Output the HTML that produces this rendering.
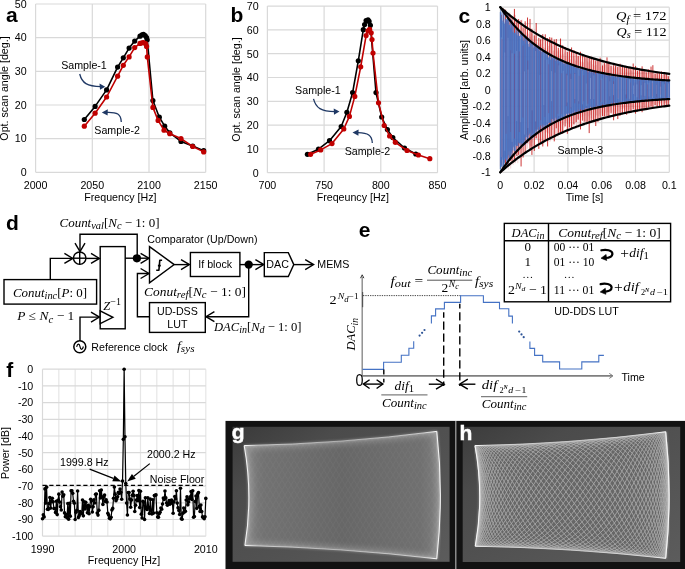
<!DOCTYPE html>
<html><head><meta charset="utf-8"><title>figure</title>
<style>
html,body{margin:0;padding:0;background:#fff;}
svg{display:block;will-change:transform;}
.s{font-family:"Liberation Sans",sans-serif;}
.b{font-family:"Liberation Sans",sans-serif;font-weight:bold;}
.m{font-family:"Liberation Serif",serif;font-style:italic;}
.r{font-family:"Liberation Serif",serif;}
</style></head><body>
<svg width="685" height="569" viewBox="0 0 685 569">
<rect x="0" y="0" width="685" height="569" fill="#fff"/>
<line x1="35.6" y1="4" x2="205.7" y2="4" stroke="#d9d9d9" stroke-width="1.2" />
<line x1="35.6" y1="37.66" x2="205.7" y2="37.66" stroke="#d9d9d9" stroke-width="1.2" />
<line x1="35.6" y1="71.32" x2="205.7" y2="71.32" stroke="#d9d9d9" stroke-width="1.2" />
<line x1="35.6" y1="104.98" x2="205.7" y2="104.98" stroke="#d9d9d9" stroke-width="1.2" />
<line x1="35.6" y1="138.64" x2="205.7" y2="138.64" stroke="#d9d9d9" stroke-width="1.2" />
<line x1="35.6" y1="172.3" x2="205.7" y2="172.3" stroke="#d9d9d9" stroke-width="1.2" />
<line x1="35.6" y1="4" x2="35.6" y2="172.3" stroke="#d9d9d9" stroke-width="1.2" />
<line x1="92.3" y1="4" x2="92.3" y2="172.3" stroke="#d9d9d9" stroke-width="1.2" />
<line x1="149" y1="4" x2="149" y2="172.3" stroke="#d9d9d9" stroke-width="1.2" />
<line x1="205.7" y1="4" x2="205.7" y2="172.3" stroke="#d9d9d9" stroke-width="1.2" />
<text x="26.7" y="7.8" font-size="10.67" text-anchor="end" class="s" fill="#000" >50</text>
<text x="26.7" y="41.46" font-size="10.67" text-anchor="end" class="s" fill="#000" >40</text>
<text x="26.7" y="75.12" font-size="10.67" text-anchor="end" class="s" fill="#000" >30</text>
<text x="26.7" y="108.78" font-size="10.67" text-anchor="end" class="s" fill="#000" >20</text>
<text x="26.7" y="142.44" font-size="10.67" text-anchor="end" class="s" fill="#000" >10</text>
<text x="26.7" y="176.1" font-size="10.67" text-anchor="end" class="s" fill="#000" >0</text>
<text x="35.6" y="188.8" font-size="10.67" text-anchor="middle" class="s" fill="#000" >2000</text>
<text x="92.3" y="188.8" font-size="10.67" text-anchor="middle" class="s" fill="#000" >2050</text>
<text x="149" y="188.8" font-size="10.67" text-anchor="middle" class="s" fill="#000" >2100</text>
<text x="205.7" y="188.8" font-size="10.67" text-anchor="middle" class="s" fill="#000" >2150</text>
<text x="120.4" y="200.8" font-size="10.67" text-anchor="middle" class="s" fill="#000" >Frequency [Hz]</text>
<text transform="translate(8.3,88.5) rotate(-90)" font-size="10.67" text-anchor="middle" class="s">Opt. scan angle [deg.]</text>
<text x="6" y="22" font-size="21" text-anchor="start" class="b" fill="#000" >a</text>
<polyline points="84.3,119.5 95.1,106.4 106.6,89.9 117.6,67.1 123.3,57.8 129.1,48.1 134.7,41.1 140,36.2 142,34.8 143.5,34.4 145.2,35.5 146.6,37.5 147.2,39.8 152.9,100.5 159.3,117.2 164.7,126.2 169.8,132.8 181,141.4 192.7,146.1 203.7,150.7" fill="none" stroke="#000" stroke-width="1.6" stroke-linejoin="round" stroke-linecap="round" />
<circle cx="84.3" cy="119.5" r="2.6" fill="#000"/><circle cx="95.1" cy="106.4" r="2.6" fill="#000"/><circle cx="106.6" cy="89.9" r="2.6" fill="#000"/><circle cx="117.6" cy="67.1" r="2.6" fill="#000"/><circle cx="123.3" cy="57.8" r="2.6" fill="#000"/><circle cx="129.1" cy="48.1" r="2.6" fill="#000"/><circle cx="134.7" cy="41.1" r="2.6" fill="#000"/><circle cx="140" cy="36.2" r="2.6" fill="#000"/><circle cx="142" cy="34.8" r="2.6" fill="#000"/><circle cx="143.5" cy="34.4" r="2.6" fill="#000"/><circle cx="145.2" cy="35.5" r="2.6" fill="#000"/><circle cx="146.6" cy="37.5" r="2.6" fill="#000"/><circle cx="147.2" cy="39.8" r="2.6" fill="#000"/><circle cx="152.9" cy="100.5" r="2.6" fill="#000"/><circle cx="159.3" cy="117.2" r="2.6" fill="#000"/><circle cx="164.7" cy="126.2" r="2.6" fill="#000"/><circle cx="169.8" cy="132.8" r="2.6" fill="#000"/><circle cx="181" cy="141.4" r="2.6" fill="#000"/><circle cx="192.7" cy="146.1" r="2.6" fill="#000"/><circle cx="203.7" cy="150.7" r="2.6" fill="#000"/>
<polyline points="84.3,126.2 95.1,113.2 106.6,97 117.6,76.2 123.3,65.3 129.1,56.9 134.7,47.6 140,43.4 142,42.8 143.5,42.5 145.6,43.7 146.6,46.4 147.3,56.9 152.9,107.4 158.1,120.4 164,130.2 169.8,133.7 181,138.6 192.7,146.5 203.7,151.9" fill="none" stroke="#c00000" stroke-width="1.6" stroke-linejoin="round" stroke-linecap="round" />
<circle cx="84.3" cy="126.2" r="2.6" fill="#c00000"/><circle cx="95.1" cy="113.2" r="2.6" fill="#c00000"/><circle cx="106.6" cy="97" r="2.6" fill="#c00000"/><circle cx="117.6" cy="76.2" r="2.6" fill="#c00000"/><circle cx="123.3" cy="65.3" r="2.6" fill="#c00000"/><circle cx="129.1" cy="56.9" r="2.6" fill="#c00000"/><circle cx="134.7" cy="47.6" r="2.6" fill="#c00000"/><circle cx="140" cy="43.4" r="2.6" fill="#c00000"/><circle cx="142" cy="42.8" r="2.6" fill="#c00000"/><circle cx="143.5" cy="42.5" r="2.6" fill="#c00000"/><circle cx="145.6" cy="43.7" r="2.6" fill="#c00000"/><circle cx="146.6" cy="46.4" r="2.6" fill="#c00000"/><circle cx="147.3" cy="56.9" r="2.6" fill="#c00000"/><circle cx="152.9" cy="107.4" r="2.6" fill="#c00000"/><circle cx="158.1" cy="120.4" r="2.6" fill="#c00000"/><circle cx="164" cy="130.2" r="2.6" fill="#c00000"/><circle cx="169.8" cy="133.7" r="2.6" fill="#c00000"/><circle cx="181" cy="138.6" r="2.6" fill="#c00000"/><circle cx="192.7" cy="146.5" r="2.6" fill="#c00000"/><circle cx="203.7" cy="151.9" r="2.6" fill="#c00000"/>
<text x="61.2" y="69.2" font-size="10.67" text-anchor="start" class="s" fill="#000" >Sample-1</text>
<text x="94.3" y="134" font-size="10.67" text-anchor="start" class="s" fill="#000" >Sample-2</text>
<path d="M79.7,74 C82,83 87,86.5 101,86.6" fill="none" stroke="#1f3864" stroke-width="1.3"/>
<path d="M105.2,86.8 L99.5,83.6 L100,89.8 Z" fill="#1f3864"/>
<path d="M121.3,122 C121,114 117,112 107,112.3" fill="none" stroke="#1f3864" stroke-width="1.3"/>
<path d="M101.8,112.6 L107.8,109.3 L107.6,115.6 Z" fill="#1f3864"/>
<line x1="267.4" y1="6.1" x2="437.5" y2="6.1" stroke="#d9d9d9" stroke-width="1.2" />
<line x1="267.4" y1="29.9" x2="437.5" y2="29.9" stroke="#d9d9d9" stroke-width="1.2" />
<line x1="267.4" y1="53.7" x2="437.5" y2="53.7" stroke="#d9d9d9" stroke-width="1.2" />
<line x1="267.4" y1="77.5" x2="437.5" y2="77.5" stroke="#d9d9d9" stroke-width="1.2" />
<line x1="267.4" y1="101.3" x2="437.5" y2="101.3" stroke="#d9d9d9" stroke-width="1.2" />
<line x1="267.4" y1="125.1" x2="437.5" y2="125.1" stroke="#d9d9d9" stroke-width="1.2" />
<line x1="267.4" y1="148.9" x2="437.5" y2="148.9" stroke="#d9d9d9" stroke-width="1.2" />
<line x1="267.4" y1="172.7" x2="437.5" y2="172.7" stroke="#d9d9d9" stroke-width="1.2" />
<line x1="267.4" y1="6.1" x2="267.4" y2="172.7" stroke="#d9d9d9" stroke-width="1.2" />
<line x1="324.1" y1="6.1" x2="324.1" y2="172.7" stroke="#d9d9d9" stroke-width="1.2" />
<line x1="380.8" y1="6.1" x2="380.8" y2="172.7" stroke="#d9d9d9" stroke-width="1.2" />
<line x1="437.5" y1="6.1" x2="437.5" y2="172.7" stroke="#d9d9d9" stroke-width="1.2" />
<text x="258.7" y="9.9" font-size="10.67" text-anchor="end" class="s" fill="#000" >70</text>
<text x="258.7" y="33.7" font-size="10.67" text-anchor="end" class="s" fill="#000" >60</text>
<text x="258.7" y="57.5" font-size="10.67" text-anchor="end" class="s" fill="#000" >50</text>
<text x="258.7" y="81.3" font-size="10.67" text-anchor="end" class="s" fill="#000" >40</text>
<text x="258.7" y="105.1" font-size="10.67" text-anchor="end" class="s" fill="#000" >30</text>
<text x="258.7" y="128.9" font-size="10.67" text-anchor="end" class="s" fill="#000" >20</text>
<text x="258.7" y="152.7" font-size="10.67" text-anchor="end" class="s" fill="#000" >10</text>
<text x="258.7" y="176.5" font-size="10.67" text-anchor="end" class="s" fill="#000" >0</text>
<text x="267.4" y="188.8" font-size="10.67" text-anchor="middle" class="s" fill="#000" >700</text>
<text x="324.1" y="188.8" font-size="10.67" text-anchor="middle" class="s" fill="#000" >750</text>
<text x="380.8" y="188.8" font-size="10.67" text-anchor="middle" class="s" fill="#000" >800</text>
<text x="437.5" y="188.8" font-size="10.67" text-anchor="middle" class="s" fill="#000" >850</text>
<text x="352.8" y="200.8" font-size="10.67" text-anchor="middle" class="s" fill="#000" >Freqeuncy [Hz]</text>
<text transform="translate(240.2,89.5) rotate(-90)" font-size="10.67" text-anchor="middle" class="s">Opt. scan angle [deg.]</text>
<text x="230.5" y="21.9" font-size="21" text-anchor="start" class="b" fill="#000" >b</text>
<polyline points="307.4,154.3 318.5,149.2 329.5,140.7 341.2,126.5 346.9,112.3 352.6,92.6 358.3,60.8 363.3,29.7 364.6,24.5 366.1,20.6 368,19.8 369.1,21.4 370.4,25.3 376,92.6 381.7,117 387.4,129.6 392.8,137.5 404.5,148 415.8,154" fill="none" stroke="#000" stroke-width="1.6" stroke-linejoin="round" stroke-linecap="round" />
<circle cx="307.4" cy="154.3" r="2.6" fill="#000"/><circle cx="318.5" cy="149.2" r="2.6" fill="#000"/><circle cx="329.5" cy="140.7" r="2.6" fill="#000"/><circle cx="341.2" cy="126.5" r="2.6" fill="#000"/><circle cx="346.9" cy="112.3" r="2.6" fill="#000"/><circle cx="352.6" cy="92.6" r="2.6" fill="#000"/><circle cx="358.3" cy="60.8" r="2.6" fill="#000"/><circle cx="363.3" cy="29.7" r="2.6" fill="#000"/><circle cx="364.6" cy="24.5" r="2.6" fill="#000"/><circle cx="366.1" cy="20.6" r="2.6" fill="#000"/><circle cx="368" cy="19.8" r="2.6" fill="#000"/><circle cx="369.1" cy="21.4" r="2.6" fill="#000"/><circle cx="370.4" cy="25.3" r="2.6" fill="#000"/><circle cx="376" cy="92.6" r="2.6" fill="#000"/><circle cx="381.7" cy="117" r="2.6" fill="#000"/><circle cx="387.4" cy="129.6" r="2.6" fill="#000"/><circle cx="392.8" cy="137.5" r="2.6" fill="#000"/><circle cx="404.5" cy="148" r="2.6" fill="#000"/><circle cx="415.8" cy="154" r="2.6" fill="#000"/>
<polyline points="310.6,154.3 320.7,149.9 332,143.6 343.8,129 349.4,116.4 354.8,96.4 360.7,66.8 366.1,35.6 368,30.9 369.6,29.3 371.2,32.8 372,39.6 373,53.1 378.5,102.8 384.2,125.5 389.6,136 395.3,142.3 407,150.5 418.4,155 429.8,158.7" fill="none" stroke="#c00000" stroke-width="1.6" stroke-linejoin="round" stroke-linecap="round" />
<circle cx="310.6" cy="154.3" r="2.6" fill="#c00000"/><circle cx="320.7" cy="149.9" r="2.6" fill="#c00000"/><circle cx="332" cy="143.6" r="2.6" fill="#c00000"/><circle cx="343.8" cy="129" r="2.6" fill="#c00000"/><circle cx="349.4" cy="116.4" r="2.6" fill="#c00000"/><circle cx="354.8" cy="96.4" r="2.6" fill="#c00000"/><circle cx="360.7" cy="66.8" r="2.6" fill="#c00000"/><circle cx="366.1" cy="35.6" r="2.6" fill="#c00000"/><circle cx="368" cy="30.9" r="2.6" fill="#c00000"/><circle cx="369.6" cy="29.3" r="2.6" fill="#c00000"/><circle cx="371.2" cy="32.8" r="2.6" fill="#c00000"/><circle cx="372" cy="39.6" r="2.6" fill="#c00000"/><circle cx="373" cy="53.1" r="2.6" fill="#c00000"/><circle cx="378.5" cy="102.8" r="2.6" fill="#c00000"/><circle cx="384.2" cy="125.5" r="2.6" fill="#c00000"/><circle cx="389.6" cy="136" r="2.6" fill="#c00000"/><circle cx="395.3" cy="142.3" r="2.6" fill="#c00000"/><circle cx="407" cy="150.5" r="2.6" fill="#c00000"/><circle cx="418.4" cy="155" r="2.6" fill="#c00000"/><circle cx="429.8" cy="158.7" r="2.6" fill="#c00000"/>
<text x="295.1" y="93.8" font-size="10.67" text-anchor="start" class="s" fill="#000" >Sample-1</text>
<text x="344.7" y="154.6" font-size="10.67" text-anchor="start" class="s" fill="#000" >Sample-2</text>
<path d="M313.5,98.8 C316,108 321,111.5 335,111.6" fill="none" stroke="#1f3864" stroke-width="1.3"/>
<path d="M339.5,111.6 L333.7,108.5 L334,114.7 Z" fill="#1f3864"/>
<path d="M372.3,143 C372,135 368,133 358,132.6" fill="none" stroke="#1f3864" stroke-width="1.3"/>
<path d="M352.5,132.6 L358.6,129.4 L358.4,135.7 Z" fill="#1f3864"/>
<line x1="500.3" y1="7.2" x2="669.3" y2="7.2" stroke="#d9d9d9" stroke-width="1.2" />
<line x1="500.3" y1="23.71" x2="669.3" y2="23.71" stroke="#d9d9d9" stroke-width="1.2" />
<line x1="500.3" y1="40.22" x2="669.3" y2="40.22" stroke="#d9d9d9" stroke-width="1.2" />
<line x1="500.3" y1="56.73" x2="669.3" y2="56.73" stroke="#d9d9d9" stroke-width="1.2" />
<line x1="500.3" y1="73.24" x2="669.3" y2="73.24" stroke="#d9d9d9" stroke-width="1.2" />
<line x1="500.3" y1="89.75" x2="669.3" y2="89.75" stroke="#d9d9d9" stroke-width="1.2" />
<line x1="500.3" y1="106.26" x2="669.3" y2="106.26" stroke="#d9d9d9" stroke-width="1.2" />
<line x1="500.3" y1="122.77" x2="669.3" y2="122.77" stroke="#d9d9d9" stroke-width="1.2" />
<line x1="500.3" y1="139.28" x2="669.3" y2="139.28" stroke="#d9d9d9" stroke-width="1.2" />
<line x1="500.3" y1="155.79" x2="669.3" y2="155.79" stroke="#d9d9d9" stroke-width="1.2" />
<line x1="500.3" y1="172.3" x2="669.3" y2="172.3" stroke="#d9d9d9" stroke-width="1.2" />
<line x1="500.3" y1="7.2" x2="500.3" y2="172.3" stroke="#d9d9d9" stroke-width="1.2" />
<line x1="534.1" y1="7.2" x2="534.1" y2="172.3" stroke="#d9d9d9" stroke-width="1.2" />
<line x1="567.9" y1="7.2" x2="567.9" y2="172.3" stroke="#d9d9d9" stroke-width="1.2" />
<line x1="601.7" y1="7.2" x2="601.7" y2="172.3" stroke="#d9d9d9" stroke-width="1.2" />
<line x1="635.5" y1="7.2" x2="635.5" y2="172.3" stroke="#d9d9d9" stroke-width="1.2" />
<line x1="669.3" y1="7.2" x2="669.3" y2="172.3" stroke="#d9d9d9" stroke-width="1.2" />
<text x="490.8" y="11" font-size="10.67" text-anchor="end" class="s" fill="#000" >1</text>
<text x="490.8" y="27.51" font-size="10.67" text-anchor="end" class="s" fill="#000" >0.8</text>
<text x="490.8" y="44.02" font-size="10.67" text-anchor="end" class="s" fill="#000" >0.6</text>
<text x="490.8" y="60.53" font-size="10.67" text-anchor="end" class="s" fill="#000" >0.4</text>
<text x="490.8" y="77.04" font-size="10.67" text-anchor="end" class="s" fill="#000" >0.2</text>
<text x="490.8" y="93.55" font-size="10.67" text-anchor="end" class="s" fill="#000" >0</text>
<text x="490.8" y="110.06" font-size="10.67" text-anchor="end" class="s" fill="#000" >-0.2</text>
<text x="490.8" y="126.57" font-size="10.67" text-anchor="end" class="s" fill="#000" >-0.4</text>
<text x="490.8" y="143.08" font-size="10.67" text-anchor="end" class="s" fill="#000" >-0.6</text>
<text x="490.8" y="159.59" font-size="10.67" text-anchor="end" class="s" fill="#000" >-0.8</text>
<text x="490.8" y="176.1" font-size="10.67" text-anchor="end" class="s" fill="#000" >-1</text>
<text x="500.3" y="188.8" font-size="10.67" text-anchor="middle" class="s" fill="#000" >0</text>
<text x="534.1" y="188.8" font-size="10.67" text-anchor="middle" class="s" fill="#000" >0.02</text>
<text x="567.9" y="188.8" font-size="10.67" text-anchor="middle" class="s" fill="#000" >0.04</text>
<text x="601.7" y="188.8" font-size="10.67" text-anchor="middle" class="s" fill="#000" >0.06</text>
<text x="635.5" y="188.8" font-size="10.67" text-anchor="middle" class="s" fill="#000" >0.08</text>
<text x="669.3" y="188.8" font-size="10.67" text-anchor="middle" class="s" fill="#000" >0.1</text>
<text x="584.5" y="200.8" font-size="10.67" text-anchor="middle" class="s" fill="#000" >Time [s]</text>
<text transform="translate(467.5,90) rotate(-90)" font-size="10.67" text-anchor="middle" class="s">Amplitude [arb. units]</text>
<text x="458.5" y="23" font-size="21" text-anchor="start" class="b" fill="#000" >c</text>
<path d="M500.27,21.35V166.49M501.01,12.07V168.02M501.85,28.56V172.3M502.69,23.22V172.3M503.53,7.95V162.07M504.37,26.55V165.58M505.13,17.46V167.67M505.92,29.86V167.44M506.77,24.35V148.29M507.58,20.59V165.11M508.28,15.16V169.51M509.19,13.66V157.02M509.83,12.4V147.92M510.69,29.17V168.54M511.5,19.81V151.83M512.32,26.17V152.49M513.14,22.02V165.07M514,14.5V163.3M514.77,21.15V146.51M515.51,14.96V163.15M516.37,21.35V146.64M517.01,25.12V147.83M517.82,19.36V163.2M518.63,21.16V149.64M519.57,32.96V157.05M520.21,38.92V153.09M521.18,24.69V146.38M522,19.59V149.66M522.72,34.54V139.99M523.48,40.91V142.11M524.21,29.15V140.8M525.19,24.31V143.65M525.89,24.27V144.51M526.72,32.54V149.5M527.59,32.23V148.51M528.34,33.77V144.2M529.2,39.62V141.14M529.8,34.44V145.6M530.6,36.98V145.75M531.41,33.53V146.29M532.34,33.78V142.61M533.15,39.51V146.77M533.94,46.2V134.02M534.69,28.87V137.24M535.47,36.29V138.12M536.32,41.92V138.62M537.15,42.55V138.36M537.95,47.92V141.44M538.76,43.17V134.75M539.49,44.84V133.75M540.26,37.07V131.86M541.09,43.91V144.37M541.87,35.2V132.33M542.69,39.21V144.35M543.51,46.92V130.79M544.37,47.86V142.11M545.16,48.33V132.77M545.87,41.01V141.23M546.76,49.91V132.28M547.48,47.92V132.82M548.38,45.84V133.49M549.19,50.47V126.58M549.89,39.19V142.02M550.64,38.49V140.64M551.53,42.15V138.79M552.27,46.08V129.82M553.12,50.97V126.06M553.81,50.37V137.18M554.78,41.29V135.01M555.52,41.8V137.75M556.23,55.45V135.04M557.1,51.46V133.44M557.92,50.1V137.16M558.77,51.48V126.72M559.47,49.82V134.11M560.36,54.18V130.18M561.18,54.84V133.52M561.8,46.14V133.61M562.61,48.99V133.8M563.51,54.3V125.16M564.36,52.49V127.7M565.03,58.57V121.66M565.99,57.15V121.58M566.7,47.58V121.56M567.47,55.12V124.36M568.27,51.01V127.69M569.02,57.32V123.99M569.88,52.83V128.77M570.67,59.29V121.49M571.48,52.8V128.99M572.29,50.59V126.64M573.14,56.32V124.74M573.89,55.99V126.94M574.74,58.44V124.68M575.49,60.83V123.03M576.27,51.17V129.02M577.05,51.26V126.94M577.96,56.79V118.6M578.76,54.69V127.5M579.51,54.91V125.38M580.2,61.82V123.38M581.01,61.57V125.29M581.98,62.39V117.19M582.77,61.61V116.11M583.53,62.49V125.24M584.32,54.63V126.19M585.15,55.33V115.63M585.82,58.79V122.97M586.61,56.42V125.13M587.57,61.33V120.8M588.25,62.44V116.38M589.08,58.63V122.35M589.87,61.53V118.28M590.7,61.21V114.74M591.55,55.6V118.01M592.35,64.34V120.69M593.1,59.23V118.65M593.83,59.78V122.33M594.78,65.59V120.56M595.54,61.52V117.23M596.24,65.06V115.26M597.05,61.27V115.53M597.86,60.45V121.65M598.77,60.53V116.1M599.44,61.93V114.48M600.28,67.57V116.34M601.06,66.31V114.99M602,60.77V112.74M602.69,63.77V116.86M603.51,60.64V118.74M604.37,64.15V117.58M605.19,65.09V117.48M605.85,64.66V112.66M606.79,62.58V116.54M607.44,61.56V112.43M608.34,67.1V111.76M609.05,61.94V117.93M609.88,62.09V112.54M610.62,63.49V110.38M611.47,62.78V112.02M612.2,65.17V115.15M613.1,67.45V112.92M613.99,68.67V114.01M614.62,67.31V113.48M615.42,68.45V114.32M616.22,63.52V116.16M617.15,63.27V111.56M617.94,64.97V110.75M618.65,65.99V114.74M619.53,65.36V115.81M620.3,67.28V108.83M621.14,68.91V113.49M621.93,67.37V109.1M622.78,67.03V108.93M623.59,67.01V108.36M624.34,71.14V109.83M625.13,67.78V111.39M625.84,69V109.39M626.75,72.09V112.29M627.47,68.66V112.31M628.37,70.88V109.5M629.05,72.67V110.25M629.87,67.46V109M630.75,70.28V110.22M631.42,70.79V112.28M632.22,71.51V106.76M633.04,68.02V111.11M633.95,72.35V108.76M634.72,68.07V110.96M635.44,72.89V108.37M636.24,70.37V109.41M637.01,72.42V110.74M637.99,68.76V111.34M638.72,71.76V108.89M639.54,70.2V111.61M640.3,72.57V110.68M641,70.68V109.65M641.9,69.7V109.08M642.64,71.46V107.63M643.5,71.55V104.76M644.31,70.92V107.28M645.03,69.04V110.03M645.81,70.25V108.18M646.62,73.11V105.59M647.46,72.1V109.85M648.23,70.16V108.25M649.19,70.37V107.54M649.87,71.37V108.27M650.77,70.94V109.32M651.5,73.31V108.13M652.22,75.4V103.7M653.1,74.95V104.31M653.88,72.09V106.45M654.69,72.5V104.97M655.44,71.98V105.43M656.27,71.27V107.18M657.12,74.45V105.96M657.84,75.4V102.83M658.69,72.3V103.55M659.43,75.75V103.83M660.21,74.67V103.51M661.1,76.41V103.42M661.89,76.78V102.52M662.61,74.94V106.19M663.41,75.06V104.4M664.22,72.09V103.34M665.12,74.86V102.96M665.81,75.65V102.65M666.76,73.7V103.38M667.46,75.2V106.79M668.36,76.43V103.16M669.02,74.52V103.48" stroke="#e9a3a3" stroke-width="0.8" fill="none" opacity="0.55"/>
<path d="M501.32,14.75V164.92M503.47,8.74V168.92M505.62,9.66V166.11M508.01,14.44V165.45M510.06,15.16V160.99M512.06,17V162.51M514.42,8.91V159.48M516.83,22.01V155.98M518.62,19.06V154.84M521.09,20.18V166.46M523.11,27.34V157.5M525.16,21.29V153.51M527.53,17.53V142.92M530.03,18.96V149.54M531.92,28.81V154.93M534.32,35.43V150.94M536.2,23.02V138.32M538.81,37.88V148.89M540.59,39.4V142.3M542.77,34.2V146.48M545.25,34.31V140.42M547.61,38.09V146.44M549.72,37.1V139.31M551.77,37.63V135.94M554.25,39.46V141.39M556.31,39.02V128.3M558.34,47.81V134.59M560.52,38.55V132.69M562.73,45.21V133.54M565.13,47.04V126.43M567.33,52V133.77M569.44,50.83V127.35M571.58,47.45V128.88M573.87,50.16V124.27M576.18,52.93V122.07M578.21,56V119.69M580.5,51.78V129.44M582.64,55.68V120.69M584.87,56.95V121.67M587.08,56.52V122.54M589.19,56.46V133.1M591.24,57.72V122.41M593.66,58.31V121.54M595.75,60.5V126.02M597.94,60.2V121.8M600.12,57.69V119.69M602.56,65.48V115.97M604.63,62.84V116.37M607,57.37V115.91M608.82,61.91V116.69M611.06,66.04V113.31M613.61,65.16V120.28M615.56,65.57V114.29M617.79,67.05V119.09M620.14,63.74V115.7M622.42,65.81V113.33M624.64,66.16V111.89M626.65,67.46V114.74M628.82,67.36V111.39M630.93,68.43V112.84M633.18,63.53V109.29M635.54,65.93V113.65M637.59,70.73V111.31M639.65,68.22V109.34M642.1,66.34V112.21M644.02,71.21V109.78M646.23,72.23V109.18M648.76,69.29V107.35M651.04,66.59V106.39M652.86,65.2V107.88M655.1,73.81V105.13M657.23,71.65V106.9M659.39,72.83V106.68M661.62,71.44V107.16M664.22,74.1V106.74M666.27,73.75V106.3M668.28,76.22V105.65" stroke="#c00000" stroke-width="0.8" fill="none" opacity="1"/>
<path d="M500.34,12.04V169.06M500.93,12.71V167.41M501.55,17.65V166.6M502.14,9.72V159.74M502.8,20.59V169.13M503.45,22.04V170.67M503.99,14.29V164.67M504.6,23.91V162.64M505.21,22.26V157.94M505.91,19.33V159.85M506.5,19.38V161.73M507.1,18.27V158.53M507.77,14.71V164.77M508.33,19.26V155.19M509.01,25.36V151.36M509.59,24.67V160.44M510.17,18.46V159.67M510.84,28.44V159.67M511.42,19.74V152.67M512.06,24.73V156.56M512.75,31.89V150.53M513.29,24.63V147.34M513.97,32.99V146.03M514.55,32.73V151.17M515.14,33.2V152.46M515.79,28.71V144.85M516.47,34.18V145.96M517.08,28.27V145.73M517.7,35.4V146.1M518.33,31.34V142.32M518.93,36.54V143.44M519.48,35.9V143.26M520.11,38.97V145.67M520.76,34.24V142.89M521.39,31.18V143.46M521.97,32.75V139.85M522.59,32.94V145.65M523.28,40.65V144.28M523.9,41.11V145.76M524.44,37.69V140.05M525.07,43.65V144.69M525.75,37.84V137.42M526.31,39.4V137.26M526.93,38.79V134.67M527.59,40.81V141.38M528.17,43.86V141.42M528.81,46.71V135.06M529.43,46.77V133.76M530.05,42.73V132.9M530.7,40.45V139.83M531.26,42.68V135.9M531.96,48.77V130.59M532.49,43.58V138.12M533.18,44.61V133.61M533.74,47.69V137.42M534.44,46.28V134.78M535.05,45.18V134.05M535.66,44.22V130.77M536.25,44.81V134.46M536.89,46.13V133.94M537.51,47.87V129.75M538.13,48.42V127.02M538.76,45.93V132.71M539.37,50.92V131.18M539.94,50.93V131.53M540.61,49.05V125.15M541.24,51.43V126.25M541.88,51.7V128.65M542.44,53.81V123.95M543.05,51.19V124.95M543.69,49.99V127.8M544.34,50.48V125.11M544.97,55.63V125.46M545.55,51.12V128.15M546.14,53.73V123.98M546.83,54.67V127.1M547.4,53.6V127.47M548.02,57.5V123.84M548.67,57.53V123.26M549.31,56.06V122.3M549.86,53.3V122.85M550.47,59.62V125.15M551.12,55.71V122.93M551.72,55.54V119.22M552.41,57.92V118.96M552.95,59.54V119.38M553.63,57.5V120.91M554.29,57.66V122.74M554.86,57.8V118.86M555.48,61.04V117.49M556.08,58.25V118.18M556.72,60.64V120.86M557.33,59.41V120.89M557.92,58.71V121.43M558.54,58.23V120.11M559.24,61.15V119.29M559.86,61.84V118.7M560.44,59.85V120.44M561.08,60.91V116.22M561.7,60.3V118.27M562.35,63.73V119.35M562.95,60.03V117.2M563.58,63.67V118.85M564.15,63.77V114.38M564.78,63V117.6M565.36,65.84V117.54M566,62.26V114.15M566.6,62.57V113.77M567.29,64.14V116.37M567.88,63.54V117.19M568.47,62.55V112.85M569.14,64.78V113.6M569.77,64.49V114.47M570.35,65.08V113.27M570.95,64V115.76M571.6,64.2V115.83M572.22,65.68V112.14M572.79,66.21V113.75M573.45,64.36V113.14M574.08,65.32V113.13M574.7,66.02V110.77M575.36,67.42V114.42M575.9,68.23V112.14M576.6,67.72V113.39M577.15,67.74V111.1M577.76,67.34V113.43M578.39,66.87V109.51M579.02,69.32V112.05M579.62,68.98V111.59M580.28,67.65V109.41M580.9,69.75V109.54M581.51,69.19V110.07M582.11,69V109.05M582.76,68.78V110.75M583.42,68.11V110.47M584.03,70.65V110.79M584.6,68.28V109M585.29,68.38V108.48M585.83,68.69V108.01M586.44,69.46V108.32M587.13,69.24V108.76M587.74,71.97V108.54M588.36,72.5V107.66M588.92,69.46V110.25M589.58,71.06V109.34M590.16,70.57V107.18M590.83,72.75V106.51M591.4,71.47V108.22M592.09,72.75V106.82M592.64,70.14V109.14M593.3,73.43V109.07M593.92,71.21V106.83M594.55,72.18V107.04M595.19,73.97V107.79M595.8,73.54V106.85M596.37,72.94V105.88M597.06,72.73V105.17M597.68,71.93V107.26M598.27,72.62V106.17M598.91,73.14V107.86M599.52,74.03V107.5M600.11,72.54V107.07M600.76,72.31V107.14M601.35,72.83V106.66M601.96,73.09V104.43M602.59,73.98V104.14M603.19,73.59V105.87M603.82,72.8V105.88M604.46,73.76V105.48M605.09,74.66V106.62M605.75,73.87V105.81M606.34,75.94V105.27M606.9,75.37V104.55M607.52,75.64V104.37M608.19,75.59V105.76M608.81,74.97V105.82M609.45,73.72V104.79M610.07,76.36V104.58M610.63,76.54V105.38M611.28,75.47V103.21M611.94,75.19V102.82M612.53,75.8V103.98M613.16,76.04V103.24M613.78,75.62V103.15M614.35,76.41V102.35M615.03,77.16V102.64M615.64,76.34V104.48M616.28,77.31V104.61M616.85,77.33V104.3M617.45,76.38V104.38M618.12,76.35V104.19M618.75,76.58V104.21M619.35,76.32V101.96M619.92,76.77V102.1M620.57,76.68V101.83M621.18,76.42V102.56M621.85,76.71V102.39M622.49,76.92V103.71M623.02,76.51V101.8M623.69,76.21V103.03M624.32,77.56V101.73M624.93,77.15V102.42M625.51,76.78V101.4M626.2,76.33V103.02M626.76,78.59V100.96M627.36,77.77V102.19M627.98,77.57V100.86M628.65,77.34V101.88M629.23,78.09V101.64M629.91,78.23V102.18M630.53,78.9V100.71M631.09,77.74V102.09M631.77,78.24V100.89M632.41,78.43V101.7M633,78.59V101.4M633.59,77.36V101.07M634.18,79.21V101.98M634.84,79.29V101.24M635.49,78.06V100.61M636.1,79.42V100.37M636.72,79.47V100.5M637.28,78.23V100.4M637.93,79V101.27M638.57,79.55V101.18M639.22,77.95V101.6M639.78,79V101.25M640.46,79.3V100.37M641.03,78.18V100M641.65,79.31V100.19M642.29,79.32V99.79M642.93,78.55V100.44M643.55,79.07V99.66M644.09,78.49V99.82M644.77,79.27V100.29M645.41,78.43V100.45M646.03,80.26V100.19M646.64,80.26V99.23M647.25,78.72V99.19M647.87,80.24V100.43M648.51,80.09V99.37M649.09,79.6V100.36M649.74,80V100.7M650.36,79.75V99.84M650.95,79.39V100.5M651.62,79.21V99.99M652.24,79.3V100.26M652.82,79.06V99.85M653.43,79.57V100.1M654.08,80.15V98.85M654.65,79.14V99.23M655.28,80.63V99.28M655.9,79.27V98.57M656.57,80.87V99.6M657.16,80.79V98.5M657.73,80.09V99.99M658.37,80.99V98.65M659.03,80.8V99.56M659.62,80.85V98.58M660.24,80.98V99.56M660.88,80.35V99.62M661.54,80.9V99.71M662.17,80.79V99.07M662.69,80.58V98.47M663.35,79.81V99.44M663.96,80.57V98.91M664.57,79.81V99.12M665.21,81.53V98.77M665.85,80.21V99.14M666.44,81.34V98.16M667.08,81.2V99.34M667.68,80.59V99.51M668.35,80.79V98.06M668.97,81.72V99.16M669.54,80.38V97.89" stroke="#4472c4" stroke-width="0.85" fill="none" opacity="1"/>
<path d="M501.95,39.18V157.44M505.88,21.01V133.82M510.59,50.27V131.92M514.47,53.71V138.58M519.27,51.48V132.07M523.12,45.64V117.57M527.85,60.55V137.4M532.1,47.01V132.97M536.01,46.85V129.23M540.7,51.85V120.21M544.69,59.89V117.04M548.79,64.29V113.14M553.79,59.5V119.65M557.9,63.47V113.91M561.95,73.24V114.14M566.32,73.71V106.14M570.68,73.72V108.42M574.89,72.97V103.34M578.96,75.77V103.73M583.62,75.18V101.19M587.98,70.09V103.73M591.81,71.36V99.67M596.51,73.48V106.31M600.99,79.84V101.83M604.76,74.44V104.39M609.47,75.43V100.37M613.68,81.37V104.27M617.99,77.63V98.28M622.09,79.11V100.46M626.34,78.6V98.41M630.49,82.53V100.19M635.21,82.44V96.12M639.03,80.81V98.62M643.37,81.77V97.2M647.7,84.37V100.47M652.38,82.99V96.34M656.49,84.32V97.16M660.77,80.76V94.68M665.21,82.61V99.15M669.34,82.89V97.52" stroke="#b00020" stroke-width="0.6" fill="none" opacity="0.35"/>
<path d="M501.16,37.36V157.31M504.8,52.46V150.69M508.03,37.77V116.21M512.15,53.24V141.9M516.65,50.94V121.14M520.7,36.81V122.23M524.48,71.33V134.55M528.06,69.61V128.12M531.94,46.17V110.41M535.61,51.04V121.44M539.67,75.09V127.57M543.91,52.86V105.01M547.02,59.47V122.56M551.65,71.15V101.2M555.17,72.63V119.56M558.94,65.35V115.99M563.13,70.81V116.14M567.29,75.35V102.53M570.96,78.92V107.39M574.96,73.87V99M578.53,69.34V101.31M582.37,70.52V104.34M586.35,83.48V105.92M590.53,78.01V99.03M593.88,75.44V99.02M597.72,73.17V105.46M602,78.55V102.28M606.09,77.3V104.57M609.65,81.24V96.31M613.51,83.9V95.21M618,77.8V98.9M621.15,77.58V100.95M625.77,78V94.45M629.3,79.14V98.88M633.44,85.52V94.06M636.97,84.4V97.31M641.32,85.15V95.32M644.99,82.98V95.85M648.85,82.72V96.52M652.53,80.13V97.92M656.56,84.64V94.01M660.67,86.62V97.45M664.33,84.24V98.19M668.46,83.42V98.22" stroke="#b4c7ea" stroke-width="0.6" fill="none" opacity="0.5"/>
<path d="M500.52,7.2V172.3M503.6,12.71V165.31M505.46,18.89V158.92M508.07,22.45V157.81M510.71,27.18V154.7M513.07,25.19V150.48M515.99,31.74V151.14M518.61,29.28V150.88M521.56,37.73V147.48M523.7,37.45V144.32M526.79,35.44V143.39M529.15,37.5V136.27M531.59,41.46V138.58M533.9,47.84V135.2M536.85,45.69V128.95M539.48,49.06V128.04M542.5,50.64V128.02M544.44,50.04V129.61M546.91,56.61V124.95M549.53,54.14V122.87M552.74,57.86V122.28M555.28,58.23V120.45M557.89,61.55V118.77M559.87,59.28V117.11M562.42,61.6V118.59M565.09,62.99V115.8M568.07,65.13V114.85M571.08,66.3V115.28M573.45,64.92V112.16M575.78,66.02V111.11M578.93,66.8V113.78M581.56,67.91V111.66M583.26,69.9V110.62M586.01,68.73V110.37M589.15,71.27V109.26M591.51,72.08V108M594.33,72.29V109.06M596.88,70.85V107.74M599.23,73.31V106.8M602.25,73.3V105.08M604.93,74.65V105.64M606.86,74.19V106.21M609.52,74.76V104.53M612.64,75.42V104.26M615.07,74.42V103.04M617.04,75.84V103.4M619.97,76.58V102.83M622.5,76.42V102.59M625.19,77.43V103.54M628.06,76.31V101.55M630.51,77.46V102.35M632.65,77.13V101.81M635.45,77.78V101.59M638.08,77.96V101.74M640.99,79.27V100.49M643.45,78.96V99.88M645.95,79V100.55M648.46,78.8V100.51M651.02,79.75V100.72M653.98,79.77V99.5M656.19,79.38V99.03M659.12,80.72V98.88M661.65,80.21V100M664.03,80.31V98.43M667.19,80.78V98.62M669.53,80.76V98.33" stroke="#4472c4" stroke-width="0.6" fill="none" opacity="0.9"/>
<polyline points="500.3,7.2 501.99,8.71 503.68,10.18 505.37,11.63 507.06,13.05 508.75,14.45 510.44,15.81 512.13,17.15 513.82,18.47 515.51,19.75 517.2,21.02 518.89,22.25 520.58,23.47 522.27,24.66 523.96,25.83 525.65,26.97 527.34,28.1 529.03,29.2 530.72,30.28 532.41,31.33 534.1,32.37 535.79,33.39 537.48,34.39 539.17,35.37 540.86,36.33 542.55,37.27 544.24,38.19 545.93,39.1 547.62,39.98 549.31,40.85 551,41.71 552.69,42.54 554.38,43.36 556.07,44.17 557.76,44.96 559.45,45.73 561.14,46.49 562.83,47.23 564.52,47.96 566.21,48.68 567.9,49.38 569.59,50.07 571.28,50.74 572.97,51.4 574.66,52.05 576.35,52.69 578.04,53.31 579.73,53.92 581.42,54.52 583.11,55.11 584.8,55.69 586.49,56.25 588.18,56.8 589.87,57.35 591.56,57.88 593.25,58.4 594.94,58.92 596.63,59.42 598.32,59.91 600.01,60.39 601.7,60.87 603.39,61.33 605.08,61.79 606.77,62.24 608.46,62.67 610.15,63.1 611.84,63.52 613.53,63.94 615.22,64.34 616.91,64.74 618.6,65.13 620.29,65.51 621.98,65.89 623.67,66.25 625.36,66.61 627.05,66.97 628.74,67.31 630.43,67.65 632.12,67.98 633.81,68.31 635.5,68.63 637.19,68.95 638.88,69.25 640.57,69.55 642.26,69.85 643.95,70.14 645.64,70.43 647.33,70.7 649.02,70.98 650.71,71.25 652.4,71.51 654.09,71.77 655.78,72.02 657.47,72.27 659.16,72.51 660.85,72.75 662.54,72.98 664.23,73.21 665.92,73.44 667.61,73.66 669.3,73.88" fill="none" stroke="#000" stroke-width="2.2" stroke-linejoin="round" stroke-linecap="round" />
<polyline points="500.3,172.3 501.99,170.79 503.68,169.32 505.37,167.87 507.06,166.45 508.75,165.05 510.44,163.69 512.13,162.35 513.82,161.03 515.51,159.75 517.2,158.48 518.89,157.25 520.58,156.03 522.27,154.84 523.96,153.67 525.65,152.53 527.34,151.4 529.03,150.3 530.72,149.22 532.41,148.17 534.1,147.13 535.79,146.11 537.48,145.11 539.17,144.13 540.86,143.17 542.55,142.23 544.24,141.31 545.93,140.4 547.62,139.52 549.31,138.65 551,137.79 552.69,136.96 554.38,136.14 556.07,135.33 557.76,134.54 559.45,133.77 561.14,133.01 562.83,132.27 564.52,131.54 566.21,130.82 567.9,130.12 569.59,129.43 571.28,128.76 572.97,128.1 574.66,127.45 576.35,126.81 578.04,126.19 579.73,125.58 581.42,124.98 583.11,124.39 584.8,123.81 586.49,123.25 588.18,122.7 589.87,122.15 591.56,121.62 593.25,121.1 594.94,120.58 596.63,120.08 598.32,119.59 600.01,119.11 601.7,118.63 603.39,118.17 605.08,117.71 606.77,117.26 608.46,116.83 610.15,116.4 611.84,115.98 613.53,115.56 615.22,115.16 616.91,114.76 618.6,114.37 620.29,113.99 621.98,113.61 623.67,113.25 625.36,112.89 627.05,112.53 628.74,112.19 630.43,111.85 632.12,111.52 633.81,111.19 635.5,110.87 637.19,110.55 638.88,110.25 640.57,109.95 642.26,109.65 643.95,109.36 645.64,109.07 647.33,108.8 649.02,108.52 650.71,108.25 652.4,107.99 654.09,107.73 655.78,107.48 657.47,107.23 659.16,106.99 660.85,106.75 662.54,106.52 664.23,106.29 665.92,106.06 667.61,105.84 669.3,105.62" fill="none" stroke="#000" stroke-width="2.2" stroke-linejoin="round" stroke-linecap="round" />
<polyline points="500.3,7.2 501.99,9.69 503.68,12.1 505.37,14.43 507.06,16.68 508.75,18.86 510.44,20.97 512.13,23.01 513.82,24.98 515.51,26.88 517.2,28.73 518.89,30.51 520.58,32.24 522.27,33.91 523.96,35.52 525.65,37.08 527.34,38.59 529.03,40.05 530.72,41.47 532.41,42.83 534.1,44.15 535.79,45.43 537.48,46.67 539.17,47.86 540.86,49.02 542.55,50.14 544.24,51.22 545.93,52.27 547.62,53.28 549.31,54.26 551,55.21 552.69,56.12 554.38,57.01 556.07,57.87 557.76,58.69 559.45,59.5 561.14,60.27 562.83,61.02 564.52,61.75 566.21,62.45 567.9,63.13 569.59,63.78 571.28,64.42 572.97,65.03 574.66,65.63 576.35,66.2 578.04,66.76 579.73,67.29 581.42,67.81 583.11,68.32 584.8,68.8 586.49,69.27 588.18,69.73 589.87,70.17 591.56,70.59 593.25,71 594.94,71.4 596.63,71.79 598.32,72.16 600.01,72.52 601.7,72.87 603.39,73.2 605.08,73.53 606.77,73.85 608.46,74.15 610.15,74.45 611.84,74.73 613.53,75.01 615.22,75.27 616.91,75.53 618.6,75.78 620.29,76.02 621.98,76.26 623.67,76.48 625.36,76.7 627.05,76.91 628.74,77.12 630.43,77.31 632.12,77.51 633.81,77.69 635.5,77.87 637.19,78.04 638.88,78.21 640.57,78.37 642.26,78.53 643.95,78.68 645.64,78.83 647.33,78.97 649.02,79.1 650.71,79.24 652.4,79.36 654.09,79.49 655.78,79.61 657.47,79.72 659.16,79.84 660.85,79.95 662.54,80.05 664.23,80.15 665.92,80.25 667.61,80.34 669.3,80.44" fill="none" stroke="#000" stroke-width="2.2" stroke-linejoin="round" stroke-linecap="round" />
<polyline points="500.3,172.3 501.99,169.81 503.68,167.4 505.37,165.07 507.06,162.82 508.75,160.64 510.44,158.53 512.13,156.49 513.82,154.52 515.51,152.62 517.2,150.77 518.89,148.99 520.58,147.26 522.27,145.59 523.96,143.98 525.65,142.42 527.34,140.91 529.03,139.45 530.72,138.03 532.41,136.67 534.1,135.35 535.79,134.07 537.48,132.83 539.17,131.64 540.86,130.48 542.55,129.36 544.24,128.28 545.93,127.23 547.62,126.22 549.31,125.24 551,124.29 552.69,123.38 554.38,122.49 556.07,121.63 557.76,120.81 559.45,120 561.14,119.23 562.83,118.48 564.52,117.75 566.21,117.05 567.9,116.37 569.59,115.72 571.28,115.08 572.97,114.47 574.66,113.87 576.35,113.3 578.04,112.74 579.73,112.21 581.42,111.69 583.11,111.18 584.8,110.7 586.49,110.23 588.18,109.77 589.87,109.33 591.56,108.91 593.25,108.5 594.94,108.1 596.63,107.71 598.32,107.34 600.01,106.98 601.7,106.63 603.39,106.3 605.08,105.97 606.77,105.65 608.46,105.35 610.15,105.05 611.84,104.77 613.53,104.49 615.22,104.23 616.91,103.97 618.6,103.72 620.29,103.48 621.98,103.24 623.67,103.02 625.36,102.8 627.05,102.59 628.74,102.38 630.43,102.19 632.12,101.99 633.81,101.81 635.5,101.63 637.19,101.46 638.88,101.29 640.57,101.13 642.26,100.97 643.95,100.82 645.64,100.67 647.33,100.53 649.02,100.4 650.71,100.26 652.4,100.14 654.09,100.01 655.78,99.89 657.47,99.78 659.16,99.66 660.85,99.55 662.54,99.45 664.23,99.35 665.92,99.25 667.61,99.16 669.3,99.06" fill="none" stroke="#000" stroke-width="2.2" stroke-linejoin="round" stroke-linecap="round" />
<text x="557.5" y="154.3" font-size="10.67" text-anchor="start" class="s" fill="#000" >Sample-3</text>
<text x="616" y="19.8" font-size="13" class="m" textLength="50.5" lengthAdjust="spacingAndGlyphs">Q<tspan font-size="9.5" dy="2.8">f</tspan><tspan dy="-2.8" class="r" font-style="normal"> = 172</tspan></text>
<text x="616.5" y="35.5" font-size="13" class="m" textLength="50" lengthAdjust="spacingAndGlyphs">Q<tspan font-size="9.5" dy="2.8">s</tspan><tspan dy="-2.8" class="r" font-style="normal"> = 112</tspan></text>
<text x="6" y="230" font-size="21" text-anchor="start" class="b" fill="#000" >d</text>
<text x="59.5" y="226.8" font-size="12.5" class="m" textLength="100" lengthAdjust="spacingAndGlyphs">Count<tspan font-size="10" dy="2.6">val</tspan><tspan dy="-2.6" class="r" font-style="normal">[</tspan>N<tspan font-size="10" dy="2.6">c</tspan><tspan dy="-2.6" class="r" font-style="normal"> − 1: 0]</tspan></text>
<polyline points="137.2,258 137.2,234.3 80,234.3 80,251.5" fill="none" stroke="#000" stroke-width="1.4"/>
<polyline points="75,243.2 80,251.6 85,243.2" fill="none" stroke="#000" stroke-width="1.4" stroke-linejoin="miter"/>
<circle cx="79.7" cy="258.2" r="6.2" fill="#fff" stroke="#000" stroke-width="1.4"/>
<line x1="73.5" y1="258.2" x2="85.9" y2="258.2" stroke="#000" stroke-width="1.4" />
<line x1="79.7" y1="252" x2="79.7" y2="264.4" stroke="#000" stroke-width="1.4" />
<polyline points="50.3,279.5 50.3,258.4 73,258.4" fill="none" stroke="#000" stroke-width="1.4"/>
<polyline points="64.4,263.4 72.8,258.4 64.4,253.4" fill="none" stroke="#000" stroke-width="1.4" stroke-linejoin="miter"/>
<rect x="4" y="279.6" width="92.6" height="24.5" fill="#fff" stroke="#000" stroke-width="1.4"/>
<text x="13" y="296.5" font-size="12.5" class="m" textLength="74" lengthAdjust="spacingAndGlyphs">Conut<tspan font-size="10" dy="2.6">inc</tspan><tspan dy="-2.6" class="r" font-style="normal">[</tspan>P<tspan class="r" font-style="normal">: 0]</tspan></text>
<rect x="100.2" y="246.6" width="25" height="82.2" fill="#fff" stroke="#000" stroke-width="1.4"/>
<line x1="86" y1="258.4" x2="99" y2="258.4" stroke="#000" stroke-width="1.4" />
<polyline points="91,263.4 99.4,258.4 91,253.4" fill="none" stroke="#000" stroke-width="1.4" stroke-linejoin="miter"/>
<line x1="125.2" y1="258.2" x2="137.2" y2="258.2" stroke="#000" stroke-width="1.4" />
<circle cx="136.9" cy="258.3" r="4.1" fill="#000"/>
<line x1="137.2" y1="258.2" x2="148.5" y2="258.2" stroke="#000" stroke-width="1.4" />
<polyline points="140.6,263.3 149,258.3 140.6,253.3" fill="none" stroke="#000" stroke-width="1.4" stroke-linejoin="miter"/>
<text x="103.3" y="310" font-size="12.5" class="m">Z<tspan font-size="10" dy="-5" class="r" font-style="normal">−1</tspan></text>
<polygon points="100.2,310.9 112.9,317.3 100.2,323.7" fill="#fff" stroke="#000" stroke-width="1.4"/>
<polyline points="80,341 80,317.1 99,317.1" fill="none" stroke="#000" stroke-width="1.4"/>
<polyline points="91,322.1 99.4,317.1 91,312.1" fill="none" stroke="#000" stroke-width="1.4" stroke-linejoin="miter"/>
<circle cx="79.8" cy="346.7" r="6" fill="#fff" stroke="#000" stroke-width="1.5"/>
<path d="M76.6,346.9 C77.6,343.2 79.4,343.2 80,346.7 C80.6,350.2 82.4,350.2 83.4,346.5" fill="none" stroke="#000" stroke-width="1.2"/>
<text x="91.3" y="351.2" font-size="10.67" text-anchor="start" class="s" fill="#000" >Reference clock</text>
<text x="177" y="349.8" font-size="12.5" class="m" textLength="17.5" lengthAdjust="spacingAndGlyphs">f<tspan font-size="10" dy="2.6">sys</tspan></text>
<text x="17.3" y="320" font-size="12.5" class="m" textLength="57" lengthAdjust="spacingAndGlyphs">P<tspan class="r" font-style="normal"> ≤ </tspan>N<tspan font-size="10" dy="2.6">c</tspan><tspan dy="-2.6" class="r" font-style="normal"> − 1</tspan></text>
<text x="147.3" y="243" font-size="10.67" text-anchor="start" class="s" fill="#000" >Comparator (Up/Down)</text>
<polygon points="149.5,246.6 174.2,264.6 149.5,282.8" fill="#fff" stroke="#000" stroke-width="1.4"/>
<path d="M156.2,270.3 L158.9,270.3 L159.8,260.3 L162.1,260.3 M157.9,265.6 L160.8,265.6" fill="none" stroke="#000" stroke-width="1.6" stroke-linejoin="round"/>
<polyline points="149.5,316.7 137.4,316.7 137.4,273.5 148.5,273.5" fill="none" stroke="#000" stroke-width="1.4"/>
<polyline points="140.6,278.5 149,273.5 140.6,268.5" fill="none" stroke="#000" stroke-width="1.4" stroke-linejoin="miter"/>
<line x1="174.2" y1="264.6" x2="189" y2="264.6" stroke="#000" stroke-width="1.4" />
<polyline points="181,269.6 189.4,264.6 181,259.6" fill="none" stroke="#000" stroke-width="1.4" stroke-linejoin="miter"/>
<rect x="190.4" y="252.5" width="49.5" height="24" fill="#fff" stroke="#000" stroke-width="1.4"/>
<text x="215.2" y="268" font-size="10.67" text-anchor="middle" class="s" fill="#000" >If block</text>
<line x1="239.9" y1="264.6" x2="263" y2="264.6" stroke="#000" stroke-width="1.4" />
<circle cx="248.7" cy="264.6" r="4.2" fill="#000"/>
<polyline points="255.4,269.6 263.8,264.6 255.4,259.6" fill="none" stroke="#000" stroke-width="1.4" stroke-linejoin="miter"/>
<polygon points="264.3,252.6 288.3,252.6 293.8,264.6 288.3,276.5 264.3,276.5" fill="#fff" stroke="#000" stroke-width="1.4"/>
<text x="277.6" y="268" font-size="10.67" text-anchor="middle" class="s" fill="#000" >DAC</text>
<line x1="293.8" y1="264.6" x2="312.5" y2="264.6" stroke="#000" stroke-width="1.4" />
<polyline points="305.2,269.6 313.6,264.6 305.2,259.6" fill="none" stroke="#000" stroke-width="1.4" stroke-linejoin="miter"/>
<text x="317.3" y="268" font-size="10.67" text-anchor="start" class="s" fill="#000" >MEMS</text>
<polyline points="248.7,264.6 248.7,316.7 206.5,316.7" fill="none" stroke="#000" stroke-width="1.4"/>
<polyline points="214.4,311.7 206,316.7 214.4,321.7" fill="none" stroke="#000" stroke-width="1.4" stroke-linejoin="miter"/>
<rect x="149.5" y="302.6" width="55.8" height="29.8" fill="#fff" stroke="#000" stroke-width="1.4"/>
<text x="177.4" y="315.2" font-size="10.67" text-anchor="middle" class="s" fill="#000" >UD-DSS</text>
<text x="177.4" y="328.4" font-size="10.67" text-anchor="middle" class="s" fill="#000" >LUT</text>
<text x="144" y="295.5" font-size="12.5" class="m" textLength="102" lengthAdjust="spacingAndGlyphs">Conut<tspan font-size="10" dy="2.6">ref</tspan><tspan dy="-2.6" class="r" font-style="normal">[</tspan>N<tspan font-size="10" dy="2.6">c</tspan><tspan dy="-2.6" class="r" font-style="normal"> − 1: 0]</tspan></text>
<text x="214" y="330.8" font-size="12.5" class="m" textLength="87.5" lengthAdjust="spacingAndGlyphs">DAC<tspan font-size="10" dy="2.6">in</tspan><tspan dy="-2.6" class="r" font-style="normal">[</tspan>N<tspan font-size="10" dy="2.6">d</tspan><tspan dy="-2.6" class="r" font-style="normal"> − 1: 0]</tspan></text>
<text x="358.8" y="237.3" font-size="21" text-anchor="start" class="b" fill="#000" >e</text>
<line x1="362.2" y1="375.8" x2="362.2" y2="277" stroke="#8a8a8a" stroke-width="1.4" />
<line x1="362.7" y1="292" x2="362.7" y2="307.2" stroke="#222" stroke-width="0.7" />
<polyline points="360.5,278.2 362.2,274.8 363.9,278.2" fill="none" stroke="#333" stroke-width="1" stroke-linejoin="miter"/>
<line x1="361.5" y1="375.9" x2="612" y2="375.9" stroke="#7f7f7f" stroke-width="1.9" />
<polyline points="609.3,373.4 613,375.9 609.3,378.4" fill="none" stroke="#7f7f7f" stroke-width="1"/>
<text x="621.5" y="381.2" font-size="10.67" text-anchor="start" class="s" fill="#000" >Time</text>
<text x="355.4" y="385.6" font-size="16.8" class="s" textLength="8" lengthAdjust="spacingAndGlyphs">0</text>
<line x1="363" y1="295.6" x2="461" y2="295.6" stroke="#333" stroke-width="0.9" stroke-dasharray="1.3,1.05"/>
<text x="329.6" y="303.6" font-size="13" class="r" textLength="29" lengthAdjust="spacingAndGlyphs">2<tspan font-size="9" dy="-4.8" dx="1" class="m">N</tspan><tspan font-size="8" dy="2.7" class="m">d</tspan><tspan font-size="8.5" dy="-2.1" class="r">−1</tspan></text>
<text transform="translate(355.4,334.3) rotate(-90)" font-size="12.5" text-anchor="middle" class="m">DAC<tspan font-size="9.5" dy="2.4">in</tspan></text>
<polyline points="362.5,369.4 383.6,369.4 383.6,362.3 401.3,362.3 401.3,355.3 408.9,355.3 408.9,348.3 413.7,348.3 413.7,341.2" fill="none" stroke="#4472c4" stroke-width="1.1"/>
<polyline points="431.4,323.5 431.4,315.9 435.6,315.9 435.6,308.9 444.4,308.9 444.4,302.4 460.6,302.4 460.6,295.7 483.4,295.7 483.4,302.4 499.5,302.4 499.5,308.8 508.8,308.8 508.8,316.1 512.4,316.1 512.4,323.4" fill="none" stroke="#4472c4" stroke-width="1.1"/>
<polyline points="529.9,341.4 529.9,348.4 534.6,348.4 534.6,355.4 542.7,355.4 542.7,361.9 559.6,361.9 559.6,369 581.8,369 581.8,361.9 598.8,361.9 598.8,355.4 603.9,355.4" fill="none" stroke="#4472c4" stroke-width="1.1"/>
<circle cx="419.6" cy="335.6" r="1.1" fill="#2f5597"/>
<circle cx="422.1" cy="332.8" r="1.1" fill="#2f5597"/>
<circle cx="424.5" cy="330" r="1.1" fill="#2f5597"/>
<circle cx="519.2" cy="331.6" r="1.1" fill="#2f5597"/>
<circle cx="521.5" cy="334.4" r="1.1" fill="#2f5597"/>
<circle cx="523.7" cy="337.2" r="1.1" fill="#2f5597"/>
<line x1="443.7" y1="312.2" x2="443.7" y2="386" stroke="#000" stroke-width="1.4" stroke-dasharray="8.3,3.7" stroke-dashoffset="2.8"/>
<line x1="459.8" y1="303.8" x2="459.8" y2="386" stroke="#000" stroke-width="1.4" stroke-dasharray="8.3,3.7" stroke-dashoffset="3.6"/>
<line x1="383.8" y1="369.6" x2="383.8" y2="374.6" stroke="#000" stroke-width="1.4" />
<line x1="383.8" y1="378.8" x2="383.8" y2="382.6" stroke="#000" stroke-width="1.4" />
<line x1="364" y1="384.1" x2="382.3" y2="384.1" stroke="#000" stroke-width="1.4" />
<polyline points="369.6,379.7 363.3,384.1 369.6,388.5" fill="none" stroke="#000" stroke-width="1.4" stroke-linejoin="miter"/>
<polyline points="376.6,388.5 382.9,384.1 376.6,379.7" fill="none" stroke="#000" stroke-width="1.4" stroke-linejoin="miter"/>
<line x1="428.8" y1="384.2" x2="443.5" y2="384.2" stroke="#000" stroke-width="1.4" />
<polyline points="436,389.2 444.2,384.2 436,379.2" fill="none" stroke="#000" stroke-width="1.4" stroke-linejoin="miter"/>
<line x1="460.5" y1="384.2" x2="475.4" y2="384.2" stroke="#000" stroke-width="1.4" />
<polyline points="467.8,379.2 459.6,384.2 467.8,389.2" fill="none" stroke="#000" stroke-width="1.4" stroke-linejoin="miter"/>
<text x="394.5" y="389.7" font-size="12.5" class="m" textLength="19.5" lengthAdjust="spacingAndGlyphs">dif<tspan font-size="10" dy="2.5" class="r" font-style="normal">1</tspan></text>
<line x1="381.3" y1="394.8" x2="427.5" y2="394.8" stroke="#7f7f7f" stroke-width="1.2" />
<text x="382" y="406.5" font-size="12.5" class="m" textLength="44.7" lengthAdjust="spacingAndGlyphs">Count<tspan font-size="10" dy="2.5">inc</tspan></text>
<text x="481.7" y="388.9" font-size="12.5" class="m" textLength="15.6" lengthAdjust="spacingAndGlyphs">dif</text><text x="499.5" y="392.6" font-size="8.3" class="r">2</text><text x="503.5" y="389.1" font-size="6.6" class="m" font-weight="bold" textLength="4.2" lengthAdjust="spacingAndGlyphs">N</text><text x="508.3" y="392.6" font-size="8.6" class="m" textLength="5" lengthAdjust="spacingAndGlyphs">d</text><text x="515.3" y="392.6" font-size="8.6" class="r" textLength="11.3" lengthAdjust="spacingAndGlyphs">−1</text>
<line x1="481" y1="396.7" x2="527.2" y2="396.7" stroke="#7f7f7f" stroke-width="1.2" />
<text x="481.8" y="407.8" font-size="12.5" class="m" textLength="44.7" lengthAdjust="spacingAndGlyphs">Count<tspan font-size="10" dy="2.5">inc</tspan></text>
<text x="390.6" y="284.5" font-size="12.5" class="m" textLength="32.5" lengthAdjust="spacingAndGlyphs">f<tspan font-size="10" dy="2.5">out</tspan><tspan dy="-2.5" class="r" font-style="normal"> =</tspan></text>
<text x="427.4" y="273.8" font-size="12.5" class="m" textLength="44.7" lengthAdjust="spacingAndGlyphs">Count<tspan font-size="10" dy="2.5">inc</tspan></text>
<line x1="427" y1="280.2" x2="472.3" y2="280.2" stroke="#555" stroke-width="1" />
<text x="441.6" y="292.2" font-size="13.5" class="r">2<tspan font-size="9.5" dy="-5" dx="0.5" class="m">N</tspan><tspan font-size="8" dy="1.8" class="m">c</tspan></text>
<text x="475" y="284.5" font-size="12.5" class="m" textLength="18.3" lengthAdjust="spacingAndGlyphs">f<tspan font-size="10" dy="2.5">sys</tspan></text>
<rect x="504.3" y="223.4" width="166.3" height="78.4" fill="none" stroke="#000" stroke-width="1.4"/>
<line x1="504.3" y1="240.8" x2="670.6" y2="240.8" stroke="#000" stroke-width="1.4" />
<line x1="548.5" y1="223.4" x2="548.5" y2="301.8" stroke="#000" stroke-width="1.4" />
<text x="511.6" y="236.7" font-size="12.5" class="m" textLength="32.8" lengthAdjust="spacingAndGlyphs">DAC<tspan font-size="10" dy="2.5">in</tspan></text>
<text x="558.2" y="236.7" font-size="12.5" class="m" textLength="102.5" lengthAdjust="spacingAndGlyphs">Conut<tspan font-size="10" dy="2.5">ref</tspan><tspan dy="-2.5" class="r" font-style="normal">[</tspan>N<tspan font-size="10" dy="2.5">c</tspan><tspan dy="-2.5" class="r" font-style="normal"> − 1: 0]</tspan></text>
<text x="527.8" y="251.2" font-size="13" text-anchor="middle" class="r" fill="#000" >0</text>
<text x="527.8" y="265.9" font-size="13" text-anchor="middle" class="r" fill="#000" >1</text>
<text x="527.8" y="277.5" font-size="11" text-anchor="middle" class="r" fill="#000" >…</text>
<text x="508" y="293.6" font-size="12.5" class="r" textLength="39" lengthAdjust="spacingAndGlyphs">2<tspan font-size="9" dy="-4.6" class="m">N</tspan><tspan font-size="7" dy="1.6" class="m">d</tspan><tspan dy="3" font-size="12.5"> − 1</tspan></text>
<text x="553.8" y="251.2" font-size="13" class="r" textLength="40.5" lengthAdjust="spacingAndGlyphs">00 ··· 01</text>
<text x="553.8" y="265.9" font-size="13" class="r" textLength="40.5" lengthAdjust="spacingAndGlyphs">01 ··· 10</text>
<text x="569.2" y="277.5" font-size="11" text-anchor="middle" class="r" fill="#000" >…</text>
<text x="553.8" y="293.6" font-size="13" class="r" textLength="40.5" lengthAdjust="spacingAndGlyphs">11 ··· 01</text>
<g transform="translate(600.8,248.9)"><path d="M0.6,1.4 C5,0.2 11.6,1.2 11.6,4.9 C11.6,8.2 7.5,9 4.2,9.1" fill="none" stroke="#000" stroke-width="2.2" stroke-linecap="round"/><path d="M0.2,9.3 L5.3,5.6 L5.9,11.6 Z" fill="#000" stroke="#000" stroke-width="0.6" stroke-linejoin="round"/></g>
<g transform="translate(600,282.7)"><path d="M0.6,1.4 C5,0.2 11.6,1.2 11.6,4.9 C11.6,8.2 7.5,9 4.2,9.1" fill="none" stroke="#000" stroke-width="2.2" stroke-linecap="round"/><path d="M0.2,9.3 L5.3,5.6 L5.9,11.6 Z" fill="#000" stroke="#000" stroke-width="0.6" stroke-linejoin="round"/></g>
<text x="620.2" y="257.9" font-size="15.5" class="r">+</text>
<text x="629.3" y="256.9" font-size="12.5" class="m" textLength="19.6" lengthAdjust="spacingAndGlyphs">dif<tspan font-size="10" dy="2.5" class="r" font-style="normal">1</tspan></text>
<text x="613.9" y="292.3" font-size="15.5" class="r">+</text><text x="623.3" y="291.3" font-size="12.5" class="m" textLength="15.6" lengthAdjust="spacingAndGlyphs">dif</text><text x="641.1" y="295.0" font-size="8.3" class="r">2</text><text x="645.1" y="291.5" font-size="6.6" class="m" font-weight="bold" textLength="4.2" lengthAdjust="spacingAndGlyphs">N</text><text x="649.9" y="295.0" font-size="8.6" class="m" textLength="5" lengthAdjust="spacingAndGlyphs">d</text><text x="656.9" y="295.0" font-size="8.6" class="r" textLength="11.3" lengthAdjust="spacingAndGlyphs">−1</text>
<text x="554.2" y="314.5" font-size="10.67" text-anchor="start" class="s" fill="#000" >UD-DDS LUT</text>
<line x1="42.5" y1="369.2" x2="42.5" y2="536.2" stroke="#d9d9d9" stroke-width="1.2" />
<line x1="58.83" y1="369.2" x2="58.83" y2="536.2" stroke="#e6e6e6" stroke-width="1.2" />
<line x1="75.16" y1="369.2" x2="75.16" y2="536.2" stroke="#e6e6e6" stroke-width="1.2" />
<line x1="91.49" y1="369.2" x2="91.49" y2="536.2" stroke="#e6e6e6" stroke-width="1.2" />
<line x1="107.82" y1="369.2" x2="107.82" y2="536.2" stroke="#e6e6e6" stroke-width="1.2" />
<line x1="124.15" y1="369.2" x2="124.15" y2="536.2" stroke="#e6e6e6" stroke-width="1.2" />
<line x1="140.48" y1="369.2" x2="140.48" y2="536.2" stroke="#e6e6e6" stroke-width="1.2" />
<line x1="156.81" y1="369.2" x2="156.81" y2="536.2" stroke="#e6e6e6" stroke-width="1.2" />
<line x1="173.14" y1="369.2" x2="173.14" y2="536.2" stroke="#e6e6e6" stroke-width="1.2" />
<line x1="189.47" y1="369.2" x2="189.47" y2="536.2" stroke="#e6e6e6" stroke-width="1.2" />
<line x1="205.8" y1="369.2" x2="205.8" y2="536.2" stroke="#e6e6e6" stroke-width="1.2" />
<line x1="42.5" y1="369.2" x2="205.8" y2="369.2" stroke="#d9d9d9" stroke-width="1.2" />
<line x1="42.5" y1="385.9" x2="205.8" y2="385.9" stroke="#d9d9d9" stroke-width="1.2" />
<line x1="42.5" y1="402.6" x2="205.8" y2="402.6" stroke="#d9d9d9" stroke-width="1.2" />
<line x1="42.5" y1="419.3" x2="205.8" y2="419.3" stroke="#d9d9d9" stroke-width="1.2" />
<line x1="42.5" y1="436" x2="205.8" y2="436" stroke="#d9d9d9" stroke-width="1.2" />
<line x1="42.5" y1="452.7" x2="205.8" y2="452.7" stroke="#d9d9d9" stroke-width="1.2" />
<line x1="42.5" y1="469.4" x2="205.8" y2="469.4" stroke="#d9d9d9" stroke-width="1.2" />
<line x1="42.5" y1="486.1" x2="205.8" y2="486.1" stroke="#d9d9d9" stroke-width="1.2" />
<line x1="42.5" y1="502.8" x2="205.8" y2="502.8" stroke="#d9d9d9" stroke-width="1.2" />
<line x1="42.5" y1="519.5" x2="205.8" y2="519.5" stroke="#d9d9d9" stroke-width="1.2" />
<line x1="42.5" y1="536.2" x2="205.8" y2="536.2" stroke="#d9d9d9" stroke-width="1.2" />
<text x="33.3" y="373" font-size="10.67" text-anchor="end" class="s" fill="#000" >0</text>
<text x="33.3" y="389.7" font-size="10.67" text-anchor="end" class="s" fill="#000" >-10</text>
<text x="33.3" y="406.4" font-size="10.67" text-anchor="end" class="s" fill="#000" >-20</text>
<text x="33.3" y="423.1" font-size="10.67" text-anchor="end" class="s" fill="#000" >-30</text>
<text x="33.3" y="439.8" font-size="10.67" text-anchor="end" class="s" fill="#000" >-40</text>
<text x="33.3" y="456.5" font-size="10.67" text-anchor="end" class="s" fill="#000" >-50</text>
<text x="33.3" y="473.2" font-size="10.67" text-anchor="end" class="s" fill="#000" >-60</text>
<text x="33.3" y="489.9" font-size="10.67" text-anchor="end" class="s" fill="#000" >-70</text>
<text x="33.3" y="506.6" font-size="10.67" text-anchor="end" class="s" fill="#000" >-80</text>
<text x="33.3" y="523.3" font-size="10.67" text-anchor="end" class="s" fill="#000" >-90</text>
<text x="33.3" y="540" font-size="10.67" text-anchor="end" class="s" fill="#000" >-100</text>
<text x="42.5" y="553.2" font-size="10.67" text-anchor="middle" class="s" fill="#000" >1990</text>
<text x="124.15" y="553.2" font-size="10.67" text-anchor="middle" class="s" fill="#000" >2000</text>
<text x="205.8" y="553.2" font-size="10.67" text-anchor="middle" class="s" fill="#000" >2010</text>
<text x="124" y="564" font-size="10.67" text-anchor="middle" class="s" fill="#000" >Frequency [Hz]</text>
<text transform="translate(9.4,453) rotate(-90)" font-size="10.67" text-anchor="middle" class="s">Power [dB]</text>
<text x="6.3" y="377.2" font-size="21" text-anchor="start" class="b" fill="#000" >f</text>
<polyline points="42.5,518.75 43.32,514.8 44.13,516.89 44.95,488.88 45.77,503.12 46.58,487.15 47.4,509.27 48.22,509.38 49.03,503.58 49.85,497.56 50.66,508.12 51.48,500.91 52.3,498.32 53.11,501.84 53.93,508.5 54.75,508.53 55.56,512.42 56.38,501.19 57.2,514.59 58.01,500.26 58.83,494.16 59.65,501.98 60.46,506.8 61.28,510.04 62.1,492.01 62.91,496.24 63.73,494.83 64.55,512.91 65.36,516.77 66.18,514.64 67,517.59 67.81,503.59 68.63,519.15 69.44,503.36 70.26,516.15 71.08,490.83 71.89,490.82 72.71,493.33 73.53,501.19 74.34,503.29 75.16,519.48 75.98,512.32 76.79,510.26 77.61,491.03 78.43,517.42 79.24,515.64 80.06,511.53 80.88,513.13 81.69,513.45 82.51,499.96 83.33,515.86 84.14,501.82 84.96,508.98 85.77,502.21 86.59,506.58 87.41,512.73 88.22,505.29 89.04,513.78 89.86,506.77 90.67,499.26 91.49,500.88 92.31,512.03 93.12,506.82 93.94,499.75 94.76,502.96 95.57,494.37 96.39,493.99 97.21,513.07 98.02,515.1 98.84,510.35 99.66,490.72 100.47,497.9 101.29,490.08 102.1,497.02 102.92,504.38 103.74,496.69 104.55,495.1 105.37,501.45 106.19,499.87 107,501.95 107.82,513.36 108.64,515.1 109.45,518.17 110.27,518.87 111.09,517.3 111.9,510.06 112.72,508.39 113.54,498.35 114.35,487.12 115.17,494.14 115.99,500.71 116.8,498.96 117.62,496.71 118.43,492.29 119.25,493.56 120.07,489.03 120.88,492.2 121.7,499.3 122.52,481.09 123.33,439.34 124.15,369.2 124.97,436.84 125.78,483.6 126.6,503.1 127.42,515.05 128.23,492.48 129.05,492.48 129.87,499.11 130.68,507.28 131.5,500.11 132.31,495.13 133.13,491.18 133.95,495.38 134.76,511.48 135.58,505.26 136.4,499.98 137.21,495.59 138.03,500.72 138.85,490.44 139.66,507.49 140.48,491.27 141.3,514.13 142.11,518.05 142.93,501.28 143.75,502.17 144.56,519.45 145.38,497.87 146.2,508.55 147.01,509.57 147.83,497.86 148.64,507.22 149.46,513.45 150.28,499.14 151.09,510.45 151.91,514.01 152.73,499.82 153.54,513.08 154.36,495.57 155.18,495.31 155.99,494.9 156.81,512.75 157.63,517.01 158.44,517.31 159.26,513.66 160.08,512.17 160.89,507.97 161.71,509.22 162.53,503.93 163.34,498.11 164.16,499.43 164.97,490.94 165.79,497.88 166.61,503.03 167.42,505.23 168.24,502.93 169.06,500.66 169.87,504.24 170.69,503.26 171.51,500.02 172.32,501.57 173.14,513.28 173.96,501.94 174.77,496.49 175.59,498.96 176.41,490.84 177.22,503.08 178.04,507.77 178.86,510.51 179.67,514.54 180.49,488.32 181.31,518.69 182.12,519.32 182.94,513.14 183.75,508.1 184.57,511.92 185.39,511.26 186.2,499.96 187.02,496.83 187.84,504.84 188.65,502.01 189.47,498.68 190.29,496.89 191.1,491.55 191.92,499.47 192.74,490.7 193.55,517.22 194.37,516.44 195.19,501.45 196,495.97 196.82,508.36 197.64,493.96 198.45,492.62 199.27,506.41 200.08,511.38 200.9,504.97 201.72,511.43 202.53,516.89 203.35,517.48 204.17,518.64 204.98,516.84 205.8,498.42" fill="none" stroke="#000" stroke-width="1.2" stroke-linejoin="round" stroke-linecap="round" />
<circle cx="42.5" cy="518.75" r="1.8" fill="#000"/><circle cx="43.32" cy="514.8" r="1.8" fill="#000"/><circle cx="44.13" cy="516.89" r="1.8" fill="#000"/><circle cx="44.95" cy="488.88" r="1.8" fill="#000"/><circle cx="45.77" cy="503.12" r="1.8" fill="#000"/><circle cx="46.58" cy="487.15" r="1.8" fill="#000"/><circle cx="47.4" cy="509.27" r="1.8" fill="#000"/><circle cx="48.22" cy="509.38" r="1.8" fill="#000"/><circle cx="49.03" cy="503.58" r="1.8" fill="#000"/><circle cx="49.85" cy="497.56" r="1.8" fill="#000"/><circle cx="50.66" cy="508.12" r="1.8" fill="#000"/><circle cx="51.48" cy="500.91" r="1.8" fill="#000"/><circle cx="52.3" cy="498.32" r="1.8" fill="#000"/><circle cx="53.11" cy="501.84" r="1.8" fill="#000"/><circle cx="53.93" cy="508.5" r="1.8" fill="#000"/><circle cx="54.75" cy="508.53" r="1.8" fill="#000"/><circle cx="55.56" cy="512.42" r="1.8" fill="#000"/><circle cx="56.38" cy="501.19" r="1.8" fill="#000"/><circle cx="57.2" cy="514.59" r="1.8" fill="#000"/><circle cx="58.01" cy="500.26" r="1.8" fill="#000"/><circle cx="58.83" cy="494.16" r="1.8" fill="#000"/><circle cx="59.65" cy="501.98" r="1.8" fill="#000"/><circle cx="60.46" cy="506.8" r="1.8" fill="#000"/><circle cx="61.28" cy="510.04" r="1.8" fill="#000"/><circle cx="62.1" cy="492.01" r="1.8" fill="#000"/><circle cx="62.91" cy="496.24" r="1.8" fill="#000"/><circle cx="63.73" cy="494.83" r="1.8" fill="#000"/><circle cx="64.55" cy="512.91" r="1.8" fill="#000"/><circle cx="65.36" cy="516.77" r="1.8" fill="#000"/><circle cx="66.18" cy="514.64" r="1.8" fill="#000"/><circle cx="67" cy="517.59" r="1.8" fill="#000"/><circle cx="67.81" cy="503.59" r="1.8" fill="#000"/><circle cx="68.63" cy="519.15" r="1.8" fill="#000"/><circle cx="69.44" cy="503.36" r="1.8" fill="#000"/><circle cx="70.26" cy="516.15" r="1.8" fill="#000"/><circle cx="71.08" cy="490.83" r="1.8" fill="#000"/><circle cx="71.89" cy="490.82" r="1.8" fill="#000"/><circle cx="72.71" cy="493.33" r="1.8" fill="#000"/><circle cx="73.53" cy="501.19" r="1.8" fill="#000"/><circle cx="74.34" cy="503.29" r="1.8" fill="#000"/><circle cx="75.16" cy="519.48" r="1.8" fill="#000"/><circle cx="75.98" cy="512.32" r="1.8" fill="#000"/><circle cx="76.79" cy="510.26" r="1.8" fill="#000"/><circle cx="77.61" cy="491.03" r="1.8" fill="#000"/><circle cx="78.43" cy="517.42" r="1.8" fill="#000"/><circle cx="79.24" cy="515.64" r="1.8" fill="#000"/><circle cx="80.06" cy="511.53" r="1.8" fill="#000"/><circle cx="80.88" cy="513.13" r="1.8" fill="#000"/><circle cx="81.69" cy="513.45" r="1.8" fill="#000"/><circle cx="82.51" cy="499.96" r="1.8" fill="#000"/><circle cx="83.33" cy="515.86" r="1.8" fill="#000"/><circle cx="84.14" cy="501.82" r="1.8" fill="#000"/><circle cx="84.96" cy="508.98" r="1.8" fill="#000"/><circle cx="85.77" cy="502.21" r="1.8" fill="#000"/><circle cx="86.59" cy="506.58" r="1.8" fill="#000"/><circle cx="87.41" cy="512.73" r="1.8" fill="#000"/><circle cx="88.22" cy="505.29" r="1.8" fill="#000"/><circle cx="89.04" cy="513.78" r="1.8" fill="#000"/><circle cx="89.86" cy="506.77" r="1.8" fill="#000"/><circle cx="90.67" cy="499.26" r="1.8" fill="#000"/><circle cx="91.49" cy="500.88" r="1.8" fill="#000"/><circle cx="92.31" cy="512.03" r="1.8" fill="#000"/><circle cx="93.12" cy="506.82" r="1.8" fill="#000"/><circle cx="93.94" cy="499.75" r="1.8" fill="#000"/><circle cx="94.76" cy="502.96" r="1.8" fill="#000"/><circle cx="95.57" cy="494.37" r="1.8" fill="#000"/><circle cx="96.39" cy="493.99" r="1.8" fill="#000"/><circle cx="97.21" cy="513.07" r="1.8" fill="#000"/><circle cx="98.02" cy="515.1" r="1.8" fill="#000"/><circle cx="98.84" cy="510.35" r="1.8" fill="#000"/><circle cx="99.66" cy="490.72" r="1.8" fill="#000"/><circle cx="100.47" cy="497.9" r="1.8" fill="#000"/><circle cx="101.29" cy="490.08" r="1.8" fill="#000"/><circle cx="102.1" cy="497.02" r="1.8" fill="#000"/><circle cx="102.92" cy="504.38" r="1.8" fill="#000"/><circle cx="103.74" cy="496.69" r="1.8" fill="#000"/><circle cx="104.55" cy="495.1" r="1.8" fill="#000"/><circle cx="105.37" cy="501.45" r="1.8" fill="#000"/><circle cx="106.19" cy="499.87" r="1.8" fill="#000"/><circle cx="107" cy="501.95" r="1.8" fill="#000"/><circle cx="107.82" cy="513.36" r="1.8" fill="#000"/><circle cx="108.64" cy="515.1" r="1.8" fill="#000"/><circle cx="109.45" cy="518.17" r="1.8" fill="#000"/><circle cx="110.27" cy="518.87" r="1.8" fill="#000"/><circle cx="111.09" cy="517.3" r="1.8" fill="#000"/><circle cx="111.9" cy="510.06" r="1.8" fill="#000"/><circle cx="112.72" cy="508.39" r="1.8" fill="#000"/><circle cx="113.54" cy="498.35" r="1.8" fill="#000"/><circle cx="114.35" cy="487.12" r="1.8" fill="#000"/><circle cx="115.17" cy="494.14" r="1.8" fill="#000"/><circle cx="115.99" cy="500.71" r="1.8" fill="#000"/><circle cx="116.8" cy="498.96" r="1.8" fill="#000"/><circle cx="117.62" cy="496.71" r="1.8" fill="#000"/><circle cx="118.43" cy="492.29" r="1.8" fill="#000"/><circle cx="119.25" cy="493.56" r="1.8" fill="#000"/><circle cx="120.07" cy="489.03" r="1.8" fill="#000"/><circle cx="120.88" cy="492.2" r="1.8" fill="#000"/><circle cx="121.7" cy="499.3" r="1.8" fill="#000"/><circle cx="122.52" cy="481.09" r="1.8" fill="#000"/><circle cx="123.33" cy="439.34" r="1.8" fill="#000"/><circle cx="124.15" cy="369.2" r="1.8" fill="#000"/><circle cx="124.97" cy="436.84" r="1.8" fill="#000"/><circle cx="125.78" cy="483.6" r="1.8" fill="#000"/><circle cx="126.6" cy="503.1" r="1.8" fill="#000"/><circle cx="127.42" cy="515.05" r="1.8" fill="#000"/><circle cx="128.23" cy="492.48" r="1.8" fill="#000"/><circle cx="129.05" cy="492.48" r="1.8" fill="#000"/><circle cx="129.87" cy="499.11" r="1.8" fill="#000"/><circle cx="130.68" cy="507.28" r="1.8" fill="#000"/><circle cx="131.5" cy="500.11" r="1.8" fill="#000"/><circle cx="132.31" cy="495.13" r="1.8" fill="#000"/><circle cx="133.13" cy="491.18" r="1.8" fill="#000"/><circle cx="133.95" cy="495.38" r="1.8" fill="#000"/><circle cx="134.76" cy="511.48" r="1.8" fill="#000"/><circle cx="135.58" cy="505.26" r="1.8" fill="#000"/><circle cx="136.4" cy="499.98" r="1.8" fill="#000"/><circle cx="137.21" cy="495.59" r="1.8" fill="#000"/><circle cx="138.03" cy="500.72" r="1.8" fill="#000"/><circle cx="138.85" cy="490.44" r="1.8" fill="#000"/><circle cx="139.66" cy="507.49" r="1.8" fill="#000"/><circle cx="140.48" cy="491.27" r="1.8" fill="#000"/><circle cx="141.3" cy="514.13" r="1.8" fill="#000"/><circle cx="142.11" cy="518.05" r="1.8" fill="#000"/><circle cx="142.93" cy="501.28" r="1.8" fill="#000"/><circle cx="143.75" cy="502.17" r="1.8" fill="#000"/><circle cx="144.56" cy="519.45" r="1.8" fill="#000"/><circle cx="145.38" cy="497.87" r="1.8" fill="#000"/><circle cx="146.2" cy="508.55" r="1.8" fill="#000"/><circle cx="147.01" cy="509.57" r="1.8" fill="#000"/><circle cx="147.83" cy="497.86" r="1.8" fill="#000"/><circle cx="148.64" cy="507.22" r="1.8" fill="#000"/><circle cx="149.46" cy="513.45" r="1.8" fill="#000"/><circle cx="150.28" cy="499.14" r="1.8" fill="#000"/><circle cx="151.09" cy="510.45" r="1.8" fill="#000"/><circle cx="151.91" cy="514.01" r="1.8" fill="#000"/><circle cx="152.73" cy="499.82" r="1.8" fill="#000"/><circle cx="153.54" cy="513.08" r="1.8" fill="#000"/><circle cx="154.36" cy="495.57" r="1.8" fill="#000"/><circle cx="155.18" cy="495.31" r="1.8" fill="#000"/><circle cx="155.99" cy="494.9" r="1.8" fill="#000"/><circle cx="156.81" cy="512.75" r="1.8" fill="#000"/><circle cx="157.63" cy="517.01" r="1.8" fill="#000"/><circle cx="158.44" cy="517.31" r="1.8" fill="#000"/><circle cx="159.26" cy="513.66" r="1.8" fill="#000"/><circle cx="160.08" cy="512.17" r="1.8" fill="#000"/><circle cx="160.89" cy="507.97" r="1.8" fill="#000"/><circle cx="161.71" cy="509.22" r="1.8" fill="#000"/><circle cx="162.53" cy="503.93" r="1.8" fill="#000"/><circle cx="163.34" cy="498.11" r="1.8" fill="#000"/><circle cx="164.16" cy="499.43" r="1.8" fill="#000"/><circle cx="164.97" cy="490.94" r="1.8" fill="#000"/><circle cx="165.79" cy="497.88" r="1.8" fill="#000"/><circle cx="166.61" cy="503.03" r="1.8" fill="#000"/><circle cx="167.42" cy="505.23" r="1.8" fill="#000"/><circle cx="168.24" cy="502.93" r="1.8" fill="#000"/><circle cx="169.06" cy="500.66" r="1.8" fill="#000"/><circle cx="169.87" cy="504.24" r="1.8" fill="#000"/><circle cx="170.69" cy="503.26" r="1.8" fill="#000"/><circle cx="171.51" cy="500.02" r="1.8" fill="#000"/><circle cx="172.32" cy="501.57" r="1.8" fill="#000"/><circle cx="173.14" cy="513.28" r="1.8" fill="#000"/><circle cx="173.96" cy="501.94" r="1.8" fill="#000"/><circle cx="174.77" cy="496.49" r="1.8" fill="#000"/><circle cx="175.59" cy="498.96" r="1.8" fill="#000"/><circle cx="176.41" cy="490.84" r="1.8" fill="#000"/><circle cx="177.22" cy="503.08" r="1.8" fill="#000"/><circle cx="178.04" cy="507.77" r="1.8" fill="#000"/><circle cx="178.86" cy="510.51" r="1.8" fill="#000"/><circle cx="179.67" cy="514.54" r="1.8" fill="#000"/><circle cx="180.49" cy="488.32" r="1.8" fill="#000"/><circle cx="181.31" cy="518.69" r="1.8" fill="#000"/><circle cx="182.12" cy="519.32" r="1.8" fill="#000"/><circle cx="182.94" cy="513.14" r="1.8" fill="#000"/><circle cx="183.75" cy="508.1" r="1.8" fill="#000"/><circle cx="184.57" cy="511.92" r="1.8" fill="#000"/><circle cx="185.39" cy="511.26" r="1.8" fill="#000"/><circle cx="186.2" cy="499.96" r="1.8" fill="#000"/><circle cx="187.02" cy="496.83" r="1.8" fill="#000"/><circle cx="187.84" cy="504.84" r="1.8" fill="#000"/><circle cx="188.65" cy="502.01" r="1.8" fill="#000"/><circle cx="189.47" cy="498.68" r="1.8" fill="#000"/><circle cx="190.29" cy="496.89" r="1.8" fill="#000"/><circle cx="191.1" cy="491.55" r="1.8" fill="#000"/><circle cx="191.92" cy="499.47" r="1.8" fill="#000"/><circle cx="192.74" cy="490.7" r="1.8" fill="#000"/><circle cx="193.55" cy="517.22" r="1.8" fill="#000"/><circle cx="194.37" cy="516.44" r="1.8" fill="#000"/><circle cx="195.19" cy="501.45" r="1.8" fill="#000"/><circle cx="196" cy="495.97" r="1.8" fill="#000"/><circle cx="196.82" cy="508.36" r="1.8" fill="#000"/><circle cx="197.64" cy="493.96" r="1.8" fill="#000"/><circle cx="198.45" cy="492.62" r="1.8" fill="#000"/><circle cx="199.27" cy="506.41" r="1.8" fill="#000"/><circle cx="200.08" cy="511.38" r="1.8" fill="#000"/><circle cx="200.9" cy="504.97" r="1.8" fill="#000"/><circle cx="201.72" cy="511.43" r="1.8" fill="#000"/><circle cx="202.53" cy="516.89" r="1.8" fill="#000"/><circle cx="203.35" cy="517.48" r="1.8" fill="#000"/><circle cx="204.17" cy="518.64" r="1.8" fill="#000"/><circle cx="204.98" cy="516.84" r="1.8" fill="#000"/><circle cx="205.8" cy="498.42" r="1.8" fill="#000"/>
<line x1="42.5" y1="485.4" x2="205.8" y2="485.4" stroke="#000" stroke-width="1.3" stroke-dasharray="4.2,2.6"/>
<text x="149.8" y="483" font-size="10.67" text-anchor="start" class="s" fill="#000" >Noise Floor</text>
<text x="60" y="466.4" font-size="10.67" text-anchor="start" class="s" fill="#000" >1999.8 Hz</text>
<text x="147" y="458.2" font-size="10.67" text-anchor="start" class="s" fill="#000" >2000.2 Hz</text>
<line x1="89.6" y1="469.1" x2="113.38" y2="478.33" stroke="#000" stroke-width="1.2" /><polygon points="121.3,481.4 112.25,481.22 114.5,475.44" fill="#000"/>
<line x1="149.8" y1="463.6" x2="133.85" y2="476.3" stroke="#000" stroke-width="1.2" /><polygon points="127.2,481.6 131.92,473.88 135.78,478.73" fill="#000"/>
<defs>
<linearGradient id="bgG" x1="0" y1="0" x2="1" y2="1"><stop offset="0" stop-color="#3a3a3a"/><stop offset="0.25" stop-color="#4b4b4b"/><stop offset="0.6" stop-color="#525252"/><stop offset="1" stop-color="#5c5c5c"/></linearGradient>
<linearGradient id="bgH" x1="0" y1="0" x2="1" y2="1"><stop offset="0" stop-color="#3c3c3c"/><stop offset="0.25" stop-color="#4b4b4b"/><stop offset="0.6" stop-color="#535353"/><stop offset="1" stop-color="#5c5c5c"/></linearGradient>
<filter id="blur1" x="-10%" y="-10%" width="120%" height="120%"><feGaussianBlur stdDeviation="1.2"/></filter>
<filter id="blur2" x="-10%" y="-10%" width="120%" height="120%"><feGaussianBlur stdDeviation="0.45"/></filter>
<filter id="blur3" x="-10%" y="-10%" width="120%" height="120%"><feGaussianBlur stdDeviation="3"/></filter>
<linearGradient id="edgeG" x1="0" y1="0" x2="1" y2="0"><stop offset="0" stop-color="#fff" stop-opacity="1"/><stop offset="0.07" stop-color="#fff" stop-opacity="0.6"/><stop offset="0.5" stop-color="#fff" stop-opacity="0.42"/><stop offset="0.93" stop-color="#fff" stop-opacity="0.6"/><stop offset="1" stop-color="#fff" stop-opacity="1"/></linearGradient>
<filter id="blur4" x="-5%" y="-5%" width="110%" height="110%"><feGaussianBlur stdDeviation="0.55"/></filter>
</defs>
<rect x="225.5" y="420.9" width="230" height="148.1" fill="#121212"/>
<rect x="455.3" y="420.9" width="1" height="148.1" fill="#8a8a8a"/>
<rect x="456.3" y="420.9" width="228.7" height="148.1" fill="#121212"/>
<rect x="232.6" y="426.8" width="217" height="135" fill="url(#bgG)"/>
<rect x="462.7" y="426.8" width="217.5" height="135.2" fill="url(#bgH)"/>
<clipPath id="clipG"><path d="M244.2,445.6 Q340.5,443.7 436.8,431.4 Q444,495.1 436.8,558.8 Q340.85,547.75 244.9,545.5 Q253.15,495.55 244.2,445.6 Z"/></clipPath>
<linearGradient id="fillG" x1="0" y1="0" x2="1" y2="0"><stop offset="0" stop-color="#828282"/><stop offset="0.1" stop-color="#727272"/><stop offset="0.5" stop-color="#676767"/><stop offset="0.9" stop-color="#707070"/><stop offset="1" stop-color="#808080"/></linearGradient>
<path d="M244.2,445.6 Q340.5,443.7 436.8,431.4 Q444,495.1 436.8,558.8 Q340.85,547.75 244.9,545.5 Q253.15,495.55 244.2,445.6 Z" fill="url(#fillG)"/>
<pattern id="hatch" width="6" height="10" patternUnits="userSpaceOnUse"><path d="M0,0 L6,10 M6,0 L0,10" stroke="#fff" stroke-width="0.8" opacity="0.035"/></pattern>
<path d="M244.2,445.6 Q340.5,443.7 436.8,431.4 Q444,495.1 436.8,558.8 Q340.85,547.75 244.9,545.5 Q253.15,495.55 244.2,445.6 Z" fill="url(#hatch)"/>
<g clip-path="url(#clipG)"><path d="M244.2,445.6 Q340.5,443.7 436.8,431.4 Q444,495.1 436.8,558.8 Q340.85,547.75 244.9,545.5 Q253.15,495.55 244.2,445.6 Z" fill="none" stroke="#fff" stroke-width="7" opacity="0.22" filter="url(#blur3)"/></g>
<path d="M244.2,445.6 Q340.5,443.7 436.8,431.4" fill="none" stroke="#fff" stroke-width="2.4" opacity="0.22" filter="url(#blur1)"/>
<path d="M244.2,445.6 Q340.5,443.7 436.8,431.4" fill="none" stroke="url(#edgeG)" stroke-width="1.0" filter="url(#blur2)"/>
<path d="M436.8,558.8 Q340.85,547.75 244.9,545.5" fill="none" stroke="#fff" stroke-width="2.4" opacity="0.22" filter="url(#blur1)"/>
<path d="M436.8,558.8 Q340.85,547.75 244.9,545.5" fill="none" stroke="url(#edgeG)" stroke-width="1.0" filter="url(#blur2)"/>
<path d="M244.9,545.5 Q253.15,495.55 244.2,445.6" fill="none" stroke="#fff" stroke-width="2.2" opacity="0.3" filter="url(#blur1)"/>
<path d="M244.9,545.5 Q253.15,495.55 244.2,445.6" fill="none" stroke="#fff" stroke-width="1.05" opacity="0.9" filter="url(#blur2)"/>
<path d="M436.8,431.4 Q444,495.1 436.8,558.8" fill="none" stroke="#fff" stroke-width="2.2" opacity="0.3" filter="url(#blur1)"/>
<path d="M436.8,431.4 Q444,495.1 436.8,558.8" fill="none" stroke="#fff" stroke-width="1.05" opacity="0.9" filter="url(#blur2)"/>
<clipPath id="clipH"><path d="M475,445.6 Q570.35,443.9 665.7,431.8 Q672.5,495.05 665.7,558.3 Q570.5,547.85 475.3,546.2 Q484.35,495.9 475,445.6 Z"/></clipPath>
<path d="M475,445.6 Q570.35,443.9 665.7,431.8 Q672.5,495.05 665.7,558.3 Q570.5,547.85 475.3,546.2 Q484.35,495.9 475,445.6 Z" fill="#676767"/>
<g clip-path="url(#clipH)"><path d="M475,445.6 Q570.35,443.9 665.7,431.8 Q672.5,495.05 665.7,558.3 Q570.5,547.85 475.3,546.2 Q484.35,495.9 475,445.6 Z" fill="none" stroke="#fff" stroke-width="7" opacity="0.18" filter="url(#blur3)"/></g>
<polyline points="574.4,495.7 575.9,497.7 577.3,499.7 578.7,501.7 580.2,503.7 581.6,505.7 583.0,507.7 584.3,509.7 585.7,511.7 587.1,513.7 588.4,515.6 589.8,517.6 591.1,519.5 592.4,521.4 593.7,523.2 595.0,525.1 596.3,526.9 597.6,528.6 598.8,530.3 600.1,532.0 601.4,533.7 602.6,535.3 603.8,536.8 605.1,538.3 606.3,539.7 607.5,541.1 608.7,542.4 610.0,543.7 611.2,544.9 612.4,546.1 613.6,547.2 614.8,548.2 616.0,549.1 617.1,550.0 618.3,550.8 619.5,551.5 620.7,552.2 621.9,552.8 623.1,553.3 624.2,553.7 625.4,554.0 626.6,554.3 627.7,554.5 628.9,554.6 630.1,554.6 631.2,554.5 632.4,554.4 633.5,554.2 634.6,553.9 635.8,553.5 636.9,553.0 638.0,552.4 639.1,551.8 640.2,551.1 641.3,550.3 642.4,549.4 643.5,548.4 644.5,547.4 645.6,546.3 646.6,545.1 647.6,543.8 648.6,542.5 649.6,541.1 650.6,539.6 651.5,538.1 652.4,536.5 653.3,534.8 654.2,533.1 655.1,531.3 655.9,529.5 656.8,527.6 657.6,525.7 658.3,523.7 659.1,521.6 659.8,519.6 660.5,517.4 661.1,515.3 661.8,513.1 662.4,510.9 663.0,508.7 663.5,506.4 664.0,504.1 664.5,501.8 665.0,499.5 665.4,497.2 665.8,494.9 666.2,492.5 666.5,490.2 666.8,487.9 667.1,485.6 667.3,483.2 667.5,481.0 667.7,478.7 667.8,476.4 668.0,474.2 668.1,472.0 668.1,469.8 668.2,467.7 668.2,465.6 668.1,463.5 668.1,461.5 668.0,459.6 667.9,457.7 667.8,455.8 667.6,454.0 667.5,452.2 667.3,450.6 667.0,448.9 666.8,447.4 666.5,445.9 666.3,444.5 665.9,443.1 665.6,441.9 665.3,440.7 664.9,439.5 664.5,438.5 664.2,437.5 663.7,436.7 663.3,435.9 662.9,435.2 662.4,434.6 662.0,434.0 661.5,433.6 661.0,433.2 660.5,432.9 660.0,432.8 659.4,432.7 658.9,432.7 658.4,432.7 657.8,432.9 657.2,433.2 656.6,433.5 656.0,433.9 655.4,434.4 654.8,435.0 654.2,435.7 653.5,436.5 652.9,437.3 652.2,438.2 651.5,439.2 650.8,440.3 650.1,441.5 649.4,442.7 648.7,444.0 648.0,445.3 647.2,446.7 646.4,448.2 645.6,449.8 644.8,451.4 644.0,453.0 643.2,454.8 642.3,456.5 641.5,458.3 640.6,460.2 639.7,462.1 638.7,464.0 637.8,466.0 636.8,468.0 635.8,470.1 634.8,472.1 633.8,474.2 632.7,476.3 631.7,478.5 630.6,480.6 629.5,482.8 628.3,484.9 627.2,487.1 626.0,489.3 624.8,491.5 623.6,493.6 622.3,495.8 621.1,498.0 619.8,500.1 618.5,502.3 617.1,504.4 615.8,506.5 614.4,508.5 613.0,510.6 611.6,512.6 610.2,514.6 608.8,516.5 607.3,518.4 605.9,520.3 604.4,522.1 602.9,523.9 601.4,525.6 599.8,527.3 598.3,529.0 596.8,530.6 595.2,532.1 593.7,533.6 592.1,535.0 590.5,536.4 588.9,537.7 587.4,538.9 585.8,540.1 584.2,541.2 582.6,542.2 581.0,543.2 579.5,544.1 577.9,544.9 576.3,545.7 574.8,546.4 573.2,547.0 571.7,547.6 570.1,548.1 568.6,548.5 567.1,548.8 565.5,549.1 564.0,549.3 562.6,549.4 561.1,549.4 559.6,549.4 558.2,549.3 556.7,549.1 555.3,548.9 553.9,548.5 552.5,548.2 551.1,547.7 549.8,547.2 548.4,546.6 547.1,545.9 545.8,545.2 544.5,544.4 543.2,543.6 541.9,542.7 540.7,541.7 539.4,540.6 538.2,539.6 537.0,538.4 535.8,537.2 534.6,536.0 533.4,534.7 532.2,533.3 531.1,531.9 529.9,530.4 528.8,529.0 527.6,527.4 526.5,525.9 525.4,524.2 524.3,522.6 523.2,520.9 522.1,519.2 521.0,517.5 519.9,515.7 518.8,513.9 517.7,512.1 516.7,510.3 515.6,508.5 514.5,506.6 513.5,504.8 512.4,502.9 511.3,501.0 510.3,499.1 509.2,497.2 508.2,495.3 507.1,493.5 506.1,491.6 505.1,489.7 504.0,487.8 503.0,486.0 502.0,484.2 501.0,482.4 499.9,480.6 498.9,478.8 497.9,477.0 497.0,475.3 496.0,473.6 495.0,472.0 494.1,470.4 493.1,468.8 492.2,467.2 491.3,465.7 490.4,464.2 489.5,462.8 488.6,461.4 487.8,460.1 487.0,458.8 486.1,457.6 485.4,456.4 484.6,455.3 483.9,454.2 483.2,453.2 482.5,452.2 481.8,451.4 481.2,450.5 480.6,449.7 480.0,449.0 479.5,448.4 479.0,447.8 478.5,447.3 478.0,446.9 477.6,446.5 477.2,446.2 476.9,445.9 476.6,445.7 476.3,445.6 476.1,445.6 475.9,445.6 475.7,445.7 475.6,445.9 475.5,446.1 475.4,446.4 475.4,446.8 475.4,447.2 475.4,447.7 475.5,448.3 475.6,448.9 475.7,449.6 475.9,450.3 476.1,451.2 476.3,452.0 476.6,453.0 476.9,454.0 477.2,455.0 477.5,456.1 477.9,457.3 478.3,458.5 478.7,459.8 479.1,461.1 479.6,462.5 480.0,463.9 480.5,465.3 481.0,466.8 481.6,468.4 482.1,470.0 482.7,471.6 483.3,473.2 483.9,474.9 484.5,476.6 485.1,478.3 485.7,480.1 486.4,481.9 487.0,483.7 487.7,485.5 488.3,487.3 489.0,489.1 489.7,491.0 490.4,492.9 491.1,494.7 491.8,496.6 492.5,498.5 493.2,500.3 493.9,502.2 494.7,504.1 495.4,505.9 496.2,507.7 496.9,509.6 497.7,511.4 498.5,513.1 499.2,514.9 500.0,516.6 500.8,518.4 501.6,520.0 502.5,521.7 503.3,523.3 504.1,524.9 505.0,526.4 505.9,527.9 506.7,529.4 507.6,530.8 508.5,532.2 509.5,533.5 510.4,534.8 511.4,536.0 512.4,537.2 513.3,538.4 514.4,539.4 515.4,540.4 516.4,541.4 517.5,542.3 518.6,543.1 519.7,543.9 520.9,544.6 522.0,545.2 523.2,545.8 524.4,546.3 525.6,546.8 526.8,547.1 528.1,547.5 529.4,547.7 530.7,547.9 532.0,548.0 533.4,548.0 534.7,548.0 536.1,547.8 537.5,547.7 539.0,547.4 540.4,547.1 541.9,546.7 543.3,546.2 544.8,545.7 546.3,545.1 547.8,544.4 549.4,543.7 550.9,542.9 552.5,542.0 554.0,541.1 555.6,540.1 557.2,539.0 558.8,537.9 560.4,536.7 562.0,535.5 563.6,534.2 565.2,532.8 566.8,531.4 568.4,529.9 570.0,528.4 571.6,526.8 573.2,525.2 574.7,523.6 576.3,521.8 577.9,520.1 579.5,518.3 581.0,516.5 582.6,514.6 584.1,512.7 585.6,510.8 587.1,508.8 588.6,506.9 590.1,504.9 591.6,502.8 593.0,500.8 594.5,498.7 595.9,496.7 597.3,494.6 598.7,492.5 600.1,490.4 601.5,488.3 602.8,486.2 604.1,484.1 605.5,482.0 606.8,480.0 608.0,477.9 609.3,475.9 610.6,473.9 611.8,471.8 613.0,469.9 614.2,467.9 615.4,466.0 616.6,464.1 617.7,462.3 618.9,460.4 620.0,458.7 621.2,456.9 622.3,455.3 623.4,453.6 624.5,452.0 625.5,450.5 626.6,449.0 627.7,447.6 628.7,446.3 629.7,445.0 630.8,443.7 631.8,442.6 632.8,441.5 633.8,440.5 634.8,439.5 635.8,438.7 636.8,437.9 637.8,437.1 638.7,436.5 639.7,435.9 640.7,435.5 641.6,435.1 642.5,434.7 643.5,434.5 644.4,434.4 645.3,434.3 646.2,434.3 647.1,434.4 648.0,434.6 648.9,434.9 649.8,435.3 650.7,435.7 651.5,436.3 652.4,436.9 653.2,437.6 654.0,438.4 654.8,439.2 655.6,440.2 656.4,441.2 657.1,442.3 657.9,443.5 658.6,444.8 659.3,446.1 660.0,447.5 660.7,449.0 661.3,450.5 661.9,452.1 662.6,453.8 663.1,455.6 663.7,457.4 664.2,459.2 664.8,461.1 665.2,463.1 665.7,465.1 666.1,467.1 666.5,469.2 666.9,471.3 667.3,473.5 667.6,475.7 667.9,477.9 668.1,480.2 668.4,482.4 668.6,484.7 668.7,487.0 668.9,489.4 669.0,491.7 669.0,494.0 669.1,496.4 669.1,498.7 669.1,501.0 669.0,503.4 668.9,505.7 668.8,508.0 668.7,510.3 668.5,512.5 668.3,514.7 668.0,517.0 667.8,519.1 667.5,521.3 667.2,523.4 666.8,525.4 666.4,527.4 666.0,529.4 665.6,531.3 665.1,533.2 664.7,535.0 664.1,536.7 663.6,538.4 663.1,540.0 662.5,541.6 661.9,543.1 661.3,544.5 660.7,545.8 660.0,547.1 659.4,548.3 658.7,549.4 658.0,550.4 657.3,551.4 656.5,552.3 655.8,553.1 655.0,553.8 654.3,554.4 653.5,555.0 652.7,555.4 651.9,555.8 651.1,556.1 650.3,556.3 649.4,556.4 648.6,556.5 647.8,556.4 646.9,556.3 646.0,556.0 645.2,555.7 644.3,555.3 643.4,554.9 642.5,554.3 641.6,553.7 640.7,553.0 639.7,552.2 638.8,551.3 637.9,550.4 636.9,549.4 636.0,548.3 635.0,547.1 634.0,545.9 633.0,544.6 632.0,543.2 631.0,541.8 630.0,540.4 629.0,538.8 627.9,537.2 626.9,535.6 625.8,533.9 624.7,532.2 623.6,530.4 622.5,528.6 621.4,526.7 620.3,524.8 619.1,522.9 617.9,521.0 616.7,519.0 615.5,517.0 614.3,515.0 613.1,512.9 611.8,510.9 610.6,508.8 609.3,506.7 608.0,504.6 606.6,502.5 605.3,500.4 603.9,498.3 602.5,496.2 601.2,494.2 599.7,492.1 598.3,490.0 596.9,488.0 595.4,486.0 593.9,484.0 592.4,482.0 590.9,480.0 589.4,478.1 587.9,476.2 586.3,474.4 584.8,472.6 583.2,470.8 581.7,469.0 580.1,467.3 578.5,465.7 576.9,464.1 575.3,462.5 573.7,461.0 572.1,459.5 570.5,458.1 568.9,456.8 567.2,455.5 565.6,454.3 564.0,453.1 562.4,452.0 560.8,451.0 559.3,450.0 557.7,449.1 556.1,448.2 554.5,447.4 553.0,446.7 551.4,446.0 549.9,445.5 548.4,445.0 546.9,444.5 545.4,444.1 543.9,443.8 542.5,443.6 541.1,443.5 539.6,443.4 538.2,443.4 536.9,443.4 535.5,443.5 534.2,443.7 532.8,444.0 531.5,444.3 530.3,444.7 529.0,445.2 527.8,445.7 526.6,446.3 525.4,447.0 524.2,447.7 523.0,448.5 521.9,449.4 520.8,450.3 519.7,451.2 518.6,452.3 517.6,453.4 516.5,454.5 515.5,455.7 514.5,457.0 513.5,458.3 512.5,459.6 511.6,461.0 510.6,462.4 509.7,463.9 508.8,465.4 507.8,467.0 506.9,468.6 506.1,470.2 505.2,471.9 504.3,473.6 503.5,475.3 502.6,477.1 501.8,478.8 500.9,480.6 500.1,482.4 499.3,484.3 498.5,486.1 497.7,488.0 496.9,489.8 496.1,491.7 495.3,493.6 494.6,495.4 493.8,497.3 493.0,499.2 492.3,501.0 491.5,502.9 490.8,504.7 490.0,506.6 489.3,508.4 488.6,510.2 487.9,512.0 487.2,513.7 486.5,515.4 485.8,517.1 485.2,518.8 484.5,520.5 483.9,522.1 483.3,523.6 482.7,525.2 482.1,526.7 481.5,528.1 481.0,529.5 480.5,530.9 479.9,532.2 479.5,533.4 479.0,534.7 478.6,535.8 478.1,536.9 477.8,538.0 477.4,539.0 477.1,539.9 476.8,540.8 476.5,541.6 476.2,542.3 476.0,543.0 475.8,543.6 475.7,544.2 475.6,544.7 475.5,545.1 475.4,545.4 475.4,545.7 475.5,546.0 475.5,546.1 475.6,546.2 475.7,546.2 475.9,546.2 476.1,546.0 476.3,545.8 476.6,545.6 476.8,545.3 477.2,544.9 477.5,544.4 477.9,543.9 478.4,543.3 478.8,542.6 479.3,541.9 479.8,541.1 480.4,540.3 480.9,539.4 481.5,538.4 482.2,537.4 482.8,536.3 483.5,535.2 484.2,534.0 484.9,532.8 485.7,531.5 486.4,530.1 487.2,528.8 488.0,527.3 488.8,525.8 489.7,524.3 490.5,522.8 491.4,521.2 492.2,519.5 493.1,517.9 494.0,516.2 494.9,514.5 495.9,512.7 496.8,510.9 497.7,509.1 498.7,507.3 499.6,505.5 500.6,503.7 501.5,501.8 502.5,499.9 503.4,498.0 504.4,496.2 505.4,494.3 506.4,492.4 507.4,490.5 508.4,488.6 509.4,486.8 510.4,484.9 511.4,483.0 512.4,481.2 513.4,479.4 514.4,477.6 515.4,475.8 516.5,474.1 517.5,472.3 518.5,470.6 519.6,469.0 520.6,467.3 521.7,465.7 522.8,464.2 523.9,462.6 525.0,461.2 526.1,459.7 527.2,458.3 528.3,457.0 529.5,455.7 530.6,454.5 531.8,453.3 533.0,452.1 534.2,451.0 535.4,450.0 536.6,449.1 537.9,448.1 539.1,447.3 540.4,446.5 541.7,445.8 543.0,445.2 544.3,444.6 545.7,444.1 547.0,443.6 548.4,443.2 549.8,442.9 551.2,442.7 552.6,442.5 554.1,442.4 555.5,442.4 557.0,442.4 558.5,442.5 560.0,442.7 561.5,443.0 563.0,443.3 564.5,443.7 566.1,444.2 567.6,444.8 569.2,445.4 570.8,446.1 572.3,446.8 573.9,447.7 575.5,448.6 577.1,449.5 578.7,450.6 580.3,451.7 581.9,452.8 583.5,454.0 585.1,455.3 586.7,456.7 588.3,458.1 589.8,459.5 591.4,461.1 593.0,462.6 594.5,464.2 596.1,465.9 597.6,467.6 599.2,469.4 600.7,471.2 602.2,473.0 603.7,474.9 605.1,476.8 606.6,478.8 608.0,480.8 609.4,482.8 610.9,484.8 612.2,486.9 613.6,489.0 614.9,491.1 616.3,493.2 617.6,495.3 618.9,497.5 620.1,499.6 621.4,501.7 622.6,503.9 623.8,506.0 625.0,508.2 626.1,510.3 627.3,512.4 628.4,514.5 629.5,516.6 630.6,518.6 631.6,520.7 632.7,522.7 633.7,524.7 634.7,526.6 635.7,528.5 636.6,530.4 637.6,532.2 638.5,534.0 639.4,535.7 640.3,537.4 641.2,539.0 642.1,540.6 642.9,542.1 643.8,543.6 644.6,545.0 645.4,546.3 646.2,547.6 647.0,548.8 647.7,549.9 648.5,551.0 649.3,551.9 650.0,552.8 650.7,553.7 651.4,554.4 652.1,555.1 652.8,555.6 653.5,556.1 654.2,556.5 654.8,556.9 655.5,557.1 656.1,557.3 656.8,557.3 657.4,557.3 658.0,557.2 658.6,557.0 659.2,556.7 659.7,556.4 660.3,555.9 660.8,555.4 661.4,554.7 661.9,554.0 662.4,553.2 662.9,552.3 663.4,551.4 663.8,550.3 664.3,549.2 664.7,548.0 665.1,546.7 665.5,545.4 665.8,544.0 666.2,542.5 666.5,540.9 666.8,539.3 667.1,537.6 667.4,535.9 667.6,534.0 667.8,532.2 668.0,530.3 668.1,528.3 668.3,526.3 668.4,524.2 668.4,522.1 668.5,520.0 668.5,517.8 668.5,515.6 668.5,513.4 668.4,511.2 668.3,508.9 668.2,506.6 668.0,504.3 667.8,502.0 667.6,499.6 667.3,497.3 667.1,495.0 666.7,492.7 666.4,490.3 666.0,488.0 665.6,485.7 665.2,483.4 664.7,481.2 664.2,478.9 663.7,476.7 663.1,474.6 662.5,472.4 661.9,470.3 661.3,468.2 660.6,466.2 659.9,464.2 659.2,462.3 658.4,460.4 657.7,458.6 656.9,456.8 656.1,455.1 655.2,453.4 654.4,451.8 653.5,450.3 652.6,448.8 651.7,447.4 650.7,446.1 649.8,444.8 648.8,443.7 647.8,442.6 646.9,441.5 645.9,440.6 644.8,439.7 643.8,439.0 642.8,438.2 641.7,437.6 640.7,437.1 639.6,436.6 638.5,436.3 637.4,436.0 636.4,435.8 635.3,435.6 634.2,435.6 633.1,435.6 631.9,435.8 630.8,436.0 629.7,436.3 628.6,436.6 627.5,437.1 626.3,437.6 625.2,438.2 624.1,438.9 622.9,439.7 621.8,440.5 620.6,441.4 619.5,442.4 618.3,443.4 617.2,444.6 616.0,445.7 614.8,447.0 613.6,448.3 612.5,449.6 611.3,451.1 610.1,452.5 608.9,454.1 607.7,455.6 606.4,457.3 605.2,459.0 604.0,460.7 602.7,462.4 601.5,464.2 600.2,466.1 598.9,467.9 597.6,469.8 596.4,471.7 595.0,473.7 593.7,475.6 592.4,477.6 591.0,479.6 589.7,481.6 588.3,483.7 586.9,485.7 585.5,487.8 584.1,489.8 582.7,491.8 581.3,493.9 579.8,495.9 578.4,497.9 576.9,500.0 575.4,502.0 573.9,504.0 572.4,505.9 570.9,507.9 569.4,509.8 567.9,511.7 566.3,513.6 564.8,515.4 563.3,517.2 561.7,519.0 560.1,520.7 558.6,522.4 557.0,524.1 555.4,525.7 553.9,527.2 552.3,528.8 550.7,530.2 549.2,531.6 547.6,533.0 546.0,534.3 544.5,535.6 543.0,536.8 541.4,537.9 539.9,539.0 538.4,540.0 536.9,541.0 535.4,541.9 533.9,542.7 532.5,543.4 531.0,544.1 529.6,544.8 528.2,545.3 526.8,545.8 525.4,546.3 524.1,546.6 522.8,546.9 521.5,547.1 520.2,547.3 518.9,547.4 517.7,547.4 516.5,547.3 515.3,547.2 514.2,547.0 513.0,546.7 511.9,546.4 510.8,546.0 509.8,545.5 508.7,545.0 507.7,544.4 506.7,543.7 505.8,543.0 504.8,542.2 503.9,541.4 503.0,540.4 502.2,539.5 501.3,538.4 500.5,537.4 499.7,536.2 498.9,535.0 498.2,533.8 497.4,532.5 496.7,531.2 496.0,529.8 495.3,528.3 494.6,526.9 494.0,525.3 493.3,523.8 492.7,522.2 492.1,520.6 491.5,518.9 490.9,517.2 490.3,515.5 489.8,513.8 489.2,512.0 488.7,510.2 488.1,508.4 487.6,506.6 487.1,504.8 486.6,502.9 486.1,501.1 485.6,499.2 485.1,497.3 484.6,495.5 484.2,493.6 483.7,491.8 483.3,489.9 482.8,488.1 482.4,486.2 482.0,484.4 481.6,482.6 481.2,480.8 480.8,479.0 480.4,477.3 480.1,475.6 479.7,473.9 479.4,472.2 479.1,470.6 478.8,469.0 478.5,467.5 478.2,466.0 478.0,464.5 477.7,463.1 477.5,461.7 477.3,460.3 477.2,459.0 477.0,457.8 476.9,456.6 476.8,455.5 476.8,454.4 476.7,453.4 476.7,452.4 476.8,451.5 476.8,450.6 476.9,449.9 477.0,449.1 477.1,448.5 477.3,447.9 477.5,447.3 477.8,446.9 478.0,446.5 478.3,446.2 478.7,445.9 479.1,445.7 479.5,445.6 479.9,445.5 480.4,445.5 480.9,445.6 481.5,445.7 482.0,446.0 482.6,446.2 483.3,446.6 484.0,447.0 484.7,447.5 485.4,448.0 486.2,448.6 487.0,449.3 487.8,450.1 488.7,450.9 489.5,451.7 490.4,452.7 491.4,453.6 492.3,454.7 493.3,455.8 494.3,456.9 495.3,458.2 496.4,459.4 497.4,460.7 498.5,462.1 499.6,463.5 500.7,464.9 501.8,466.4 502.9,468.0 504.1,469.6 505.2,471.2 506.4,472.8 507.5,474.5 508.7,476.2 509.9,478.0 511.1,479.7 512.3,481.5 513.5,483.3 514.7,485.2 515.9,487.0 517.1,488.9 518.3,490.8 519.5,492.7 520.7,494.6 521.9,496.5 523.1,498.4 524.3,500.3 525.6,502.2 526.8,504.1 528.0,506.0 529.2,507.8 530.4,509.7 531.6,511.6 532.8,513.4 534.0,515.2 535.3,517.0 536.5,518.8 537.7,520.5 538.9,522.3 540.1,523.9 541.4,525.6 542.6,527.2 543.8,528.8 545.1,530.3 546.3,531.8 547.6,533.3 548.8,534.7 550.1,536.0 551.4,537.3 552.7,538.6 553.9,539.8 555.2,540.9 556.6,542.0 557.9,543.0 559.2,544.0 560.5,544.9 561.9,545.8 563.2,546.5 564.6,547.2 566.0,547.9 567.4,548.5 568.8,549.0 570.2,549.4 571.6,549.8 573.0,550.0 574.5,550.3 575.9,550.4 577.4,550.5 578.9,550.5 580.4,550.4 581.9,550.2 583.3,550.0 584.9,549.7 586.4,549.3 587.9,548.9 589.4,548.3 590.9,547.7 592.4,547.1 594.0,546.3 595.5,545.5 597.0,544.6 598.5,543.6 600.1,542.6 601.6,541.5 603.1,540.3 604.6,539.1 606.1,537.8 607.6,536.4 609.1,535.0 610.6,533.5 612.1,531.9 613.5,530.3 615.0,528.7 616.4,527.0 617.8,525.2 619.2,523.4 620.6,521.5 621.9,519.6 623.3,517.7 624.6,515.7 625.9,513.7 627.2,511.6 628.5,509.6 629.7,507.5 630.9,505.3 632.1,503.2 633.3,501.0 634.5,498.8 635.6,496.6 636.7,494.4 637.8,492.2 638.8,489.9 639.8,487.7 640.9,485.5 641.8,483.3 642.8,481.1 643.7,478.9 644.6,476.7 645.5,474.5 646.4,472.4 647.2,470.3 648.0,468.2 648.8,466.1 649.6,464.1 650.3,462.1 651.0,460.2 651.7,458.3 652.4,456.4 653.1,454.6 653.7,452.9 654.3,451.2 654.9,449.6 655.5,448.0 656.1,446.5 656.6,445.0 657.1,443.6 657.6,442.3 658.1,441.1 658.6,439.9 659.1,438.8 659.5,437.8 660.0,436.8 660.4,436.0 660.8,435.2 661.2,434.5 661.6,433.9 662.0,433.4 662.3,432.9 662.7,432.6 663.0,432.3 663.3,432.1 663.6,432.1 663.9,432.1 664.2,432.2 664.5,432.3 664.7,432.6 665.0,433.0 665.2,433.4 665.4,433.9 665.6,434.6 665.8,435.3 666.0,436.1 666.2,436.9 666.3,437.9 666.4,438.9 666.5,440.1 666.6,441.3 666.7,442.5 666.7,443.9 666.8,445.3 666.8,446.8 666.8,448.3 666.7,449.9 666.7,451.6 666.6,453.4 666.5,455.2 666.4,457.0 666.3,458.9 666.1,460.9 665.9,462.9 665.7,464.9 665.4,467.0 665.1,469.2 664.8,471.3 664.5,473.5 664.1,475.7 663.7,478.0 663.3,480.2 662.9,482.5 662.4,484.8 661.9,487.1 661.4,489.4 660.8,491.7 660.2,494.0 659.6,496.3 658.9,498.6 658.2,500.9 657.5,503.2 656.8,505.4 656.0,507.7 655.2,509.9 654.4,512.1 653.5,514.2 652.7,516.3 651.7,518.4 650.8,520.5 649.9,522.5 648.9,524.5 647.9,526.4 646.8,528.3 645.8,530.1 644.7,531.8 643.6,533.5 642.5,535.2 641.4,536.8 640.3,538.3 639.1,539.8 637.9,541.1 636.7,542.5 635.5,543.7 634.3,544.9 633.1,546.0 631.9,547.0 630.6,548.0 629.4,548.9 628.1,549.7 626.8,550.4 625.5,551.1 624.3,551.6 623.0,552.1 621.7,552.5 620.4,552.8 619.1,553.1 617.8,553.3 616.5,553.3 615.2,553.3 613.9,553.3 612.6,553.1 611.3,552.9 610.0,552.6 608.7,552.2 607.4,551.7 606.1,551.2 604.8,550.6 603.5,549.9 602.2,549.1 600.9,548.3 599.6,547.4 598.3,546.4 597.1,545.4 595.8,544.3 594.5,543.2 593.2,541.9 591.9,540.7 590.6,539.3 589.3,538.0 588.0,536.5 586.7,535.0 585.4,533.5 584.1,531.9 582.8,530.3 581.5,528.6 580.2,526.9 578.9,525.2 577.5,523.4 576.2,521.6 574.9,519.8 573.5,517.9 572.2,516.0 570.8,514.1 569.4,512.2 568.1,510.3 566.7,508.3 565.3,506.4 563.9,504.4 562.5,502.4 561.1,500.5 559.7,498.5 558.2,496.5 556.8,494.6 555.4,492.6 553.9,490.7 552.5,488.7 551.0,486.8 549.5,484.9 548.1,483.0 546.6,481.2 545.1,479.3 543.6,477.5 542.1,475.7 540.7,474.0 539.2,472.3 537.7,470.6 536.2,469.0 534.7,467.4 533.2,465.8 531.8,464.3 530.3,462.8 528.8,461.4 527.4,460.0 526.0,458.7 524.5,457.4 523.1,456.2 521.7,455.1 520.3,454.0 518.9,452.9 517.6,451.9 516.2,451.0 514.9,450.2 513.6,449.4 512.3,448.6 511.1,448.0 509.8,447.4 508.6,446.8 507.4,446.4 506.3,446.0 505.1,445.6 504.0,445.4 502.9,445.2 501.9,445.0 500.8,445.0 499.8,445.0 498.9,445.1 497.9,445.2 497.0,445.4 496.1,445.7 495.3,446.0 494.5,446.5 493.7,446.9 492.9,447.5 492.2,448.1 491.5,448.8 490.8,449.5 490.1,450.3 489.5,451.2 488.9,452.1 488.4,453.1 487.8,454.1 487.3,455.2 486.8,456.4 486.3,457.6 485.9,458.8 485.4,460.1 485.0,461.5 484.6,462.9 484.3,464.3 483.9,465.8 483.6,467.3 483.3,468.9 483.0,470.5 482.7,472.1 482.4,473.8 482.2,475.4 481.9,477.2 481.7,478.9 481.5,480.7 481.3,482.5 481.1,484.3 480.9,486.1 480.7,487.9 480.6,489.8 480.4,491.6 480.3,493.5 480.2,495.3 480.0,497.2 479.9,499.1 479.8,500.9 479.7,502.8 479.7,504.6 479.6,506.4 479.5,508.2 479.5,510.0 479.4,511.8 479.4,513.6 479.4,515.3 479.4,517.0 479.4,518.7 479.4,520.3 479.5,521.9 479.5,523.5 479.6,525.1 479.7,526.6 479.8,528.0 480.0,529.4 480.1,530.8 480.3,532.1 480.5,533.4 480.7,534.6 481.0,535.8 481.2,536.9 481.5,538.0 481.8,539.0 482.2,539.9 482.6,540.8 483.0,541.6 483.4,542.4 483.9,543.1 484.4,543.7 484.9,544.3 485.4,544.8 486.0,545.3 486.6,545.6 487.3,546.0 488.0,546.2 488.7,546.4 489.4,546.5 490.2,546.5 491.0,546.5 491.8,546.4 492.7,546.2 493.6,546.0 494.5,545.7 495.5,545.3 496.4,544.9 497.5,544.3 498.5,543.8 499.6,543.1 500.6,542.4 501.8,541.7 502.9,540.8 504.1,539.9 505.2,539.0 506.4,538.0 507.6,536.9 508.9,535.8 510.1,534.6 511.4,533.4 512.7,532.1 514.0,530.7 515.3,529.3 516.6,527.9 518.0,526.4 519.3,524.9 520.6,523.3 522.0,521.7 523.4,520.1 524.7,518.4 526.1,516.7 527.5,514.9 528.8,513.2 530.2,511.3 531.6,509.5 533.0,507.7 534.3,505.8 535.7,503.9 537.1,502.0 538.4,500.1 539.8,498.1 541.2,496.2 542.5,494.3 543.9,492.3 545.2,490.4 546.6,488.4 547.9,486.5 549.3,484.5 550.6,482.6 551.9,480.7 553.3,478.8 554.6,476.9 555.9,475.0 557.2,473.2 558.5,471.4 559.8,469.6 561.1,467.8 562.5,466.1 563.8,464.4 565.1,462.8 566.4,461.1 567.7,459.6 569.0,458.0 570.3,456.5 571.6,455.1 572.9,453.7 574.2,452.4 575.6,451.1 576.9,449.8 578.2,448.7 579.5,447.6 580.9,446.5 582.2,445.5 583.5,444.6 584.9,443.7 586.2,442.9 587.6,442.2 589.0,441.6 590.3,441.0 591.7,440.5 593.1,440.0 594.5,439.7 595.9,439.4 597.3,439.2 598.7,439.0 600.1,439.0 601.5,439.0 602.9,439.1 604.3,439.3 605.7,439.5 607.1,439.8 608.6,440.2 610.0,440.7 611.4,441.3 612.8,441.9 614.2,442.7 615.6,443.4 617.0,444.3 618.4,445.3 619.8,446.3 621.2,447.4 622.5,448.5 623.9,449.7 625.3,451.0 626.6,452.4 627.9,453.8 629.2,455.3 630.5,456.9 631.8,458.5 633.1,460.2 634.3,461.9 635.6,463.7 636.8,465.5 638.0,467.4 639.1,469.3 640.3,471.3 641.4,473.3 642.5,475.3 643.6,477.4 644.6,479.5 645.7,481.6 646.7,483.8 647.6,486.0 648.6,488.2 649.5,490.4 650.4,492.7 651.3,494.9 652.1,497.2 652.9,499.5 653.7,501.7 654.4,504.0 655.2,506.3 655.9,508.5 656.5,510.7 657.2,513.0 657.8,515.2 658.4,517.3 658.9,519.5 659.5,521.6 660.0,523.7 660.5,525.8 660.9,527.8 661.3,529.7 661.8,531.7 662.1,533.6 662.5,535.4 662.8,537.2 663.2,538.9 663.5,540.6 663.7,542.2 664.0,543.7 664.2,545.2 664.4,546.6 664.6,547.9 664.8,549.2 665.0,550.4 665.1,551.5 665.2,552.5 665.4,553.4 665.5,554.3 665.5,555.1 665.6,555.8 665.7,556.4 665.7,556.9 665.7,557.4 665.7,557.7 665.7,558.0 665.7,558.2 665.7,558.3 665.6,558.3 665.6,558.2 665.5,558.0 665.4,557.8 665.3,557.4 665.2,557.0 665.1,556.4 665.0,555.8 664.8,555.1 664.7,554.3 664.5,553.5 664.3,552.5 664.1,551.5 663.8,550.4 663.6,549.2 663.3,548.0 663.1,546.6 662.8,545.2 662.4,543.8 662.1,542.2 661.8,540.6 661.4,539.0 661.0,537.3 660.6,535.5 660.1,533.7 659.7,531.8 659.2,529.9 658.7,527.9 658.1,525.9 657.6,523.9 657.0,521.8 656.4,519.7 655.8,517.5 655.1,515.4 654.4,513.2 653.7,511.0 653.0,508.7 652.2,506.5 651.4,504.3 650.6,502.0 649.7,499.8 648.9,497.5 648.0,495.3 647.0,493.0 646.1,490.8 645.1,488.6 644.1,486.4 643.0,484.2 642.0,482.0 640.9,479.9 639.8,477.8 638.7,475.7 637.5,473.7 636.3,471.7 635.1,469.8 633.9,467.8 632.6,466.0 631.4,464.2 630.1,462.4 628.8,460.7 627.5,459.0 626.1,457.4 624.8,455.9 623.4,454.4 622.1,452.9 620.7,451.6 619.3,450.3 617.9,449.1 616.5,447.9 615.0,446.8 613.6,445.8 612.2,444.9 610.7,444.0 609.3,443.2 607.8,442.5 606.4,441.8 604.9,441.3 603.5,440.8 602.0,440.4 600.6,440.0 599.2,439.8 597.7,439.6 596.3,439.5 594.8,439.4 593.4,439.5 592.0,439.6 590.6,439.8 589.2,440.1 587.8,440.4 586.4,440.9 585.0,441.3 583.6,441.9 582.2,442.6 580.8,443.3 579.5,444.0 578.1,444.9 576.8,445.8 575.4,446.8 574.1,447.8 572.7,448.9 571.4,450.0 570.1,451.3 568.8,452.5 567.5,453.8 566.1,455.2 564.8,456.6 563.5,458.1 562.2,459.6 560.9,461.2 559.6,462.8 558.4,464.4 557.1,466.1 555.8,467.8 554.5,469.5 553.2,471.3 551.9,473.1 550.6,474.9 549.3,476.8 548.0,478.7 546.7,480.5 545.4,482.4 544.1,484.4 542.8,486.3 541.4,488.2 540.1,490.1 538.8,492.1 537.5,494.0 536.2,496.0 534.8,497.9 533.5,499.8 532.2,501.7 530.8,503.6 529.5,505.5 528.2,507.4 526.8,509.2 525.5,511.1 524.2,512.9 522.8,514.6 521.5,516.4 520.2,518.1 518.9,519.8 517.5,521.4 516.2,523.0 514.9,524.6 513.6,526.1 512.4,527.6 511.1,529.1 509.8,530.5 508.6,531.8 507.4,533.1 506.1,534.3 505.0,535.5 503.8,536.7 502.6,537.7 501.5,538.8 500.3,539.7 499.3,540.6 498.2,541.5 497.1,542.2 496.1,543.0 495.1,543.6 494.1,544.2 493.2,544.7 492.3,545.2 491.4,545.5 490.5,545.9 489.7,546.1 488.9,546.3 488.1,546.4 487.4,546.4 486.7,546.4 486.0,546.3 485.4,546.2 484.8,545.9 484.2,545.6 483.7,545.3 483.2,544.8 482.7,544.3 482.2,543.8 481.8,543.2 481.4,542.5 481.1,541.7 480.7,540.9 480.5,540.0 480.2,539.1 479.9,538.1 479.7,537.0 479.5,535.9 479.4,534.8 479.2,533.5 479.1,532.3 479.0,531.0 478.9,529.6 478.9,528.2 478.9,526.7 478.8,525.2 478.9,523.7 478.9,522.1 478.9,520.5 479.0,518.9 479.0,517.2 479.1,515.5 479.2,513.8 479.3,512.0 479.5,510.3 479.6,508.5 479.7,506.7 479.9,504.8 480.1,503.0 480.2,501.2 480.4,499.3 480.6,497.4 480.8,495.6 481.0,493.7 481.3,491.9 481.5,490.0 481.7,488.2 482.0,486.3 482.3,484.5 482.5,482.7 482.8,480.9 483.1,479.1 483.4,477.4 483.8,475.7 484.1,474.0 484.4,472.3 484.8,470.7 485.2,469.1 485.6,467.5 486.0,466.0 486.4,464.5 486.9,463.0 487.3,461.6 487.8,460.3 488.3,458.9 488.8,457.7 489.4,456.5 489.9,455.3 490.5,454.2 491.2,453.2 491.8,452.2 492.5,451.2 493.2,450.4 493.9,449.5 494.6,448.8 495.4,448.1 496.2,447.5 497.0,446.9 497.9,446.4 498.8,446.0 499.7,445.6 500.6,445.3 501.6,445.1 502.6,444.9 503.6,444.9 504.7,444.8 505.8,444.9 506.9,445.0 508.0,445.2 509.2,445.4 510.4,445.8 511.6,446.2 512.8,446.6 514.1,447.1 515.4,447.7 516.7,448.4 518.0,449.1 519.4,449.9 520.7,450.7 522.1,451.6 523.5,452.6 524.9,453.7 526.4,454.7 527.8,455.9 529.3,457.1 530.8,458.4 532.2,459.7 533.7,461.0 535.2,462.5 536.7,463.9 538.2,465.4 539.7,467.0 541.2,468.6 542.7,470.2 544.3,471.9 545.8,473.6 547.3,475.4 548.8,477.2 550.3,479.0 551.8,480.8 553.3,482.7 554.8,484.6 556.3,486.5 557.8,488.4 559.2,490.3 560.7,492.3 562.2,494.3 563.6,496.2 565.0,498.2 566.5,500.2 567.9,502.2 569.3,504.2 570.7,506.2 572.1,508.1 573.5,510.1 574.9,512.1 576.2,514.0 577.6,515.9 579.0,517.8 580.3,519.7 581.6,521.5 583.0,523.4 584.3,525.1 585.6,526.9 586.9,528.6 588.2,530.3 589.5,531.9 590.8,533.5 592.1,535.1 593.4,536.6 594.6,538.1 595.9,539.5 597.2,540.8 598.5,542.1 599.7,543.3 601.0,544.5 602.3,545.6 603.5,546.7 604.8,547.7 606.1,548.6 607.3,549.4 608.6,550.2 609.8,550.9 611.1,551.5 612.4,552.1 613.6,552.5 614.9,552.9 616.2,553.3 617.4,553.5 618.7,553.7 619.9,553.8 621.2,553.8 622.4,553.7 623.7,553.5 624.9,553.3 626.2,553.0 627.4,552.6 628.7,552.1 629.9,551.5 631.1,550.9 632.3,550.2 633.6,549.4 634.8,548.5 635.9,547.5 637.1,546.5 638.3,545.4 639.4,544.2 640.6,542.9 641.7,541.6 642.8,540.2 643.9,538.8 645.0,537.2 646.1,535.6 647.1,534.0 648.1,532.3 649.1,530.5 650.1,528.7 651.1,526.8 652.0,524.9 652.9,522.9 653.8,520.9 654.7,518.8 655.5,516.7 656.3,514.6 657.1,512.4 657.9,510.2 658.6,508.0 659.3,505.7 660.0,503.5 660.6,501.2 661.2,498.9 661.8,496.6 662.4,494.3 662.9,492.0 663.4,489.6 663.8,487.3 664.3,485.0 664.7,482.7 665.0,480.4 665.4,478.2 665.7,475.9 666.0,473.7 666.2,471.5 666.4,469.4 666.6,467.2 666.8,465.1 666.9,463.1 667.1,461.1 667.1,459.1 667.2,457.2 667.3,455.4 667.3,453.6 667.3,451.8 667.2,450.1 667.2,448.5 667.1,446.9 667.0,445.5 666.9,444.0 666.8,442.7 666.6,441.4 666.4,440.2 666.2,439.1 666.0,438.1 665.8,437.1 665.6,436.2 665.3,435.4 665.0,434.7 664.7,434.1 664.4,433.6 664.1,433.1 663.8,432.8 663.5,432.5 663.1,432.3 662.7,432.2 662.4,432.2 662.0,432.3 661.6,432.5 661.2,432.7 660.7,433.1 660.3,433.5 659.8,434.0 659.4,434.6 658.9,435.3 658.4,436.1 657.9,437.0 657.4,437.9 656.9,438.9 656.3,440.0 655.8,441.2 655.2,442.4 654.6,443.7 654.0,445.1 653.4,446.5 652.7,448.0 652.1,449.6 651.4,451.2 650.7,452.9 650.0,454.7 649.3,456.5 648.5,458.3 647.8,460.2 647.0,462.1 646.2,464.1 645.4,466.1 644.5,468.1 643.6,470.2 642.7,472.3 641.8,474.4 640.9,476.6 639.9,478.7 638.9,480.9 637.9,483.1 636.9,485.3 635.8,487.5 634.7,489.7 633.6,491.9 632.5,494.1 631.3,496.3 630.2,498.5 629.0,500.7 627.7,502.9 626.5,505.0 625.2,507.1 623.9,509.2 622.6,511.3 621.3,513.3 620.0,515.3 618.6,517.3 617.2,519.2 615.8,521.1 614.4,523.0 612.9,524.8 611.5,526.5 610.0,528.2 608.6,529.9 607.1,531.5 605.6,533.0 604.1,534.5 602.5,535.9 601.0,537.3 599.5,538.6 597.9,539.8 596.4,541.0 594.9,542.1 593.3,543.1 591.8,544.1 590.2,545.0 588.7,545.8 587.1,546.6 585.6,547.3 584.0,547.9 582.5,548.4 581.0,548.9 579.5,549.3 577.9,549.6 576.4,549.8 574.9,550.0 573.4,550.1 572.0,550.1 570.5,550.1 569.0,549.9 567.6,549.7 566.2,549.4 564.7,549.1 563.3,548.7 561.9,548.2 560.5,547.6 559.2,547.0 557.8,546.3 556.5,545.6 555.1,544.7 553.8,543.8 552.5,542.9 551.2,541.9 549.9,540.8 548.6,539.7 547.3,538.5 546.1,537.3 544.8,536.0 543.6,534.7 542.4,533.3 541.1,531.8 539.9,530.4 538.7,528.8 537.5,527.3 536.3,525.7 535.1,524.0 533.9,522.4 532.7,520.7 531.5,518.9 530.4,517.2 529.2,515.4 528.0,513.6 526.8,511.8 525.7,509.9 524.5,508.1 523.3,506.2 522.2,504.3 521.0,502.4 519.8,500.5 518.7,498.6 517.5,496.7 516.3,494.8 515.2,492.9 514.0,491.0 512.9,489.2 511.7,487.3 510.6,485.5 509.4,483.6 508.3,481.8 507.2,480.0 506.0,478.2 504.9,476.5 503.8,474.8 502.7,473.1 501.6,471.4 500.5,469.8 499.4,468.3 498.3,466.7 497.3,465.2 496.3,463.8 495.2,462.3 494.2,461.0 493.2,459.7 492.3,458.4 491.3,457.2 490.4,456.0 489.5,454.9 488.6,453.8 487.7,452.9 486.9,451.9 486.1,451.0 485.3,450.2 484.6,449.5 483.8,448.8 483.1,448.2 482.5,447.6 481.8,447.1 481.2,446.7 480.7,446.3 480.1,446.0 479.6,445.8 479.2,445.6 478.7,445.6 478.3,445.5 478.0,445.6 477.6,445.7 477.3,445.9 477.1,446.1 476.9,446.5 476.7,446.8 476.5,447.3 476.4,447.8 476.3,448.4 476.2,449.1 476.2,449.8 476.2,450.5 476.2,451.4 476.3,452.3 476.4,453.2 476.5,454.3 476.6,455.3 476.8,456.5 477.0,457.6 477.2,458.9 477.5,460.2 477.7,461.5 478.0,462.9 478.3,464.3 478.7,465.8 479.0,467.3 479.4,468.8 479.8,470.4 480.2,472.0 480.6,473.7 481.0,475.4 481.5,477.1 481.9,478.8 482.4,480.6 482.9,482.4 483.4,484.2 483.9,486.0 484.4,487.8 484.9,489.7 485.4,491.5 485.9,493.4 486.5,495.2 487.0,497.1 487.6,499.0 488.2,500.8 488.8,502.7 489.3,504.5 489.9,506.4 490.5,508.2 491.1,510.0 491.8,511.8 492.4,513.6 493.0,515.3 493.7,517.0 494.4,518.7 495.0,520.4 495.7,522.0 496.4,523.6 497.1,525.2 497.8,526.7 498.6,528.2 499.3,529.6 500.1,531.0 500.9,532.4 501.7,533.7 502.5,535.0 503.4,536.2 504.2,537.3 505.1,538.4 506.0,539.4 507.0,540.4 507.9,541.4 508.9,542.2 509.9,543.0 510.9,543.8 511.9,544.4 513.0,545.1 514.1,545.6 515.2,546.1 516.3,546.5 517.5,546.8 518.6,547.1 519.8,547.3 521.1,547.5 522.3,547.6 523.6,547.6 524.9,547.5 526.2,547.3 527.6,547.1 528.9,546.9 530.3,546.5 531.7,546.1 533.1,545.6 534.6,545.1 536.0,544.4 537.5,543.8 539.0,543.0 540.5,542.2 542.0,541.3 543.5,540.4 545.1,539.3 546.6,538.3 548.2,537.1 549.7,535.9 551.3,534.7 552.9,533.4 554.4,532.0 556.0,530.6 557.6,529.1 559.2,527.6 560.8,526.1 562.4,524.4 563.9,522.8 565.5,521.1 567.1,519.3 568.6,517.6 570.2,515.8 571.8,513.9 573.3,512.0 574.8,510.1 576.3,508.2 577.9,506.2 579.4,504.3 580.8,502.3 582.3,500.2 583.8,498.2 585.2,496.2 586.7,494.1 588.1,492.1 589.5,490.0 590.9,487.9 592.3,485.9 593.7,483.8 595.0,481.8 596.4,479.7 597.7,477.7 599.0,475.7 600.3,473.7 601.6,471.8 602.9,469.8 604.1,467.9 605.4,466.0 606.6,464.2 607.9,462.4 609.1,460.6 610.3,458.9 611.5,457.2 612.7,455.5 613.8,453.9 615.0,452.4 616.2,450.9 617.3,449.4 618.5,448.1 619.6,446.7 620.7,445.5 621.9,444.3 623.0,443.1 624.1,442.1 625.2,441.1 626.3,440.2 627.4,439.3 628.5,438.6 629.6,437.9 630.7,437.2 631.7,436.7 632.8,436.2 633.9,435.9 635.0,435.6 636.0,435.3 637.1,435.2 638.1,435.2 639.1,435.2 640.2,435.3 641.2,435.5 642.2,435.8 643.2,436.2 644.2,436.6 645.2,437.2 646.2,437.8 647.2,438.5 648.1,439.3 649.1,440.1 650.0,441.1 651.0,442.1 651.9,443.2 652.8,444.4 653.6,445.6 654.5,447.0 655.3,448.4 656.2,449.8 657.0,451.4 657.7,453.0 658.5,454.6 659.2,456.4 660.0,458.1 660.7,460.0 661.3,461.9 662.0,463.8 662.6,465.8 663.2,467.8 663.7,469.9 664.3,472.0 664.8,474.2 665.3,476.4 665.7,478.6 666.1,480.8 666.5,483.1 666.9,485.4 667.2,487.7 667.5,490.0 667.8,492.3 668.0,494.7 668.2,497.0 668.4,499.3 668.5,501.7 668.7,504.0 668.7,506.3 668.8,508.6 668.8,510.9 668.8,513.1 668.7,515.3 668.7,517.6 668.6,519.7 668.4,521.9 668.3,524.0 668.1,526.0 667.9,528.0 667.6,530.0 667.4,531.9 667.1,533.8 666.8,535.6 666.4,537.3 666.1,539.0 665.7,540.6 665.3,542.2 664.8,543.7 664.4,545.1 663.9,546.5 663.4,547.7 662.9,548.9 662.4,550.0 661.9,551.1 661.3,552.1 660.7,552.9 660.1,553.7 659.5,554.4 658.9,555.1 658.3,555.6 657.7,556.1 657.0,556.4 656.4,556.7 655.7,556.9 655.0,557.0 654.3,557.1 653.6,557.0 652.9,556.9 652.2,556.6 651.4,556.3 650.7,555.9 649.9,555.4 649.2,554.8 648.4,554.2 647.6,553.4 646.8,552.6 646.0,551.7 645.2,550.8 644.4,549.7 643.5,548.6 642.7,547.4 641.8,546.2 641.0,544.9 640.1,543.5 639.2,542.0 638.3,540.5 637.3,539.0 636.4,537.4 635.5,535.7 634.5,534.0 633.5,532.2 632.5,530.4 631.5,528.5 630.5,526.7 629.4,524.7 628.3,522.8 627.2,520.8 626.1,518.8 625.0,516.7 623.9,514.7 622.7,512.6 621.5,510.5 620.3,508.4 619.1,506.3 617.9,504.1 616.6,502.0 615.3,499.9 614.0,497.7 612.7,495.6 611.4,493.5 610.0,491.4 608.6,489.3 607.2,487.3 605.8,485.2 604.4,483.2 602.9,481.2 601.5,479.2 600.0,477.3 598.5,475.4 597.0,473.5 595.4,471.7 593.9,469.9 592.4,468.1 590.8,466.4 589.2,464.7 587.7,463.1 586.1,461.6 584.5,460.0 582.9,458.6 581.3,457.2 579.7,455.8 578.1,454.5 576.5,453.3 574.9,452.2 573.3,451.1 571.7,450.0 570.1,449.1 568.5,448.1 566.9,447.3 565.3,446.5 563.8,445.8 562.2,445.2 560.6,444.7 559.1,444.2 557.6,443.7 556.1,443.4 554.6,443.1 553.1,442.9 551.6,442.8 550.1,442.7 548.7,442.7 547.3,442.8 545.9,443.0 544.5,443.2 543.1,443.5 541.8,443.9 540.4,444.3 539.1,444.8 537.8,445.4 536.5,446.0 535.3,446.7 534.0,447.5 532.8,448.3 531.6,449.2 530.4,450.1 529.2,451.1 528.0,452.2 526.9,453.3 525.8,454.5 524.6,455.7 523.5,457.0 522.5,458.3 521.4,459.7 520.3,461.1 519.3,462.6 518.2,464.1 517.2,465.6 516.2,467.2 515.2,468.9 514.2,470.5 513.2,472.2 512.2,473.9 511.2,475.7 510.3,477.4 509.3,479.2 508.3,481.0 507.4,482.8 506.4,484.7 505.5,486.5 504.6,488.4 503.6,490.3 502.7,492.2 501.8,494.0 500.9,495.9 500.0,497.8 499.1,499.7 498.2,501.5 497.3,503.4 496.4,505.2 495.5,507.1 494.7,508.9 493.8,510.7 492.9,512.5 492.1,514.2 491.3,515.9 490.4,517.6 489.6,519.3 488.8,520.9 488.0,522.5 487.3,524.1 486.5,525.6 485.8,527.1 485.0,528.5 484.3,529.9 483.6,531.3 483.0,532.6 482.3,533.8 481.7,535.0 481.1,536.2 480.5,537.2 480.0,538.3 479.5,539.2 479.0,540.2 478.5,541.0 478.1,541.8 477.7,542.5 477.3,543.2 476.9,543.8 476.6,544.3 476.3,544.8 476.1,545.2 475.9,545.5 475.7,545.8 475.6,546.0 475.4,546.1 475.4,546.2 475.3,546.2 475.3,546.1 475.3,546.0 475.4,545.8 475.5,545.5 475.6,545.1 475.8,544.7 476.0,544.2 476.2,543.7 476.5,543.1 476.8,542.4 477.1,541.7 477.5,540.9 477.9,540.0 478.3,539.1 478.7,538.1 479.2,537.1 479.7,536.0 480.2,534.8 480.7,533.6 481.3,532.4 481.9,531.1 482.5,529.7 483.1,528.3 483.8,526.9 484.4,525.4 485.1,523.9 485.8,522.3 486.5,520.7 487.3,519.1 488.0,517.4 488.7,515.7 489.5,514.0 490.3,512.2 491.1,510.4 491.9,508.6 492.7,506.8 493.5,505.0 494.3,503.1 495.1,501.3 495.9,499.4 496.8,497.6 497.6,495.7 498.4,493.8 499.3,491.9 500.2,490.0 501.0,488.2 501.9,486.3 502.8,484.5 503.6,482.6 504.5,480.8 505.4,479.0 506.3,477.2 507.2,475.5 508.2,473.8 509.1,472.0 510.0,470.4 511.0,468.7 511.9,467.1 512.9,465.5 513.9,464.0 514.8,462.5 515.8,461.1 516.9,459.7 517.9,458.3 518.9,457.0 520.0,455.7 521.1,454.5 522.1,453.3 523.2,452.2 524.4,451.2 525.5,450.2 526.7,449.3 527.8,448.4 529.0,447.6 530.2,446.8 531.5,446.2 532.7,445.5 534.0,445.0 535.3,444.5 536.6,444.1 537.9,443.7 539.3,443.5 540.6,443.3 542.0,443.1 543.4,443.1 544.9,443.1 546.3,443.1 547.7,443.3 549.2,443.5 550.7,443.8 552.2,444.1 553.7,444.6 555.3,445.1 556.8,445.6 558.3,446.3 559.9,447.0 561.5,447.8 563.1,448.6 564.7,449.5 566.2,450.5 567.8,451.5 569.5,452.6 571.1,453.8 572.7,455.0 574.3,456.3 575.9,457.7 577.5,459.1 579.1,460.5 580.7,462.0 582.3,463.6 583.9,465.2 585.5,466.9 587.0,468.6 588.6,470.3 590.1,472.1 591.7,473.9 593.2,475.8 594.7,477.7 596.2,479.6 597.7,481.6 599.2,483.6 600.6,485.6 602.1,487.6 603.5,489.7 604.9,491.8 606.3,493.8 607.7,495.9 609.0,498.0 610.4,500.2 611.7,502.3 613.0,504.4 614.2,506.5 615.5,508.6 616.7,510.7 618.0,512.7 619.2,514.8 620.4,516.9 621.5,518.9 622.7,520.9 623.8,522.8 624.9,524.8 626.0,526.7 627.1,528.6 628.2,530.4 629.2,532.2 630.2,533.9 631.3,535.7 632.3,537.3 633.3,538.9 634.2,540.5 635.2,541.9 636.2,543.4 637.1,544.7 638.0,546.0 639.0,547.3 639.9,548.5 640.8,549.6 641.6,550.6 642.5,551.5 643.4,552.4 644.3,553.2 645.1,553.9 645.9,554.6 646.8,555.2 647.6,555.6 648.4,556.0 649.2,556.3 650.0,556.6 650.8,556.7 651.6,556.8 652.4,556.7 653.1,556.6 653.9,556.4 654.6,556.1 655.3,555.8 656.0,555.3 656.7,554.8 657.4,554.1 658.1,553.4 658.8,552.6 659.4,551.7 660.1,550.8 660.7,549.7 661.3,548.6 661.9,547.4 662.4,546.1 663.0,544.8 663.5,543.4 664.0,541.9 664.5,540.3 665.0,538.7 665.4,537.0 665.9,535.3 666.3,533.5 666.6,531.6 667.0,529.7 667.3,527.7 667.6,525.7 667.9,523.7 668.1,521.6 668.3,519.4 668.5,517.3 668.7,515.1 668.8,512.8 668.9,510.6 669.0,508.3 669.0,506.0 669.0,503.7 669.0,501.4 668.9,499.0 668.8,496.7 668.7,494.3 668.5,492.0 668.3,489.7 668.1,487.4 667.9,485.1 667.6,482.8 667.3,480.5 666.9,478.2 666.6,476.0 666.2,473.8 665.7,471.7 665.3,469.5 664.8,467.5 664.3,465.4 663.8,463.4 663.2,461.5 662.6,459.6 662.0,457.7 661.3,455.9 660.7,454.2 660.0,452.5 659.3,450.9 658.6,449.4 657.8,447.9 657.0,446.5 656.3,445.2 655.5,443.9 654.6,442.8 653.8,441.7 652.9,440.6 652.1,439.7 651.2,438.8 650.3,438.0 649.4,437.3 648.5,436.7 647.6,436.2 646.6,435.7 645.7,435.3 644.7,435.1 643.8,434.9 642.8,434.7 641.8,434.7 640.9,434.8 639.9,434.9 638.9,435.1 637.9,435.4 636.8,435.8 635.8,436.3 634.8,436.9 633.8,437.5 632.7,438.2 631.7,439.0 630.7,439.8 629.6,440.8 628.6,441.8 627.5,442.9 626.4,444.0 625.3,445.2 624.2,446.5 623.1,447.8 622.0,449.2 620.9,450.7 619.8,452.2 618.7,453.8 617.5,455.4 616.4,457.0 615.2,458.8 614.1,460.5 612.9,462.3 611.7,464.1 610.5,466.0 609.2,467.9 608.0,469.8 606.7,471.8 605.5,473.8 604.2,475.8 602.9,477.8 601.6,479.9 600.3,481.9 598.9,484.0 597.6,486.0 596.2,488.1 594.8,490.2 593.4,492.3 592.0,494.3 590.6,496.4 589.2,498.5 587.7,500.5 586.2,502.5 584.8,504.6 583.3,506.5 581.8,508.5 580.2,510.5 578.7,512.4 577.2,514.3 575.6,516.1 574.1,517.9 572.5,519.7 570.9,521.5 569.3,523.2 567.7,524.8 566.2,526.4 564.6,528.0 563.0,529.5 561.4,531.0 559.8,532.4 558.2,533.8 556.6,535.1 555.0,536.3 553.4,537.5 551.9,538.6 550.3,539.7 548.7,540.7 547.2,541.7 545.7,542.5 544.1,543.3 542.6,544.1 541.1,544.8 539.6,545.4 538.2,545.9 536.7,546.4 535.3,546.8 533.9,547.1 532.5,547.4 531.1,547.6 529.7,547.7 528.4,547.8 527.1,547.7 525.8,547.7 524.5,547.5 523.3,547.3 522.1,547.0 520.9,546.6 519.7,546.2 518.5,545.7 517.4,545.1 516.3,544.5 515.2,543.8 514.1,543.1 513.1,542.2 512.1,541.4 511.1,540.4 510.1,539.4 509.1,538.4 508.2,537.3 507.3,536.1 506.4,534.9 505.5,533.6 504.6,532.3 503.8,530.9 502.9,529.5 502.1,528.1 501.3,526.6 500.5,525.0 499.7,523.5 499.0,521.9 498.2,520.2 497.5,518.5 496.7,516.8 496.0,515.1 495.3,513.3 494.6,511.6 493.9,509.8 493.2,508.0 492.5,506.1 491.9,504.3 491.2,502.4 490.6,500.6 489.9,498.7 489.3,496.8 488.6,495.0 488.0,493.1 487.4,491.3 486.8,489.4 486.2,487.6 485.6,485.7 485.0,483.9 484.5,482.1 483.9,480.3 483.4,478.6 482.8,476.8 482.3,475.1 481.8,473.4 481.3,471.8 480.8,470.2 480.3,468.6 479.9,467.1 479.5,465.6 479.0,464.1 478.6,462.7 478.3,461.3 477.9,460.0 477.6,458.7 477.3,457.5 477.0,456.3 476.7,455.2 476.5,454.1 476.3,453.1 476.1,452.2 476.0,451.3 475.9,450.4 475.8,449.7 475.7,449.0 475.7,448.3 475.7,447.8 475.8,447.3 475.9,446.8 476.0,446.4 476.1,446.1 476.3,445.9 476.5,445.7 476.8,445.6 477.1,445.6 477.4,445.6 477.7,445.7 478.1,445.9 478.5,446.1 479.0,446.4 479.5,446.8 480.0,447.2 480.6,447.7 481.2,448.3 481.8,448.9 482.4,449.6 483.1,450.4 483.8,451.2 484.5,452.1 485.3,453.0 486.1,454.0 486.9,455.1 487.7,456.2 488.6,457.4 489.5,458.6 490.4,459.9 491.3,461.2 492.2,462.6 493.2,464.0 494.2,465.5 495.1,467.0 496.1,468.5 497.2,470.1 498.2,471.7 499.2,473.4 500.3,475.1 501.3,476.8 502.4,478.5 503.4,480.3 504.5,482.1 505.6,483.9 506.7,485.7 507.8,487.6 508.9,489.4 510.0,491.3 511.1,493.2 512.2,495.1 513.3,497.0 514.4,498.9 515.5,500.8 516.6,502.6 517.7,504.5 518.8,506.4 520.0,508.3 521.1,510.1 522.2,511.9 523.3,513.8 524.5,515.6 525.6,517.3 526.7,519.1 527.9,520.8 529.0,522.5 530.2,524.1 531.3,525.8 532.5,527.3 533.7,528.9 534.8,530.4 536.0,531.9 537.2,533.3 538.4,534.6 539.7,536.0 540.9,537.2 542.1,538.5 543.4,539.6 544.6,540.7 545.9,541.8 547.2,542.8 548.5,543.7 549.8,544.6 551.1,545.4 552.4,546.1 553.8,546.8 555.1,547.4 556.5,547.9 557.9,548.4 559.3,548.8 560.7,549.1 562.2,549.4 563.6,549.6 565.1,549.7 566.5,549.8 568.0,549.7 569.5,549.6 571.0,549.4 572.5,549.2 574.0,548.9 575.6,548.5 577.1,548.0 578.6,547.4 580.2,546.8 581.7,546.1 583.3,545.4 584.9,544.5 586.4,543.6 588.0,542.7 589.6,541.6 591.1,540.5 592.7,539.4 594.2,538.1 595.8,536.8 597.4,535.5 598.9,534.0 600.4,532.6 602.0,531.0 603.5,529.4 605.0,527.8 606.5,526.1 608.0,524.3 609.4,522.5 610.9,520.7 612.3,518.8 613.8,516.9 615.2,514.9 616.5,512.9 617.9,510.9 619.3,508.9 620.6,506.8 621.9,504.7 623.2,502.6 624.5,500.4 625.7,498.2 626.9,496.1 628.1,493.9 629.3,491.7 630.5,489.5 631.6,487.3 632.7,485.1 633.8,482.9 634.9,480.8 635.9,478.6 636.9,476.5 637.9,474.3 638.9,472.2 639.8,470.1 640.8,468.1 641.7,466.0 642.6,464.1 643.4,462.1 644.3,460.2 645.1,458.3 645.9,456.5 646.7,454.7 647.5,453.0 648.2,451.3 649.0,449.7 649.7,448.1 650.4,446.6 651.1,445.2 651.8,443.8 652.4,442.5 653.1,441.3 653.7,440.1 654.3,439.1 654.9,438.1 655.5,437.1 656.1,436.3 656.7,435.5 657.2,434.8 657.8,434.2 658.3,433.7 658.8,433.3 659.3,432.9 659.8,432.7 660.3,432.5 660.8,432.4 661.2,432.4 661.7,432.5 662.1,432.7 662.6,433.0 663.0,433.3 663.4,433.8 663.7,434.3 664.1,434.9 664.5,435.6 664.8,436.4 665.1,437.3 665.4,438.3 665.7,439.3 666.0,440.4 666.3,441.6 666.5,442.9 666.7,444.2 666.9,445.7 667.1,447.1 667.3,448.7 667.4,450.3 667.5,452.0 667.6,453.8 667.7,455.6 667.7,457.4 667.7,459.3 667.7,461.3 667.7,463.3 667.6,465.4 667.5,467.5 667.4,469.6 667.3,471.8 667.1,474.0 666.9,476.2 666.7,478.4 666.4,480.7 666.1,483.0 665.8,485.3 665.5,487.6 665.1,489.9 664.7,492.2 664.2,494.6 663.7,496.9 663.2,499.2 662.7,501.5 662.1,503.8 661.5,506.1 660.9,508.3 660.3,510.6 659.6,512.8 658.9,514.9 658.1,517.1 657.4,519.2 656.6,521.3 655.8,523.3 654.9,525.3 654.1,527.2 653.2,529.1 652.3,530.9 651.3,532.7 650.4,534.4 649.4,536.1 648.4,537.7 647.4,539.2 646.3,540.7 645.3,542.1 644.2,543.4 643.1,544.7 642.0,545.8 640.9,546.9 639.8,548.0 638.7,548.9 637.5,549.8 636.4,550.6 635.2,551.3 634.1,552.0 632.9,552.5 631.7,553.0 630.5,553.4 629.3,553.7 628.1,554.0 626.9,554.1 625.7,554.2 624.5,554.2 623.3,554.1 622.1,553.9 620.9,553.6 619.6,553.3 618.4,552.9 617.2,552.4 616.0,551.8 614.8,551.2 613.5,550.5 612.3,549.7 611.1,548.8 609.8,547.9 608.6,546.9 607.4,545.9 606.1,544.7 604.9,543.5 603.7,542.3 602.4,541.0 601.2,539.6 599.9,538.2 598.6,536.7 597.4,535.2 596.1,533.6 594.8,532.0 593.6,530.3 592.3,528.6 591.0,526.9 589.7,525.1 588.4,523.3 587.0,521.5 585.7,519.6 584.4,517.7 583.0,515.8 581.7,513.8 580.3,511.9 578.9,509.9 577.5,507.9 576.1,506.0 574.7,504.0 573.3,502.0 571.9,500.0 570.5,498.0 569.0,496.0 567.6,494.0 566.1,492.0 564.6,490.0 563.1,488.1 561.6,486.1 560.1,484.2 558.6,482.3 557.1,480.4 555.6,478.6 554.1,476.8 552.5,475.0 551.0,473.2 549.5,471.5 547.9,469.9 546.4,468.2 544.8,466.6 543.3,465.1 541.8,463.6 540.2,462.1 538.7,460.7 537.2,459.3 535.7,458.0 534.2,456.7 532.7,455.5 531.2,454.4 529.7,453.3 528.3,452.3 526.8,451.3 525.4,450.4 524.0,449.6 522.6,448.8 521.3,448.1 519.9,447.5 518.6,446.9 517.3,446.4 516.0,445.9 514.7,445.5 513.5,445.2 512.3,445.0 511.1,444.8 509.9,444.7 508.8,444.7 507.6,444.7 506.6,444.8 505.5,445.0 504.5,445.2 503.5,445.5 502.5,445.9 501.5,446.4 500.6,446.9 499.7,447.4 498.9,448.1 498.0,448.8 497.2,449.5 496.4,450.4 495.7,451.3 494.9,452.2 494.2,453.2 493.5,454.3 492.9,455.4 492.2,456.6 491.6,457.8 491.0,459.1 490.4,460.4 489.9,461.7 489.3,463.2 488.8,464.6 488.3,466.1 487.8,467.7 487.4,469.2 486.9,470.8 486.5,472.5 486.0,474.2 485.6,475.9 485.2,477.6 484.8,479.4 484.5,481.1 484.1,482.9 483.7,484.7 483.4,486.6 483.0,488.4 482.7,490.3 482.4,492.1 482.1,494.0 481.8,495.8 481.5,497.7 481.2,499.6 481.0,501.4 480.7,503.3 480.4,505.1 480.2,506.9 480.0,508.7 479.7,510.5 479.5,512.3 479.3,514.0 479.2,515.7 479.0,517.4 478.8,519.1 478.7,520.7 478.6,522.3 478.5,523.9 478.4,525.4 478.3,526.9 478.3,528.4 478.2,529.8 478.2,531.1 478.2,532.4 478.3,533.7 478.3,534.9 478.4,536.0 478.5,537.1 478.7,538.2 478.8,539.2 479.0,540.1 479.2,541.0 479.5,541.8 479.7,542.5 480.1,543.2 480.4,543.8 480.8,544.4 481.2,544.9 481.6,545.3 482.1,545.6 482.6,545.9 483.1,546.1 483.7,546.3 484.2,546.4 484.9,546.4 485.5,546.3 486.2,546.2 487.0,546.0 487.7,545.7 488.5,545.4 489.3,545.0 490.2,544.6 491.0,544.0 492.0,543.4 492.9,542.8 493.8,542.1 494.8,541.3 495.8,540.4 496.9,539.5 497.9,538.5 499.0,537.5 500.1,536.4 501.2,535.3 502.4,534.1 503.5,532.8 504.7,531.5 505.9,530.2 507.1,528.8 508.3,527.3 509.5,525.9 510.8,524.3 512.0,522.8 513.3,521.1 514.5,519.5 515.8,517.8 517.1,516.1 518.4,514.3 519.6,512.6 520.9,510.8 522.2,508.9 523.5,507.1 524.8,505.2 526.1,503.4 527.4,501.5 528.7,499.6 530.0,497.6 531.3,495.7 532.6,493.8 533.8,491.9 535.1,489.9 536.4,488.0 537.7,486.1 539.0,484.2 540.3,482.3 541.5,480.4 542.8,478.5 544.1,476.7 545.4,474.8 546.6,473.0 547.9,471.2 549.2,469.5 550.4,467.8 551.7,466.1 553.0,464.4 554.3,462.8 555.6,461.2 556.8,459.7 558.1,458.2 559.4,456.7 560.7,455.3 562.0,454.0 563.3,452.7 564.6,451.4 565.9,450.2 567.3,449.1 568.6,448.0 569.9,447.0 571.3,446.0 572.6,445.2 574.0,444.3 575.4,443.6 576.8,442.9 578.1,442.3 579.5,441.7 581.0,441.2 582.4,440.8 583.8,440.5 585.2,440.2 586.6,440.1 588.1,439.9 589.5,439.9 591.0,439.9 592.5,440.1 593.9,440.3 595.4,440.5 596.9,440.9 598.3,441.3 599.8,441.8 601.3,442.4 602.8,443.0 604.2,443.7 605.7,444.5 607.2,445.4 608.7,446.4 610.1,447.4 611.6,448.5 613.1,449.6 614.5,450.8 615.9,452.1 617.4,453.5 618.8,454.9 620.2,456.4 621.6,457.9 623.0,459.5 624.3,461.2 625.7,462.9 627.0,464.7 628.3,466.5 629.6,468.3 630.9,470.2 632.1,472.2 633.4,474.2 634.6,476.2 635.8,478.2 637.0,480.3 638.1,482.4 639.2,484.6 640.3,486.8 641.4,488.9 642.4,491.1 643.4,493.4 644.4,495.6 645.4,497.8 646.3,500.1 647.2,502.3 648.1,504.5 649.0,506.8 649.8,509.0 650.6,511.2 651.4,513.4 652.2,515.6 652.9,517.7 653.6,519.8 654.3,521.9 654.9,524.0 655.6,526.0 656.2,528.0 656.7,530.0 657.3,531.9 657.8,533.8 658.3,535.6 658.8,537.3 659.3,539.1 659.8,540.7 660.2,542.3 660.6,543.8 661.0,545.3 661.4,546.7 661.7,548.0 662.1,549.2 662.4,550.4 662.7,551.5 663.0,552.5 663.3,553.5 663.5,554.3 663.8,555.1 664.0,555.8 664.2,556.4 664.5,556.9 664.6,557.4 664.8,557.7 665.0,558.0 665.1,558.2 665.3,558.3 665.4,558.2 665.5,558.2 665.6,558.0 665.7,557.7 665.8,557.3 665.8,556.9 665.9,556.4 665.9,555.7 665.9,555.0 665.9,554.3 665.9,553.4 665.9,552.4 665.9,551.4 665.8,550.3 665.7,549.1 665.6,547.8 665.5,546.5 665.4,545.1 665.2,543.6 665.0,542.1 664.9,540.5 664.6,538.8 664.4,537.1 664.1,535.3 663.9,533.4 663.6,531.5 663.2,529.6 662.9,527.6 662.5,525.6 662.1,523.5 661.6,521.4 661.2,519.3 660.7,517.1 660.2,514.9 659.6,512.7 659.1,510.5 658.5,508.2 657.9,506.0 657.2,503.7 656.5,501.4 655.8,499.2 655.1,496.9 654.3,494.6 653.5,492.3 652.7,490.1 651.8,487.9 650.9,485.6 650.0,483.4 649.1,481.2 648.1,479.1 647.1,477.0 646.1,474.9 645.1,472.8 644.0,470.8 642.9,468.8 641.8,466.9 640.7,465.0 639.5,463.2 638.4,461.4 637.2,459.6 636.0,458.0 634.7,456.3 633.5,454.8 632.2,453.3 630.9,451.9 629.7,450.5 628.4,449.2 627.0,448.0 625.7,446.8 624.4,445.7 623.0,444.7 621.7,443.8 620.3,442.9 619.0,442.1 617.6,441.4 616.2,440.8 614.9,440.2 613.5,439.7 612.1,439.3 610.7,439.0 609.3,438.7 608.0,438.6 606.6,438.5 605.2,438.5 603.8,438.6 602.5,438.7 601.1,438.9 599.7,439.2 598.4,439.6 597.0,440.1 595.7,440.6 594.3,441.2 593.0,441.9 591.6,442.6 590.3,443.4 588.9,444.3 587.6,445.2 586.3,446.2 585.0,447.3 583.6,448.4 582.3,449.6 581.0,450.9 579.7,452.2 578.4,453.6 577.1,455.0 575.8,456.4 574.4,457.9 573.1,459.5 571.8,461.1 570.5,462.7 569.2,464.4 567.9,466.1 566.6,467.9 565.2,469.6 563.9,471.5 562.6,473.3 561.3,475.1 559.9,477.0 558.6,478.9 557.2,480.8 555.9,482.8 554.5,484.7 553.2,486.7 551.8,488.6 550.4,490.6 549.1,492.5 547.7,494.5 546.3,496.4 544.9,498.4 543.5,500.3 542.1,502.3 540.7,504.2 539.3,506.1 537.9,508.0 536.5,509.8 535.1,511.6 533.7,513.5 532.2,515.2 530.8,517.0 529.4,518.7 528.0,520.4 526.6,522.0 525.2,523.6 523.8,525.2 522.4,526.7 521.1,528.2 519.7,529.6 518.3,531.0 517.0,532.4 515.7,533.6 514.3,534.9 513.0,536.0 511.7,537.2 510.5,538.2 509.2,539.2 508.0,540.2 506.8,541.1 505.6,541.9 504.4,542.6 503.3,543.3 502.1,544.0 501.0,544.5 500.0,545.0 498.9,545.4 497.9,545.8 496.9,546.1 496.0,546.3 495.0,546.5 494.1,546.6 493.2,546.6 492.4,546.5 491.6,546.4 490.8,546.2 490.1,546.0 489.4,545.7 488.7,545.3 488.0,544.8 487.4,544.3 486.8,543.7 486.2,543.1 485.7,542.3 485.2,541.6 484.7,540.7 484.2,539.8 483.8,538.9 483.4,537.9 483.0,536.8 482.7,535.7 482.4,534.5 482.1,533.3 481.8,532.0 481.5,530.6 481.3,529.3 481.1,527.8 480.9,526.4 480.7,524.9 480.5,523.3 480.4,521.7 480.3,520.1 480.2,518.5 480.1,516.8 480.0,515.1 479.9,513.3 479.8,511.6 479.8,509.8 479.8,508.0 479.7,506.2 479.7,504.4 479.7,502.5 479.7,500.7 479.7,498.8 479.8,497.0 479.8,495.1 479.9,493.2 479.9,491.4 480.0,489.5 480.1,487.7 480.1,485.9 480.2,484.0 480.3,482.2 480.5,480.4 480.6,478.7 480.7,476.9 480.9,475.2 481.1,473.5 481.3,471.9 481.5,470.3 481.7,468.7 481.9,467.1 482.2,465.6 482.4,464.1 482.7,462.7 483.0,461.3 483.4,460.0 483.7,458.7 484.1,457.4 484.5,456.2 484.9,455.1 485.3,454.0 485.8,453.0 486.3,452.0 486.8,451.1 487.4,450.3 488.0,449.5 488.6,448.8 489.2,448.1 489.9,447.5 490.6,447.0 491.3,446.5 492.1,446.1 492.8,445.8 493.7,445.5 494.5,445.3 495.4,445.2 496.3,445.1 497.2,445.1 498.2,445.2 499.2,445.3 500.2,445.5 501.3,445.8 502.3,446.1 503.5,446.6 504.6,447.0 505.7,447.6 506.9,448.2 508.1,448.9 509.4,449.6 510.6,450.4 511.9,451.3 513.2,452.2 514.5,453.2 515.8,454.3 517.2,455.4 518.5,456.5 519.9,457.8 521.3,459.0 522.7,460.4 524.1,461.7 525.5,463.2 527.0,464.6 528.4,466.1 529.8,467.7 531.3,469.3 532.7,470.9 534.2,472.6 535.6,474.3 537.1,476.1 538.5,477.9 540.0,479.7 541.5,481.5 542.9,483.3 544.4,485.2 545.8,487.1 547.2,489.0 548.7,491.0 550.1,492.9 551.5,494.8 552.9,496.8 554.3,498.8 555.7,500.7 557.1,502.7 558.5,504.6 559.9,506.6 561.3,508.5 562.7,510.5 564.0,512.4 565.4,514.3 566.7,516.2 568.1,518.0 569.4,519.9 570.8,521.7 572.1,523.5 573.4,525.2 574.7,526.9 576.1,528.6 577.4,530.3 578.7,531.9 580.0,533.4 581.3,535.0 582.6,536.4 583.9,537.8 585.2,539.2 586.5,540.5 587.8,541.8 589.1,543.0 590.4,544.1 591.8,545.2 593.1,546.2 594.4,547.1 595.7,548.0 597.0,548.8 598.3,549.6 599.7,550.2 601.0,550.8 602.3,551.4 603.6,551.8 605.0,552.2 606.3,552.5 607.6,552.7 609.0,552.9 610.3,552.9 611.7,552.9 613.0,552.8 614.3,552.6 615.7,552.4 617.0,552.1 618.3,551.6 619.7,551.2 621.0,550.6 622.3,549.9 623.7,549.2 625.0,548.4 626.3,547.5 627.6,546.6 628.9,545.5 630.1,544.4 631.4,543.2 632.7,542.0 633.9,540.7 635.1,539.3 636.4,537.8 637.6,536.3 638.8,534.7 639.9,533.1 641.1,531.4 642.2,529.6 643.3,527.8 644.4,526.0 645.5,524.1 646.5,522.1 647.5,520.1 648.5,518.1 649.5,516.0 650.5,513.9 651.4,511.7 652.3,509.5 653.1,507.3 654.0,505.1 654.8,502.8 655.6,500.6 656.3,498.3 657.1,496.0 657.8,493.7 658.4,491.4 659.1,489.1 659.7,486.8 660.3,484.5 660.8,482.3 661.3,480.0 661.8,477.7 662.3,475.5 662.7,473.3 663.2,471.1 663.5,469.0 663.9,466.8 664.2,464.8 664.5,462.7 664.8,460.7 665.1,458.8 665.3,456.9 665.5,455.0 665.7,453.2 665.8,451.5 666.0,449.8 666.1,448.2 666.2,446.6 666.2,445.1 666.3,443.7 666.3,442.4 666.3,441.1 666.3,439.9 666.3,438.8 666.3,437.8 666.2,436.8 666.1,435.9 666.0,435.1 665.9,434.4 665.8,433.8 665.7,433.3 665.5,432.8 665.4,432.5 665.2,432.2 665.0,432.0 664.8,431.9 664.6,431.9 664.4,432.0 664.2,432.2 663.9,432.5 663.6,432.8 663.4,433.3 663.1,433.8 662.8,434.4 662.5,435.1 662.1,435.9 661.8,436.7 661.4,437.7 661.0,438.7 660.7,439.8 660.3,441.0 659.8,442.2 659.4,443.6 658.9,445.0 658.5,446.4 658.0,447.9 657.5,449.5 656.9,451.2 656.4,452.9 655.8,454.6 655.2,456.5 654.6,458.3 654.0,460.2 653.4,462.2 652.7,464.2 652.0,466.2 651.3,468.3 650.5,470.4 649.7,472.5 648.9,474.7 648.1,476.8 647.3,479.0 646.4,481.2 645.5,483.5 644.6,485.7 643.7,487.9 642.7,490.2 641.7,492.4 640.7,494.7 639.6,496.9 638.5,499.1 637.4,501.3 636.3,503.5 635.2,505.7 634.0,507.8 632.8,509.9 631.6,512.0 630.4,514.1 629.1,516.1 627.8,518.1 626.5,520.0 625.2,522.0 623.9,523.8 622.5,525.6 621.1,527.4 619.7,529.1 618.3,530.8 616.9,532.4 615.5,534.0 614.0,535.4 612.6,536.9 611.1,538.3 609.7,539.6 608.2,540.8 606.7,542.0 605.2,543.1 603.7,544.1 602.2,545.1 600.7,546.0 599.2,546.8 597.7,547.5 596.2,548.2 594.7,548.8 593.2,549.3 591.7,549.8 590.2,550.1 588.7,550.4 587.2,550.6 585.8,550.8 584.3,550.9 582.8,550.8 581.4,550.8 579.9,550.6 578.5,550.4 577.1,550.1 575.6,549.7 574.2,549.2 572.8,548.7 571.4,548.1 570.1,547.5 568.7,546.8 567.3,546.0 566.0,545.1 564.6,544.2 563.3,543.2 562.0,542.2 560.6,541.0 559.3,539.9 558.0,538.7 556.7,537.4 555.4,536.1 554.2,534.7 552.9,533.3 551.6,531.8 550.3,530.3 549.1,528.7 547.8,527.1 546.6,525.5 545.3,523.8 544.0,522.1 542.8,520.4 541.5,518.7 540.3,516.9 539.0,515.1 537.8,513.2 536.5,511.4 535.3,509.5 534.0,507.6 532.8,505.7 531.5,503.8 530.3,501.9 529.0,500.0 527.8,498.1 526.5,496.2 525.3,494.3 524.0,492.4 522.7,490.5 521.5,488.6 520.2,486.7 519.0,484.9 517.7,483.0 516.5,481.2 515.2,479.4 514.0,477.7 512.8,475.9 511.5,474.2 510.3,472.5 509.1,470.9 507.9,469.3 506.7,467.7 505.5,466.2 504.3,464.7 503.1,463.2 502.0,461.8 500.9,460.5 499.7,459.2 498.6,457.9 497.5,456.7 496.5,455.6 495.4,454.5 494.4,453.4 493.4,452.5 492.4,451.5 491.5,450.7 490.6,449.9 489.7,449.2 488.8,448.5 488.0,447.9 487.2,447.4 486.4,446.9 485.6,446.5 484.9,446.1 484.2,445.9 483.6,445.7 482.9,445.5 482.4,445.5 481.8,445.5 481.3,445.5 480.8,445.7 480.3,445.9 479.9,446.2 479.5,446.5 479.2,446.9 478.8,447.4 478.6,447.9 478.3,448.5 478.1,449.2 477.9,449.9 477.7,450.7 477.6,451.6 477.5,452.5 477.4,453.5 477.4,454.5 477.3,455.6 477.4,456.8 477.4,458.0 477.4,459.2 477.5,460.5 477.6,461.9 477.7,463.2 477.9,464.7 478.1,466.2 478.2,467.7 478.4,469.2 478.7,470.8 478.9,472.5 479.1,474.1 479.4,475.8 479.7,477.5 480.0,479.3 480.3,481.1 480.6,482.8 480.9,484.6 481.2,486.5 481.6,488.3 481.9,490.1 482.3,492.0 482.7,493.9 483.1,495.7 483.5,497.6 483.9,499.4 484.3,501.3 484.7,503.2 485.1,505.0 485.6,506.8 486.0,508.6 486.5,510.4 486.9,512.2 487.4,514.0 487.9,515.7 488.4,517.4 488.9,519.1 489.4,520.8 490.0,522.4 490.5,524.0 491.1,525.5 491.7,527.0 492.3,528.5 492.9,529.9 493.5,531.3 494.2,532.6 494.9,533.9 495.6,535.1 496.3,536.3 497.0,537.4 497.8,538.5 498.6,539.5 499.4,540.5 500.2,541.4 501.0,542.2 501.9,543.0 502.8,543.7 503.7,544.3 504.7,544.9 505.7,545.5 506.7,545.9 507.7,546.3 508.8,546.6 509.9,546.9 511.0,547.0 512.1,547.2 513.3,547.2 514.4,547.2 515.7,547.1 516.9,546.9 518.2,546.7 519.4,546.4 520.7,546.0 522.1,545.6 523.4,545.1 524.8,544.5 526.2,543.9 527.6,543.1 529.0,542.4 530.4,541.5 531.9,540.6 533.4,539.7 534.9,538.6 536.3,537.6 537.9,536.4 539.4,535.2 540.9,534.0 542.4,532.6 544.0,531.3 545.5,529.9 547.1,528.4 548.6,526.9 550.2,525.3 551.7,523.7 553.3,522.1 554.8,520.4 556.4,518.6 557.9,516.9 559.4,515.1 561.0,513.2 562.5,511.4 564.0,509.5 565.5,507.6 567.0,505.6 568.5,503.7 570.0,501.7 571.5,499.7 573.0,497.7 574.4,495.7 575.9,493.7 577.3,491.6 578.7,489.6 580.1,487.6 581.5,485.5 582.9,483.5 584.3,481.5 585.7,479.5 587.0,477.5 588.4,475.6 589.7,473.6 591.0,471.7 592.3,469.8 593.6,467.9 594.9,466.1 596.2,464.3 597.5,462.5 598.8,460.7 600.0,459.0 601.3,457.4 602.5,455.8 603.8,454.2 605.0,452.7 606.2,451.3 607.4,449.9 608.7,448.5 609.9,447.2 611.1,446.0 612.3,444.8 613.5,443.7 614.7,442.7 615.9,441.7 617.1,440.9 618.3,440.0 619.4,439.3 620.6,438.6 621.8,438.0 623.0,437.5 624.2,437.1 625.3,436.7 626.5,436.4 627.7,436.2 628.8,436.1 630.0,436.1 631.2,436.1 632.3,436.2 633.5,436.4 634.6,436.7 635.7,437.1 636.9,437.6 638.0,438.1 639.1,438.7 640.2,439.4 641.3,440.2 642.4,441.1 643.4,442.0 644.5,443.1 645.5,444.2 646.6,445.3 647.6,446.6 648.6,447.9 649.6,449.3 650.5,450.7 651.5,452.3 652.4,453.9 653.3,455.5 654.2,457.2 655.1,459.0 655.9,460.8 656.7,462.7 657.5,464.6 658.3,466.6 659.1,468.6 659.8,470.7 660.5,472.8 661.1,474.9 661.8,477.1 662.4,479.3 663.0,481.5 663.5,483.8 664.0,486.1 664.5,488.4 665.0,490.7 665.4,493.0 665.8,495.3 666.2,497.6 666.5,499.9 666.8,502.3 667.1,504.6 667.3,506.9 667.5,509.2 667.7,511.4 667.8,513.7 668.0,515.9 668.1,518.1 668.1,520.3 668.2,522.4 668.2,524.5 668.1,526.6 668.1,528.6 668.0,530.5 667.9,532.4 667.8,534.3 667.6,536.1 667.5,537.9 667.3,539.5 667.0,541.2 666.8,542.7 666.5,544.2 666.3,545.6 665.9,547.0 665.6,548.3 665.3,549.5 664.9,550.6 664.6,551.6 664.2,552.6 663.8,553.5 663.3,554.3 662.9,555.0 662.4,555.6 662.0,556.1 661.5,556.6 661.0,557.0 660.5,557.2 660.0,557.4 659.5,557.5 658.9,557.6 658.4,557.5 657.8,557.3 657.2,557.1 656.6,556.8 656.0,556.3 655.4,555.8 654.8,555.3 654.2,554.6 653.6,553.8 652.9,553.0 652.2,552.1 651.6,551.1 650.9,550.0 650.2,548.9 649.5,547.7 648.7,546.4 648.0,545.1 647.2,543.7 646.5,542.2 645.7,540.7 644.9,539.1 644.0,537.4 643.2,535.7 642.4,534.0 641.5,532.2 640.6,530.3 639.7,528.5 638.8,526.5 637.8,524.6 636.8,522.6 635.9,520.6 634.8,518.5 633.8,516.4 632.8,514.3 631.7,512.2 630.6,510.1 629.5,507.9 628.3,505.8 627.2,503.6 626.0,501.5 624.8,499.3 623.6,497.2 622.3,495.0 621.1,492.9 619.8,490.7 618.5,488.6 617.1,486.5 615.8,484.4 614.4,482.4 613.0,480.4 611.6,478.4 610.2,476.4 608.7,474.5 607.3,472.6 605.8,470.7 604.3,468.9 602.8,467.1 601.3,465.4 599.8,463.7 598.2,462.1 596.7,460.6 595.1,459.0 593.6,457.6 592.0,456.2 590.4,454.8 588.8,453.5 587.3,452.3 585.7,451.2 584.1,450.1 582.5,449.0 580.9,448.1 579.3,447.2 577.8,446.4 576.2,445.6 574.6,444.9 573.1,444.3 571.5,443.8 570.0,443.3 568.4,442.9 566.9,442.6 565.4,442.3 563.9,442.2 562.4,442.0 560.9,442.0 559.5,442.1 558.0,442.2 556.6,442.4 555.1,442.6 553.7,442.9 552.3,443.3 551.0,443.8 549.6,444.3 548.3,444.9 546.9,445.6 545.6,446.3 544.3,447.1 543.0,448.0 541.8,448.9 540.5,449.9 539.3,450.9 538.0,452.0 536.8,453.2 535.6,454.4 534.4,455.7 533.2,457.0 532.1,458.3 530.9,459.8 529.8,461.2 528.6,462.7 527.5,464.2 526.4,465.8 525.3,467.4 524.2,469.1 523.1,470.8 522.0,472.5 520.9,474.2 519.8,476.0 518.7,477.8 517.7,479.6 516.6,481.4 515.5,483.2 514.5,485.1 513.4,487.0 512.4,488.9 511.3,490.7 510.3,492.6 509.2,494.5 508.2,496.4 507.1,498.3 506.1,500.2 505.1,502.0 504.1,503.9 503.0,505.8 502.0,507.6 501.0,509.4 500.0,511.2 499.0,513.0 498.0,514.7 497.1,516.4 496.1,518.1 495.1,519.8 494.2,521.4 493.3,523.0 492.3,524.6 491.4,526.1 490.6,527.5 489.7,529.0 488.8,530.4 488.0,531.7 487.2,533.0 486.4,534.2 485.6,535.4 484.8,536.5 484.1,537.6 483.4,538.6 482.7,539.5 482.1,540.4 481.4,541.3 480.8,542.0 480.3,542.8 479.7,543.4 479.2,544.0 478.8,544.5 478.3,544.9 477.9,545.3 477.5,545.6 477.2,545.9 476.9,546.1 476.6,546.2 476.4,546.2 476.2,546.2 476.0,546.1 475.9,545.9 475.8,545.7 475.7,545.4 475.7,545.0 475.7,544.6 475.7,544.1 475.8,543.5 475.9,542.9 476.0,542.2 476.2,541.5 476.4,540.6 476.6,539.8 476.8,538.8 477.1,537.8 477.4,536.8 477.7,535.7 478.1,534.5 478.5,533.3 478.9,532.0 479.3,530.7 479.8,529.3 480.2,527.9 480.7,526.5 481.2,525.0 481.7,523.4 482.3,521.8 482.8,520.2 483.4,518.6 484.0,516.9 484.6,515.2 485.2,513.5 485.8,511.7 486.4,509.9 487.1,508.1 487.7,506.3 488.4,504.5 489.0,502.6 489.7,500.8 490.4,498.9 491.1,497.1 491.8,495.2 492.5,493.3 493.2,491.4 493.9,489.6 494.6,487.7 495.4,485.9 496.1,484.0 496.9,482.2 497.6,480.4 498.4,478.6 499.1,476.9 499.9,475.1 500.7,473.4 501.5,471.7 502.3,470.1 503.2,468.5 504.0,466.9 504.8,465.3 505.7,463.8 506.6,462.3 507.5,460.9 508.4,459.5 509.3,458.2 510.2,456.9 511.2,455.7 512.2,454.5 513.1,453.4 514.2,452.3 515.2,451.3 516.2,450.3 517.3,449.4 518.4,448.6 519.5,447.8 520.6,447.1 521.8,446.4 523.0,445.9 524.2,445.3 525.4,444.9 526.6,444.5 527.9,444.2 529.2,443.9 530.5,443.8 531.8,443.7 533.2,443.6 534.5,443.7 535.9,443.8 537.3,443.9 538.8,444.2 540.2,444.5 541.7,444.9 543.1,445.3 544.6,445.8 546.1,446.4 547.7,447.1 549.2,447.8 550.8,448.6 552.3,449.5 553.9,450.4 555.5,451.4 557.1,452.4 558.6,453.6 560.2,454.7 561.8,456.0 563.4,457.3 565.1,458.6 566.7,460.0 568.3,461.5 569.9,463.0 571.5,464.5 573.1,466.1 574.7,467.8 576.2,469.5 577.8,471.2 579.4,473.0 581.0,474.8 582.5,476.6 584.1,478.5 585.6,480.4 587.1,482.4 588.6,484.4 590.1,486.3 591.6,488.3 593.0,490.4 594.5,492.4 595.9,494.5 597.3,496.5 598.7,498.6 600.1,500.7 601.5,502.8 602.8,504.8 604.2,506.9 605.5,509.0 606.8,511.0 608.1,513.1 609.3,515.1 610.6,517.1 611.8,519.1 613.1,521.1 614.3,523.0 615.5,524.9 616.6,526.8 617.8,528.6 618.9,530.4 620.1,532.2 621.2,533.9 622.3,535.5 623.4,537.2 624.5,538.7 625.6,540.2 626.7,541.7 627.7,543.1 628.8,544.4 629.8,545.7 630.8,546.9 631.8,548.1 632.9,549.1 633.9,550.1 634.9,551.1 635.9,551.9 636.8,552.7 637.8,553.4 638.8,554.0 639.7,554.6 640.7,555.0 641.6,555.4 642.6,555.7 643.5,555.9 644.4,556.1 645.4,556.1 646.3,556.1 647.2,556.0 648.1,555.8 648.9,555.5 649.8,555.1 650.7,554.6 651.5,554.1 652.4,553.4 653.2,552.7 654.0,551.9 654.8,551.0 655.6,550.1 656.4,549.0 657.1,547.9 657.9,546.7 658.6,545.5 659.3,544.1 660.0,542.7 660.7,541.2 661.3,539.7 662.0,538.0 662.6,536.4 663.1,534.6 663.7,532.8 664.2,531.0 664.8,529.1 665.2,527.1 665.7,525.1 666.1,523.0 666.5,520.9 666.9,518.8 667.3,516.6 667.6,514.4 667.9,512.2 668.1,510.0 668.4,507.7 668.6,505.4 668.7,503.1 668.9,500.7 669.0,498.4 669.0,496.1 669.1,493.7 669.1,491.4 669.1,489.1 669.0,486.7 668.9,484.4 668.8,482.1 668.7,479.8 668.5,477.6 668.3,475.4 668.0,473.2 667.8,471.0 667.5,468.9 667.2,466.8 666.8,464.7 666.4,462.7 666.0,460.8 665.6,458.8 665.1,457.0 664.6,455.2 664.1,453.5 663.6,451.8 663.1,450.2 662.5,448.6 661.9,447.1 661.3,445.7 660.7,444.4 660.0,443.1 659.3,441.9 658.7,440.8 658.0,439.8 657.3,438.8 656.5,438.0 655.8,437.2 655.0,436.5 654.3,435.9 653.5,435.3 652.7,434.9 651.9,434.5 651.1,434.2 650.2,434.0 649.4,433.9 648.6,433.9 647.7,434.0 646.9,434.1 646.0,434.4 645.1,434.7 644.2,435.1 643.3,435.6 642.4,436.2 641.5,436.8 640.6,437.5 639.7,438.3 638.8,439.2 637.8,440.2 636.9,441.2 635.9,442.3 635.0,443.5 634.0,444.7 633.0,446.0 632.0,447.4 631.0,448.8 630.0,450.3 628.9,451.9 627.9,453.5 626.8,455.1 625.8,456.8 624.7,458.6 623.6,460.4 622.5,462.2 621.4,464.1 620.2,466.0 619.1,467.9 617.9,469.9 616.7,471.9 615.5,473.9 614.3,476.0 613.1,478.0 611.8,480.1 610.5,482.2 609.2,484.3 607.9,486.4 606.6,488.5 605.3,490.6 603.9,492.7 602.5,494.8 601.2,496.9 599.7,499.0 598.3,501.1 596.9,503.1 595.4,505.2 594.0,507.2 592.5,509.2 591.0,511.1 589.5,513.1 587.9,515.0 586.4,516.9 584.8,518.7 583.3,520.5 581.7,522.2 580.1,524.0 578.6,525.6 577.0,527.2 575.4,528.8 573.8,530.3 572.2,531.8 570.6,533.2 569.0,534.6 567.4,535.9 565.8,537.1 564.2,538.3 562.6,539.4 561.0,540.5 559.4,541.5 557.8,542.4 556.3,543.3 554.7,544.1 553.1,544.8 551.6,545.5 550.1,546.0 548.6,546.6 547.1,547.0 545.6,547.4 544.1,547.7 542.7,547.9 541.3,548.1 539.8,548.2 538.4,548.2 537.1,548.2 535.7,548.1 534.4,547.9 533.1,547.6 531.8,547.3 530.5,546.9 529.2,546.5 528.0,545.9 526.8,545.3 525.6,544.7 524.4,544.0 523.2,543.2 522.1,542.3 521.0,541.4 519.9,540.5 518.8,539.4 517.7,538.3 516.7,537.2 515.7,536.0 514.7,534.8 513.7,533.5 512.7,532.1 511.7,530.7 510.8,529.3 509.8,527.8 508.9,526.3 508.0,524.7 507.1,523.2 506.2,521.5 505.3,519.9 504.4,518.2 503.6,516.5 502.7,514.7 501.9,512.9 501.0,511.1 500.2,509.3 499.4,507.5 498.6,505.7 497.7,503.8 496.9,502.0 496.1,500.1 495.3,498.2 494.6,496.4 493.8,494.5 493.0,492.6 492.2,490.7 491.5,488.9 490.7,487.1 490.0,485.2 489.3,483.4 488.5,481.6 487.8,479.8 487.1,478.1 486.4,476.3 485.7,474.6 485.1,473.0 484.4,471.3 483.8,469.7 483.1,468.2 482.5,466.6 481.9,465.1 481.3,463.7 480.8,462.3 480.2,460.9 479.7,459.6 479.2,458.3 478.8,457.1 478.3,456.0 477.9,454.9 477.5,453.8 477.1,452.8 476.8,451.9 476.5,451.0 476.2,450.2 476.0,449.5 475.7,448.8 475.6,448.2 475.4,447.6 475.3,447.1 475.2,446.7 475.2,446.4 475.1,446.1 475.2,445.8 475.2,445.7 475.3,445.6 475.4,445.6 475.6,445.6 475.8,445.8 476.0,446.0 476.3,446.2 476.6,446.5 476.9,446.9 477.3,447.4 477.7,447.9 478.1,448.5 478.5,449.2 479.0,449.9 479.6,450.7 480.1,451.5 480.7,452.4 481.3,453.4 481.9,454.4 482.6,455.5 483.3,456.6 484.0,457.8 484.7,459.0 485.5,460.3 486.2,461.7 487.0,463.0 487.8,464.5 488.7,465.9 489.5,467.5 490.4,469.0 491.2,470.6 492.1,472.2 493.0,473.9 493.9,475.6 494.8,477.3 495.8,479.1 496.7,480.8 497.6,482.6 498.6,484.4 499.6,486.3 500.5,488.1 501.5,490.0 502.5,491.8 503.4,493.7 504.4,495.6 505.4,497.5 506.4,499.4 507.4,501.2 508.4,503.1 509.4,505.0 510.4,506.8 511.4,508.7 512.4,510.5 513.5,512.3 514.5,514.1 515.5,515.9 516.6,517.7 517.6,519.4 518.6,521.1 519.7,522.7 520.8,524.4 521.8,526.0 522.9,527.5 524.0,529.0 525.1,530.5 526.2,531.9 527.4,533.3 528.5,534.7 529.6,536.0 530.8,537.2 532.0,538.4 533.1,539.5 534.3,540.6 535.6,541.6 536.8,542.6 538.0,543.5 539.3,544.3 540.6,545.1 541.9,545.8 543.2,546.4 544.5,547.0 545.8,547.5 547.2,547.9 548.6,548.3 550.0,548.6 551.4,548.8 552.8,549.0 554.2,549.1 555.7,549.1 557.2,549.0 558.6,548.9 560.1,548.7 561.6,548.4 563.2,548.1 564.7,547.7 566.2,547.2 567.8,546.6 569.3,546.0 570.9,545.3 572.5,544.5 574.1,543.7 575.6,542.7 577.2,541.8 578.8,540.7 580.4,539.6 582.0,538.4 583.6,537.2 585.2,535.9 586.8,534.5 588.3,533.1 589.9,531.6 591.5,530.1 593.1,528.5 594.6,526.9 596.2,525.2 597.7,523.5 599.2,521.7 600.7,519.9 602.2,518.0 603.7,516.1 605.2,514.2 606.6,512.2 608.1,510.2 609.5,508.2 610.9,506.1 612.3,504.0 613.6,502.0 615.0,499.8 616.3,497.7 617.6,495.6 618.9,493.4 620.1,491.3 621.4,489.1 622.6,486.9 623.8,484.8 625.0,482.6 626.1,480.5 627.3,478.3 628.4,476.2 629.5,474.1 630.6,472.1 631.6,470.0 632.7,468.0 633.7,466.0 634.7,464.0 635.7,462.1 636.6,460.2 637.6,458.4 638.5,456.6 639.4,454.8 640.3,453.1 641.2,451.5 642.1,449.9 642.9,448.4 643.7,446.9 644.6,445.5 645.4,444.1 646.2,442.9 646.9,441.6 647.7,440.5 648.5,439.4 649.2,438.4 650.0,437.5 650.7,436.7 651.4,435.9 652.1,435.3 652.8,434.7 653.5,434.2 654.2,433.8 654.8,433.4 655.5,433.2 656.1,433.0 656.7,432.9 657.4,432.9 658.0,433.0 658.6,433.2 659.1,433.5 659.7,433.9 660.3,434.3 660.8,434.8 661.4,435.5 661.9,436.2 662.4,437.0 662.9,437.8 663.4,438.8 663.8,439.8 664.3,440.9 664.7,442.1 665.1,443.4 665.5,444.7 665.8,446.2 666.2,447.6 666.5,449.2 666.8,450.8 667.1,452.5 667.4,454.3 667.6,456.1 667.8,457.9 668.0,459.8 668.1,461.8 668.3,463.8 668.4,465.9 668.4,468.0 668.5,470.1 668.5,472.3 668.5,474.5 668.5,476.7 668.4,479.0 668.3,481.2 668.2,483.5 668.0,485.8 667.8,488.2 667.6,490.5 667.3,492.8 667.1,495.2 666.7,497.5 666.4,499.8 666.0,502.1 665.6,504.4 665.2,506.7 664.7,509.0 664.2,511.2 663.7,513.5 663.1,515.6 662.5,517.8 661.9,519.9 661.3,522.0 660.6,524.0 659.9,526.0 659.2,528.0 658.4,529.9 657.7,531.7 656.9,533.5 656.1,535.2 655.2,536.9 654.4,538.5 653.5,540.1 652.6,541.5 651.7,542.9 650.8,544.3 649.8,545.5 648.9,546.7 647.9,547.8 646.9,548.9 645.9,549.8 644.9,550.7 643.8,551.5 642.8,552.2 641.8,552.9 640.7,553.4 639.6,553.9 638.6,554.3 637.5,554.6 636.4,554.8 635.3,554.9 634.2,555.0 633.1,555.0 632.0,554.9 630.9,554.7 629.8,554.4 628.6,554.0 627.5,553.6 626.4,553.1 625.3,552.5 624.1,551.8 623.0,551.1 621.8,550.3 620.7,549.4 619.5,548.4 618.4,547.4 617.2,546.3 616.1,545.1 614.9,543.9 613.7,542.6 612.5,541.3 611.3,539.9 610.1,538.4 608.9,536.9 607.7,535.3 606.5,533.7 605.3,532.1 604.0,530.4 602.8,528.6 601.5,526.8 600.3,525.0 599.0,523.2 597.7,521.3 596.4,519.4 595.1,517.5 593.8,515.5 592.4,513.5 591.1,511.6 589.7,509.6 588.3,507.5 587.0,505.5 585.6,503.5 584.2,501.5 582.7,499.4 581.3,497.4 579.8,495.4 578.4,493.4 576.9,491.4 575.4,489.4 573.9,487.4 572.4,485.4 570.9,483.5 569.4,481.6 567.8,479.7 566.3,477.9 564.7,476.0 563.2,474.2 561.6,472.5 560.1,470.7 558.5,469.1 556.9,467.4 555.3,465.8 553.8,464.3 552.2,462.8 550.6,461.3 549.0,459.9 547.5,458.5 545.9,457.2 544.4,456.0 542.8,454.8 541.3,453.7 539.7,452.6 538.2,451.6 536.7,450.6 535.2,449.8 533.7,448.9 532.3,448.2 530.8,447.5 529.4,446.9 528.0,446.3 526.6,445.8 525.2,445.4 523.9,445.1 522.6,444.8 521.2,444.6 520.0,444.4 518.7,444.3 517.5,444.3 516.3,444.4 515.1,444.5 513.9,444.7 512.8,445.0 511.7,445.3 510.6,445.7 509.5,446.2 508.5,446.7 507.5,447.3 506.5,448.0 505.5,448.7 504.6,449.5 503.7,450.4 502.8,451.3 502.0,452.3 501.1,453.3 500.3,454.4 499.5,455.5 498.7,456.7 498.0,458.0 497.2,459.3 496.5,460.6 495.8,462.0 495.1,463.4 494.5,464.9 493.8,466.4 493.2,468.0 492.6,469.6 492.0,471.2 491.4,472.9 490.8,474.6 490.2,476.3 489.7,478.0 489.1,479.8 488.6,481.6 488.1,483.4 487.5,485.2 487.0,487.0 486.5,488.9 486.0,490.7 485.6,492.6 485.1,494.5 484.6,496.3 484.2,498.2 483.7,500.0 483.3,501.9 482.9,503.7 482.5,505.6 482.0,507.4 481.6,509.2 481.3,511.0 480.9,512.7 480.5,514.5 480.2,516.2 479.8,517.9 479.5,519.6 479.2,521.2 478.9,522.8 478.6,524.3 478.4,525.8 478.2,527.3 477.9,528.7 477.7,530.1 477.6,531.5 477.4,532.8 477.3,534.0 477.2,535.2 477.1,536.3 477.0,537.4 477.0,538.4 477.0,539.4 477.0,540.3 477.1,541.2 477.2,541.9 477.3,542.7 477.4,543.3 477.6,543.9 477.8,544.5 478.1,544.9 478.3,545.3 478.6,545.6 479.0,545.9 479.4,546.1 479.8,546.2 480.2,546.3 480.7,546.3 481.2,546.2 481.7,546.1 482.3,545.8 482.9,545.6 483.6,545.2 484.2,544.8 484.9,544.3 485.7,543.8 486.4,543.1 487.2,542.5 488.1,541.7 488.9,540.9 489.8,540.0 490.7,539.1 491.6,538.1 492.6,537.1 493.5,536.0 494.5,534.8 495.5,533.6 496.6,532.4 497.6,531.0 498.7,529.7 499.7,528.3 500.8,526.8 502.0,525.3 503.1,523.8 504.2,522.2 505.3,520.6 506.5,518.9 507.7,517.2 508.8,515.5 510.0,513.8 511.2,512.0 512.4,510.2 513.5,508.4 514.7,506.6 515.9,504.7 517.1,502.8 518.3,500.9 519.5,499.0 520.7,497.1 521.9,495.2 523.1,493.3 524.3,491.4 525.5,489.5 526.7,487.6 527.9,485.7 529.1,483.8 530.3,481.9 531.5,480.1 532.8,478.2 534.0,476.4 535.2,474.6 536.4,472.8 537.6,471.1 538.8,469.4 540.0,467.7 541.3,466.0 542.5,464.4 543.7,462.8 545.0,461.2 546.2,459.7 547.4,458.3 548.7,456.9 550.0,455.5 551.2,454.2 552.5,452.9 553.8,451.7 555.1,450.6 556.4,449.5 557.7,448.4 559.0,447.4 560.4,446.5 561.7,445.7 563.1,444.9 564.5,444.2 565.8,443.5 567.2,442.9 568.6,442.4 570.0,442.0 571.5,441.6 572.9,441.3 574.3,441.1 575.8,440.9 577.3,440.8 578.7,440.8 580.2,440.9 581.7,441.0 583.2,441.2 584.7,441.5 586.2,441.9 587.8,442.3 589.3,442.8 590.8,443.4 592.3,444.1 593.9,444.8 595.4,445.6 596.9,446.5 598.5,447.5 600.0,448.5 601.5,449.6 603.0,450.7 604.5,451.9 606.0,453.2 607.6,454.6 609.0,456.0 610.5,457.5 612.0,459.0 613.5,460.6 614.9,462.2 616.3,463.9 617.8,465.7 619.2,467.5 620.5,469.3 621.9,471.2 623.3,473.1 624.6,475.1 625.9,477.1 627.2,479.1 628.5,481.2 629.7,483.3 630.9,485.4 632.1,487.5 633.3,489.7 634.5,491.8 635.6,494.0 636.7,496.2 637.8,498.4 638.8,500.6 639.9,502.8 640.9,505.1 641.8,507.3 642.8,509.4 643.7,511.6 644.6,513.8 645.5,515.9 646.4,518.1 647.2,520.2 648.0,522.2 648.8,524.3 649.6,526.3 650.3,528.3 651.0,530.2 651.7,532.1 652.4,533.9 653.1,535.7 653.7,537.4 654.3,539.1 654.9,540.8 655.5,542.3 656.1,543.8 656.6,545.3 657.1,546.6 657.7,547.9 658.2,549.2 658.6,550.3 659.1,551.4 659.6,552.4 660.0,553.4 660.4,554.2 660.8,555.0 661.2,555.7 661.6,556.3 662.0,556.8 662.3,557.2 662.7,557.6 663.0,557.8 663.3,558.0 663.6,558.1 663.9,558.1 664.2,558.0 664.5,557.8 664.8,557.5 665.0,557.1 665.2,556.7 665.4,556.2 665.6,555.5 665.8,554.8 666.0,554.0 666.2,553.2 666.3,552.2 666.4,551.2 666.5,550.0 666.6,548.9 666.7,547.6 666.7,546.2 666.8,544.8 666.8,543.3 666.8,541.8 666.7,540.2 666.7,538.5 666.6,536.7 666.5,534.9 666.4,533.1 666.3,531.2 666.1,529.2 665.9,527.2 665.7,525.2 665.4,523.1 665.1,521.0 664.8,518.9 664.5,516.7 664.1,514.5 663.8,512.2 663.3,510.0 662.9,507.7 662.4,505.4 661.9,503.1 661.4,500.9 660.8,498.6 660.2,496.3 659.6,494.0 658.9,491.7 658.2,489.4 657.5,487.1 656.8,484.9 656.0,482.7 655.2,480.5 654.4,478.3 653.5,476.1 652.6,474.0 651.7,471.9 650.8,469.9 649.8,467.9 648.9,466.0 647.9,464.0 646.8,462.2 645.8,460.4 644.7,458.6 643.6,457.0 642.5,455.3 641.4,453.7 640.2,452.2 639.1,450.8 637.9,449.4 636.7,448.1 635.5,446.9 634.3,445.7 633.0,444.6 631.8,443.6 630.6,442.7 629.3,441.8 628.0,441.0 626.8,440.3 625.5,439.7 624.2,439.1 622.9,438.7 621.6,438.3 620.3,438.0 619.0,437.7 617.7,437.6 616.4,437.5 615.1,437.5 613.8,437.6 612.5,437.8 611.2,438.0 609.9,438.4 608.6,438.8 607.3,439.2 606.0,439.8 604.7,440.4 603.4,441.1 602.1,441.9 600.8,442.8 599.5,443.7 598.2,444.6 597.0,445.7 595.7,446.8 594.4,448.0 593.1,449.2 591.8,450.5 590.5,451.8 589.2,453.2 587.9,454.7 586.6,456.2 585.3,457.7 584.0,459.3 582.7,461.0 581.4,462.6 580.1,464.4 578.8,466.1 577.5,467.9 576.1,469.7 574.8,471.6 573.5,473.4 572.1,475.3 570.8,477.2 569.4,479.2 568.0,481.1 566.7,483.1 565.3,485.0 563.9,487.0 562.5,489.0 561.1,491.0 559.7,493.0 558.2,495.0 556.8,496.9 555.4,498.9 553.9,500.9 552.5,502.8 551.0,504.7 549.6,506.7 548.1,508.5 546.6,510.4 545.2,512.3 543.7,514.1 542.2,515.9 540.7,517.6 539.3,519.3 537.8,521.0 536.3,522.7 534.8,524.3 533.4,525.8 531.9,527.4 530.4,528.8 529.0,530.3 527.5,531.6 526.1,533.0 524.7,534.2 523.3,535.5 521.9,536.6 520.5,537.7 519.1,538.8 517.8,539.8 516.4,540.7 515.1,541.5 513.8,542.3 512.5,543.1 511.3,543.8 510.1,544.4 508.9,544.9 507.7,545.4 506.5,545.8 505.4,546.1 504.3,546.4 503.2,546.6 502.1,546.7 501.1,546.8 500.1,546.8 499.1,546.7 498.2,546.6 497.3,546.4 496.4,546.1 495.6,545.7 494.7,545.3 493.9,544.8 493.2,544.3 492.4,543.7 491.7,543.0 491.0,542.3 490.4,541.5 489.8,540.6 489.2,539.7 488.6,538.7 488.0,537.7 487.5,536.6 487.0,535.4 486.5,534.2 486.1,533.0 485.6,531.7 485.2,530.3 484.8,528.9 484.5,527.5 484.1,526.0 483.8,524.5 483.4,522.9 483.1,521.3 482.8,519.7 482.6,518.0 482.3,516.4 482.0,514.6 481.8,512.9 481.6,511.1 481.4,509.3 481.2,507.5 481.0,505.7 480.8,503.9 480.6,502.0 480.5,500.2 480.3,498.3 480.2,496.5 480.0,494.6 479.9,492.7 479.8,490.9 479.7,489.0 479.6,487.2 479.5,485.4 479.4,483.6 479.4,481.8 479.3,480.0 479.3,478.2 479.3,476.5 479.3,474.8 479.3,473.1 479.3,471.5 479.3,469.9 479.4,468.3 479.4,466.7 479.5,465.2 479.6,463.8 479.8,462.4 479.9,461.0 480.1,459.7 480.3,458.4 480.5,457.2 480.7,456.0 481.0,454.9 481.3,453.8 481.6,452.8 481.9,451.9 482.3,451.0 482.7,450.2 483.1,449.4 483.6,448.7 484.1,448.0 484.6,447.5 485.2,447.0 485.7,446.5 486.4,446.1 487.0,445.8 487.7,445.6 488.4,445.4 489.1,445.3 489.9,445.3 490.7,445.3 491.6,445.4 492.4,445.6 493.3,445.8 494.2,446.1 495.2,446.5 496.2,446.9 497.2,447.4 498.2,448.0 499.3,448.6 500.4,449.3 501.5,450.1 502.7,450.9 503.8,451.8 505.0,452.8 506.2,453.8 507.4,454.8 508.7,456.0 510.0,457.1 511.2,458.4 512.5,459.7 513.8,461.0 515.1,462.4 516.5,463.8 517.8,465.3 519.2,466.8 520.5,468.4 521.9,470.0 523.2,471.6 524.6,473.3 526.0,475.0 527.4,476.7 528.8,478.5 530.1,480.3 531.5,482.1 532.9,484.0 534.3,485.8 535.7,487.7 537.1,489.6 538.4,491.5 539.8,493.5 541.2,495.4 542.5,497.3 543.9,499.3 545.3,501.2 546.6,503.2 548.0,505.1 549.3,507.0 550.6,508.9 552.0,510.8 553.3,512.7 554.6,514.6 556.0,516.4 557.3,518.3 558.6,520.1 559.9,521.9 561.2,523.6 562.5,525.3 563.9,527.0 565.2,528.7 566.5,530.3 567.8,531.8 569.1,533.4 570.4,534.8 571.7,536.3 573.0,537.6 574.4,539.0 575.7,540.2 577.0,541.5 578.3,542.6 579.6,543.7 581.0,544.8 582.3,545.7 583.7,546.6 585.0,547.5 586.4,548.3 587.7,549.0 589.1,549.6 590.5,550.2 591.8,550.7 593.2,551.1 594.6,551.4 596.0,551.7 597.4,551.9 598.8,552.0 600.2,552.1 601.6,552.0 603.0,551.9 604.4,551.7 605.8,551.5 607.2,551.1 608.6,550.7 610.1,550.2 611.5,549.6 612.9,549.0 614.3,548.2 615.7,547.4 617.1,546.5 618.5,545.6 619.9,544.5 621.2,543.4 622.6,542.3 624.0,541.0 625.3,539.7 626.6,538.3 628.0,536.9 629.3,535.4 630.6,533.8 631.9,532.2 633.1,530.5 634.4,528.8 635.6,527.0 636.8,525.1 638.0,523.2 639.1,521.3 640.3,519.3 641.4,517.3 642.5,515.2 643.6,513.1 644.6,511.0 645.7,508.8 646.7,506.7 647.6,504.4 648.6,502.2 649.5,500.0 650.4,497.7 651.3,495.5 652.1,493.2 652.9,490.9 653.7,488.6 654.4,486.3 655.2,484.1 655.9,481.8 656.5,479.6 657.2,477.3 657.8,475.1 658.4,472.9 658.9,470.8 659.5,468.6 660.0,466.5 660.5,464.5 660.9,462.5 661.3,460.5 661.7,458.5 662.1,456.6 662.5,454.8 662.8,453.0 663.2,451.3 663.4,449.6 663.7,448.0 664.0,446.5 664.2,445.0 664.4,443.6 664.6,442.2 664.8,441.0 665.0,439.8 665.1,438.7 665.2,437.6 665.4,436.7 665.5,435.8 665.5,435.0 665.6,434.3 665.7,433.7 665.7,433.2 665.7,432.7 665.7,432.4 665.7,432.1 665.7,431.9 665.7,431.8 665.6,431.8 665.6,431.9 665.5,432.1 665.4,432.4 665.3,432.7 665.2,433.1 665.1,433.7 665.0,434.3 664.8,435.0 664.7,435.8 664.5,436.7 664.3,437.6 664.1,438.6 663.8,439.8 663.6,440.9 663.3,442.2 663.1,443.5 662.8,444.9 662.4,446.4 662.1,448.0 661.7,449.6 661.4,451.2 661.0,452.9 660.6,454.7 660.1,456.6 659.7,458.4 659.2,460.4 658.7,462.3 658.1,464.4 657.6,466.4 657.0,468.5 656.4,470.6 655.8,472.8 655.1,475.0 654.4,477.2 653.7,479.4 653.0,481.6 652.2,483.9 651.4,486.1 650.6,488.4 649.7,490.7 648.9,492.9 648.0,495.2 647.0,497.4 646.1,499.7 645.1,501.9 644.1,504.1 643.1,506.3 642.0,508.5 640.9,510.6 639.8,512.8 638.7,514.8 637.5,516.9 636.3,518.9 635.1,520.9 633.9,522.8 632.7,524.7 631.4,526.5 630.1,528.3 628.8,530.0 627.5,531.7 626.2,533.3 624.8,534.9 623.5,536.4 622.1,537.8 620.7,539.2 619.3,540.5 617.9,541.8 616.5,543.0 615.1,544.1 613.7,545.1 612.2,546.0 610.8,546.9 609.4,547.7 607.9,548.5 606.5,549.1 605.0,549.7 603.6,550.2 602.1,550.7 600.7,551.0 599.3,551.3 597.8,551.5 596.4,551.6 595.0,551.7 593.5,551.6 592.1,551.5 590.7,551.3 589.3,551.1 587.9,550.7 586.5,550.3 585.1,549.9 583.7,549.3 582.3,548.7 581.0,548.0 579.6,547.2 578.2,546.4 576.9,545.5 575.5,544.6 574.2,543.5 572.9,542.5 571.5,541.3 570.2,540.1 568.9,538.9 567.6,537.6 566.3,536.2 565.0,534.8 563.7,533.3 562.4,531.8 561.1,530.3 559.8,528.7 558.5,527.1 557.2,525.4 555.9,523.7 554.6,522.0 553.3,520.2 552.0,518.4 550.7,516.6 549.4,514.7 548.0,512.9 546.7,511.0 545.4,509.1 544.1,507.2 542.8,505.3 541.5,503.4 540.2,501.5 538.8,499.5 537.5,497.6 536.2,495.7 534.8,493.7 533.5,491.8 532.1,489.9 530.8,488.0 529.5,486.2 528.1,484.3 526.8,482.4 525.4,480.6 524.1,478.8 522.7,477.1 521.4,475.3 520.1,473.6 518.7,471.9 517.4,470.3 516.1,468.7 514.8,467.1 513.5,465.6 512.2,464.1 510.9,462.7 509.7,461.3 508.4,459.9 507.2,458.6 506.0,457.4 504.8,456.2 503.6,455.1 502.4,454.0 501.2,453.0 500.1,452.0 499.0,451.1 497.9,450.3 496.9,449.5 495.9,448.8 494.8,448.2 493.9,447.6 492.9,447.1 492.0,446.6 491.1,446.2 490.2,445.9 489.4,445.7 488.6,445.5 487.9,445.4 487.1,445.3 486.4,445.4 485.7,445.5 485.1,445.6 484.5,445.9 483.9,446.2 483.4,446.5 482.9,447.0 482.4,447.5 482.0,448.0 481.5,448.6 481.2,449.3 480.8,450.1 480.5,450.9 480.2,451.8 479.9,452.7 479.7,453.7 479.5,454.8 479.3,455.9 479.1,457.0 479.0,458.3 478.9,459.5 478.8,460.8 478.7,462.2 478.7,463.6 478.7,465.1 478.7,466.6 478.7,468.1 478.7,469.7 478.8,471.3 478.8,472.9 478.9,474.6 479.0,476.3 479.1,478.0 479.2,479.8 479.4,481.5 479.5,483.3 479.7,485.1 479.8,487.0 480.0,488.8 480.2,490.6 480.4,492.5 480.6,494.4 480.8,496.2 481.1,498.1 481.3,499.9 481.5,501.8 481.8,503.6 482.1,505.5 482.3,507.3 482.6,509.1 482.9,510.9 483.2,512.7 483.5,514.4 483.9,516.1 484.2,517.8 484.6,519.5 484.9,521.1 485.3,522.7 485.7,524.3 486.2,525.8 486.6,527.3 487.0,528.8 487.5,530.2 488.0,531.5 488.5,532.8 489.0,534.1 489.6,535.3 490.2,536.5 490.8,537.6 491.4,538.6 492.0,539.6 492.7,540.6 493.4,541.4 494.1,542.2 494.9,543.0 495.7,543.7 496.5,544.3 497.3,544.9 498.1,545.3 499.0,545.8 500.0,546.1 500.9,546.4 501.9,546.6 502.9,546.8 503.9,546.9 504.9,546.9 506.0,546.9 507.1,546.7 508.3,546.5 509.4,546.3 510.6,546.0 511.8,545.6 513.1,545.1 514.3,544.6 515.6,544.0 516.9,543.3 518.2,542.6 519.6,541.8 520.9,541.0 522.3,540.0 523.7,539.1 525.1,538.0 526.6,536.9 528.0,535.8 529.4,534.5 530.9,533.3 532.4,532.0 533.9,530.6 535.3,529.2 536.8,527.7 538.3,526.2 539.8,524.6 541.3,523.0 542.8,521.4 544.4,519.7 545.9,517.9 547.4,516.2 548.9,514.4 550.4,512.6 551.9,510.7 553.3,508.8 554.8,506.9 556.3,505.0 557.8,503.1 559.3,501.1 560.7,499.2 562.2,497.2 563.6,495.2 565.0,493.2 566.5,491.2 567.9,489.2 569.3,487.2 570.7,485.2 572.1,483.2 573.5,481.3 574.8,479.3 576.2,477.3 577.6,475.4 578.9,473.5 580.2,471.6 581.6,469.7 582.9,467.9 584.2,466.1 585.5,464.3 586.8,462.6 588.1,460.9 589.4,459.2 590.7,457.6 592.0,456.1 593.3,454.5 594.6,453.1 595.8,451.6 597.1,450.3 598.4,449.0 599.6,447.7 600.9,446.5 602.2,445.4 603.4,444.3 604.7,443.3 606.0,442.4 607.2,441.6 608.5,440.8 609.8,440.0 611.0,439.4 612.3,438.8 613.5,438.3 614.8,437.9 616.1,437.6 617.3,437.3 618.6,437.1 619.9,437.0 621.1,437.0 622.4,437.1 623.6,437.2 624.9,437.4 626.1,437.7 627.4,438.1 628.6,438.6 629.8,439.1 631.1,439.8 632.3,440.5 633.5,441.3 634.7,442.1 635.9,443.1 637.1,444.1 638.3,445.2 639.4,446.3 640.6,447.6 641.7,448.9 642.8,450.3 643.9,451.7 645.0,453.2 646.1,454.8 647.1,456.5 648.1,458.2 649.1,459.9 650.1,461.7 651.1,463.6 652.0,465.5 652.9,467.5 653.8,469.5 654.7,471.5 655.5,473.6 656.3,475.7 657.1,477.9 657.9,480.1 658.6,482.3 659.3,484.5 660.0,486.8 660.6,489.0 661.2,491.3 661.8,493.6 662.4,495.9 662.9,498.2 663.4,500.6 663.8,502.9 664.3,505.2 664.7,507.4 665.0,509.7 665.4,512.0 665.7,514.2 666.0,516.4 666.2,518.6 666.4,520.8 666.6,522.9 666.8,525.0 666.9,527.0 667.1,529.0 667.1,531.0 667.2,532.9 667.3,534.8 667.3,536.6 667.3,538.3 667.2,540.0 667.2,541.6 667.1,543.2 667.0,544.6 666.9,546.1 666.8,547.4 666.6,548.7 666.4,549.9 666.2,551.0 666.0,552.0 665.8,553.0 665.6,553.9 665.3,554.7 665.0,555.4 664.7,556.0 664.4,556.5 664.1,557.0 663.8,557.4 663.5,557.6 663.1,557.8 662.7,557.9 662.4,557.9 662.0,557.9 661.6,557.7 661.2,557.4 660.7,557.1 660.3,556.7 659.8,556.2 659.4,555.6 658.9,554.9 658.4,554.1 657.9,553.3 657.4,552.4 656.9,551.3 656.3,550.3 655.8,549.1 655.2,547.9 654.6,546.6 654.0,545.2 653.4,543.8 652.7,542.3 652.1,540.7 651.4,539.1 650.7,537.5 650.0,535.7 649.3,534.0 648.6,532.1 647.8,530.3 647.0,528.3 646.2,526.4 645.4,524.4 644.5,522.4 643.6,520.3 642.8,518.2 641.8,516.1 640.9,514.0 639.9,511.8 638.9,509.7 637.9,507.5 636.9,505.3 635.8,503.1 634.7,500.9 633.6,498.7 632.5,496.5 631.3,494.4 630.2,492.2 629.0,490.0 627.7,487.9 626.5,485.8 625.2,483.7 623.9,481.6 622.6,479.5 621.3,477.5 619.9,475.5 618.6,473.6 617.2,471.7 615.8,469.8 614.3,467.9 612.9,466.2 611.4,464.4 610.0,462.7 608.5,461.1 607.0,459.5 605.5,458.0 604.0,456.5 602.5,455.1 600.9,453.8 599.4,452.5 597.9,451.3 596.3,450.1 594.8,449.0 593.2,448.0 591.7,447.0 590.1,446.2 588.5,445.3 587.0,444.6 585.5,443.9 583.9,443.3 582.4,442.8 580.8,442.4 579.3,442.0 577.8,441.7 576.3,441.5 574.8,441.3 573.3,441.2 571.8,441.2 570.3,441.3 568.9,441.4 567.4,441.7 566.0,441.9 564.6,442.3 563.2,442.7 561.8,443.2 560.4,443.8 559.0,444.4 557.7,445.1 556.3,445.9 555.0,446.7 553.6,447.6 552.3,448.6 551.0,449.6 549.7,450.7 548.5,451.8 547.2,453.0 545.9,454.3 544.7,455.6 543.4,456.9 542.2,458.3 541.0,459.8 539.8,461.2 538.6,462.8 537.4,464.3 536.2,465.9 535.0,467.6 533.8,469.3 532.6,471.0 531.4,472.7 530.3,474.5 529.1,476.3 527.9,478.1 526.8,479.9 525.6,481.8 524.4,483.6 523.3,485.5 522.1,487.4 521.0,489.3 519.8,491.2 518.7,493.1 517.5,495.0 516.3,496.9 515.2,498.8 514.0,500.7 512.9,502.6 511.8,504.4 510.6,506.3 509.5,508.1 508.4,509.9 507.2,511.7 506.1,513.5 505.0,515.3 503.9,517.0 502.8,518.7 501.7,520.3 500.6,521.9 499.6,523.5 498.5,525.1 497.5,526.6 496.4,528.0 495.4,529.4 494.4,530.8 493.4,532.1 492.5,533.4 491.5,534.6 490.6,535.8 489.7,536.9 488.8,537.9 488.0,538.9 487.2,539.9 486.3,540.8 485.6,541.6 484.8,542.3 484.1,543.0 483.4,543.6 482.8,544.2 482.1,544.7 481.5,545.1 481.0,545.5 480.4,545.8 479.9,546.0 479.5,546.2 479.0,546.2 478.6,546.3 478.3,546.2 477.9,546.1 477.6,545.9 477.4,545.7 477.1,545.3 476.9,545.0 476.8,544.5 476.7,544.0 476.6,543.4 476.5,542.7 476.5,542.0 476.5,541.3 476.5,540.4 476.5,539.5 476.6,538.6 476.7,537.5 476.9,536.5 477.0,535.3 477.2,534.2 477.5,532.9 477.7,531.6 478.0,530.3 478.2,528.9 478.5,527.5 478.9,526.0 479.2,524.5 479.6,523.0 479.9,521.4 480.3,519.8 480.7,518.1 481.1,516.4 481.6,514.7 482.0,513.0 482.5,511.2 482.9,509.4 483.4,507.6 483.9,505.8 484.4,504.0 484.9,502.1 485.4,500.3 486.0,498.4 486.5,496.6 487.0,494.7 487.6,492.8 488.1,491.0 488.7,489.1 489.3,487.3 489.9,485.4 490.5,483.6 491.1,481.8 491.7,480.0 492.3,478.2 492.9,476.5 493.6,474.8 494.2,473.1 494.9,471.4 495.6,469.8 496.3,468.2 497.0,466.6 497.7,465.1 498.4,463.6 499.2,462.1 499.9,460.7 500.7,459.4 501.5,458.1 502.3,456.8 503.2,455.6 504.0,454.4 504.9,453.3 505.8,452.3 506.7,451.3 507.7,450.4 508.6,449.5 509.6,448.7 510.6,448.0 511.7,447.3 512.7,446.7 513.8,446.1 514.9,445.6 516.1,445.2 517.2,444.9 518.4,444.6 519.6,444.4 520.8,444.2 522.1,444.1 523.4,444.1 524.7,444.2 526.0,444.3 527.3,444.5 528.7,444.8 530.1,445.1 531.5,445.5 532.9,446.0 534.4,446.5 535.8,447.2 537.3,447.8 538.8,448.6 540.3,449.4 541.8,450.3 543.4,451.2 544.9,452.2 546.5,453.3 548.0,454.4 549.6,455.6 551.2,456.8 552.7,458.1 554.3,459.5 555.9,460.9 557.5,462.3 559.1,463.8 560.7,465.4 562.3,467.0 563.9,468.6 565.4,470.3 567.0,472.1 568.6,473.8 570.1,475.6 571.7,477.5 573.2,479.3 574.8,481.2 576.3,483.1 577.8,485.1 579.3,487.1 580.8,489.0 582.3,491.0 583.8,493.1 585.2,495.1 586.7,497.1 588.1,499.2 589.5,501.2 590.9,503.3 592.3,505.3 593.7,507.3 595.1,509.4 596.4,511.4 597.7,513.4 599.0,515.4 600.3,517.3 601.6,519.3 602.9,521.2 604.2,523.1 605.4,525.0 606.7,526.8 607.9,528.6 609.1,530.4 610.3,532.1 611.5,533.8 612.7,535.4 613.9,537.0 615.1,538.5 616.2,540.0 617.4,541.4 618.5,542.8 619.7,544.1 620.8,545.3 621.9,546.5 623.0,547.6 624.2,548.7 625.3,549.6 626.4,550.5 627.5,551.4 628.6,552.1 629.6,552.8 630.7,553.4 631.8,553.9 632.9,554.4 633.9,554.8 635.0,555.0 636.1,555.2 637.1,555.4 638.2,555.4 639.2,555.3 640.2,555.2 641.2,555.0 642.3,554.7 643.3,554.3 644.3,553.8 645.3,553.3 646.2,552.7 647.2,551.9 648.2,551.1 649.1,550.3 650.1,549.3 651.0,548.3 651.9,547.1 652.8,546.0 653.6,544.7 654.5,543.3 655.3,541.9 656.2,540.5 657.0,538.9 657.8,537.3 658.5,535.6 659.3,533.9 660.0,532.1 660.7,530.3 661.3,528.4 662.0,526.4 662.6,524.4 663.2,522.4 663.7,520.3 664.3,518.1 664.8,516.0 665.3,513.8 665.7,511.6 666.1,509.3 666.5,507.0 666.9,504.7 667.2,502.4 667.5,500.1 667.8,497.8 668.0,495.5 668.2,493.1 668.4,490.8 668.5,488.4 668.7,486.1 668.7,483.8 668.8,481.5 668.8,479.2 668.8,477.0 668.7,474.8 668.7,472.5 668.6,470.4 668.4,468.2 668.3,466.1 668.1,464.1 667.9,462.1 667.6,460.1 667.4,458.2 667.1,456.3 666.8,454.5 666.4,452.8 666.1,451.1 665.7,449.5 665.3,447.9 664.8,446.5 664.4,445.0 663.9,443.7 663.4,442.4 662.9,441.2 662.4,440.1 661.9,439.1 661.3,438.1 660.7,437.3 660.1,436.5 659.5,435.8 658.9,435.1 658.3,434.6 657.7,434.2 657.0,433.8 656.3,433.5 655.7,433.3 655.0,433.2 654.3,433.2 653.6,433.3 652.9,433.5 652.1,433.7 651.4,434.0 650.7,434.5 649.9,435.0 649.1,435.5 648.4,436.2 647.6,437.0 646.8,437.8 646.0,438.7 645.2,439.7 644.3,440.7 643.5,441.8 642.7,443.0 641.8,444.3 640.9,445.6 640.0,447.0 639.1,448.5 638.2,450.0 637.3,451.6 636.4,453.2 635.4,454.9 634.5,456.7 633.5,458.4 632.5,460.3 631.5,462.1 630.4,464.0 629.4,466.0 628.3,468.0 627.2,470.0 626.1,472.0 625.0,474.1 623.8,476.1 622.7,478.2 621.5,480.3 620.3,482.5 619.1,484.6 617.8,486.7 616.6,488.9 615.3,491.0 614.0,493.2 612.7,495.3 611.4,497.4 610.0,499.6 608.6,501.7 607.2,503.7 605.8,505.8 604.4,507.8 602.9,509.9 601.5,511.9 600.0,513.8 598.5,515.7 597.0,517.6 595.5,519.5 594.0,521.3 592.4,523.1 590.9,524.8 589.3,526.5 587.7,528.1 586.2,529.7 584.6,531.2 583.0,532.7 581.4,534.1 579.8,535.4 578.2,536.7 576.6,538.0 575.0,539.2 573.4,540.3 571.8,541.3 570.2,542.3 568.6,543.2 567.0,544.1 565.5,544.9 563.9,545.6 562.4,546.2 560.8,546.8 559.3,547.3 557.7,547.7 556.2,548.1 554.7,548.4 553.3,548.6 551.8,548.7 550.3,548.8 548.9,548.8 547.5,548.7 546.1,548.6 544.7,548.3 543.3,548.1 542.0,547.7 540.6,547.3 539.3,546.8 538.0,546.2 536.7,545.6 535.5,544.9 534.2,544.2 533.0,543.3 531.8,542.5 530.6,541.5 529.4,540.5 528.2,539.5 527.1,538.4 525.9,537.2 524.8,536.0 523.7,534.7 522.6,533.4 521.5,532.0 520.5,530.6 519.4,529.1 518.4,527.6 517.3,526.1 516.3,524.5 515.3,522.9 514.3,521.2 513.3,519.5 512.3,517.8 511.3,516.1 510.4,514.3 509.4,512.5 508.4,510.7 507.5,508.9 506.5,507.1 505.6,505.2 504.6,503.4 503.7,501.5 502.7,499.6 501.8,497.7 500.9,495.8 500.0,494.0 499.1,492.1 498.2,490.2 497.2,488.4 496.4,486.5 495.5,484.7 494.6,482.9 493.7,481.1 492.8,479.3 492.0,477.6 491.1,475.8 490.3,474.2 489.5,472.5 488.7,470.9 487.9,469.3 487.1,467.7 486.3,466.2 485.6,464.7 484.8,463.3 484.1,461.9 483.4,460.5 482.8,459.2 482.1,458.0 481.5,456.8 480.9,455.6 480.3,454.6 479.7,453.5 479.2,452.6 478.7,451.6 478.2,450.8 477.8,450.0 477.4,449.3 477.0,448.6 476.6,448.0 476.3,447.5 476.0,447.0 475.8,446.6 475.6,446.3 475.4,446.0 475.3,445.8 475.1,445.7 475.1,445.6 475.0,445.6 475.0,445.7 475.0,445.8 475.1,446.0 475.2,446.3 475.3,446.7 475.5,447.1 475.7,447.6 475.9,448.1 476.2,448.7 476.5,449.4 476.8,450.1 477.2,450.9 477.6,451.8 478.0,452.7 478.5,453.7 478.9,454.7 479.4,455.8 480.0,457.0 480.5,458.2 481.1,459.4 481.7,460.7 482.3,462.1 482.9,463.5 483.6,464.9 484.3,466.4 485.0,467.9 485.7,469.5 486.4,471.1 487.1,472.7 487.9,474.4 488.6,476.1 489.4,477.8 490.2,479.6 491.0,481.4 491.8,483.1 492.6,485.0 493.4,486.8 494.2,488.6 495.1,490.5 495.9,492.4 496.7,494.2 497.6,496.1 498.5,498.0 499.3,499.9 500.2,501.7 501.1,503.6 501.9,505.4 502.8,507.3 503.7,509.1 504.6,510.9 505.5,512.7 506.4,514.5 507.3,516.3 508.3,518.0 509.2,519.7 510.1,521.4 511.1,523.0 512.1,524.6 513.0,526.2 514.0,527.7 515.0,529.2 516.0,530.7 517.0,532.1 518.1,533.4 519.1,534.7 520.2,536.0 521.2,537.2 522.3,538.3 523.4,539.4 524.6,540.5 525.7,541.5 526.9,542.4 528.0,543.3 529.2,544.1 530.4,544.8 531.7,545.5 532.9,546.1 534.2,546.6 535.5,547.1 536.8,547.5 538.1,547.8 539.5,548.1 540.8,548.3 542.2,548.4 543.6,548.5 545.0,548.5 546.5,548.4 547.9,548.3 549.4,548.0 550.9,547.7 552.4,547.4 553.9,546.9 555.4,546.4 557.0,545.8 558.5,545.2 560.1,544.5 561.6,543.7 563.2,542.8 564.8,541.9 566.4,540.9 568.0,539.8 569.6,538.7 571.2,537.6 572.8,536.3 574.4,535.0 576.0,533.7 577.6,532.2 579.2,530.8 580.8,529.2 582.4,527.7 583.9,526.0 585.5,524.4 587.1,522.6 588.6,520.9 590.2,519.1 591.7,517.2 593.3,515.4 594.8,513.4 596.3,511.5 597.7,509.5 599.2,507.5 600.7,505.5 602.1,503.4 603.5,501.4 604.9,499.3 606.3,497.2 607.7,495.1 609.0,492.9 610.4,490.8 611.7,488.7 613.0,486.6 614.2,484.4 615.5,482.3 616.7,480.2 617.9,478.1 619.1,476.0 620.3,474.0 621.5,471.9 622.6,469.9 623.8,467.9 624.9,466.0 626.0,464.1 627.1,462.2 628.1,460.3 629.2,458.5 630.2,456.7 631.2,455.0 632.2,453.4 633.2,451.7 634.2,450.2 635.2,448.7 636.1,447.2 637.1,445.8 638.0,444.5 638.9,443.3 639.8,442.1 640.7,441.0 641.6,439.9 642.5,438.9 643.4,438.1 644.2,437.2 645.1,436.5 645.9,435.8 646.8,435.3 647.6,434.8 648.4,434.4 649.2,434.0 650.0,433.8 650.8,433.6 651.6,433.6 652.3,433.6 653.1,433.7 653.8,433.9 654.6,434.1 655.3,434.5 656.0,435.0 656.7,435.5 657.4,436.1 658.1,436.8 658.8,437.6 659.4,438.5 660.1,439.4 660.7,440.5 661.3,441.6 661.9,442.8 662.4,444.0 663.0,445.4 663.5,446.8 664.0,448.3 664.5,449.8 665.0,451.4 665.4,453.1 665.9,454.9 666.3,456.7 666.6,458.5 667.0,460.4 667.3,462.4 667.6,464.4 667.9,466.4 668.1,468.5 668.3,470.7 668.5,472.8 668.7,475.0 668.8,477.3 668.9,479.5 669.0,481.8 669.0,484.1 669.0,486.4 669.0,488.7 668.9,491.1 668.8,493.4 668.7,495.8 668.5,498.1 668.3,500.4 668.1,502.8 667.9,505.1 667.6,507.4 667.3,509.6 667.0,511.9 666.6,514.1 666.2,516.3 665.8,518.5 665.3,520.6 664.8,522.7 664.3,524.7 663.8,526.8 663.2,528.7 662.6,530.6 662.0,532.5 661.3,534.3 660.7,536.0 660.0,537.7 659.3,539.3 658.6,540.8 657.8,542.3 657.1,543.7 656.3,545.1 655.5,546.4 654.6,547.5 653.8,548.7 653.0,549.7 652.1,550.7 651.2,551.5 650.3,552.3 649.4,553.1 648.5,553.7 647.6,554.2 646.7,554.7 645.7,555.1 644.8,555.4 643.8,555.6 642.8,555.7 641.9,555.8 640.9,555.7 639.9,555.6 638.9,555.4 637.9,555.1 636.9,554.7 635.9,554.3 634.9,553.7 633.8,553.1 632.8,552.4 631.8,551.7 630.7,550.8 629.7,549.9 628.6,548.9 627.5,547.8 626.5,546.7 625.4,545.5 624.3,544.3 623.2,542.9 622.1,541.6 621.0,540.1 619.9,538.6 618.7,537.1 617.6,535.5 616.4,533.8 615.3,532.1 614.1,530.4 612.9,528.6 611.7,526.8 610.5,524.9 609.3,523.1 608.0,521.1 606.8,519.2 605.5,517.2 604.2,515.2 602.9,513.2 601.6,511.2 600.3,509.2 599.0,507.1 597.6,505.1 596.2,503.0 594.9,500.9 593.5,498.9 592.0,496.8 590.6,494.8 589.2,492.7 587.7,490.7 586.2,488.7 584.7,486.7 583.2,484.7 581.7,482.8 580.2,480.8 578.7,478.9 577.1,477.1 575.6,475.2 574.0,473.4 572.4,471.6 570.8,469.9 569.3,468.2 567.7,466.6 566.1,465.0 564.5,463.4 562.9,461.9 561.3,460.5 559.7,459.0 558.1,457.7 556.5,456.4 554.9,455.2 553.3,454.0 551.7,452.9 550.1,451.8 548.6,450.8 547.0,449.9 545.5,449.0 544.0,448.2 542.4,447.5 540.9,446.8 539.5,446.2 538.0,445.7 536.5,445.2 535.1,444.8 533.7,444.5 532.3,444.2 530.9,444.0 529.5,443.9 528.2,443.9 526.9,443.9 525.6,444.0 524.3,444.2 523.1,444.4 521.8,444.7 520.6,445.1 519.5,445.5 518.3,446.0 517.2,446.6 516.1,447.2 515.0,447.9 513.9,448.7 512.9,449.5 511.9,450.4 510.9,451.3 509.9,452.3 508.9,453.4 508.0,454.5 507.1,455.6 506.2,456.9 505.3,458.1 504.4,459.5 503.6,460.8 502.8,462.2 501.9,463.7 501.1,465.2 500.4,466.7 499.6,468.3 498.8,469.9 498.1,471.6 497.3,473.2 496.6,474.9 495.9,476.7 495.2,478.4 494.5,480.2 493.8,482.0 493.2,483.8 492.5,485.7 491.8,487.5 491.2,489.3 490.5,491.2 489.9,493.1 489.3,494.9 488.6,496.8 488.0,498.7 487.4,500.5 486.8,502.4 486.2,504.2 485.7,506.1 485.1,507.9 484.5,509.7 484.0,511.5 483.5,513.2 482.9,515.0 482.4,516.7 481.9,518.4 481.4,520.0 481.0,521.6 480.5,523.2 480.1,524.7 479.6,526.2 479.2,527.7 478.8,529.1 478.5,530.5 478.1,531.8 477.8,533.1 477.5,534.3 477.2,535.5 477.0,536.6 476.8,537.7 476.6,538.7 476.4,539.6 476.3,540.5 476.2,541.4 476.1,542.1 476.0,542.8 476.0,543.5 476.0,544.0 476.1,544.5 476.2,545.0 476.3,545.4 476.4,545.7 476.6,545.9 476.8,546.1 477.1,546.2 477.4,546.2 477.7,546.2 478.0,546.1 478.4,545.9 478.8,545.7 479.3,545.4 479.8,545.0 480.3,544.6 480.9,544.1 481.4,543.5 482.0,542.9 482.7,542.2 483.4,541.4 484.1,540.6 484.8,539.7 485.5,538.8 486.3,537.8 487.1,536.7 488.0,535.6 488.8,534.4 489.7,533.2 490.6,531.9 491.5,530.6 492.4,529.2 493.4,527.8 494.3,526.3 495.3,524.8 496.3,523.3 497.3,521.7 498.3,520.1 499.3,518.4 500.4,516.7 501.4,515.0 502.5,513.2 503.5,511.5 504.6,509.7 505.6,507.9 506.7,506.0 507.8,504.2 508.9,502.3 510.0,500.4 511.1,498.5 512.2,496.7 513.3,494.8 514.4,492.9 515.5,491.0 516.6,489.1 517.7,487.2 518.8,485.3 519.9,483.4 521.0,481.6 522.1,479.7 523.2,477.9 524.4,476.1 525.5,474.3 526.6,472.6 527.8,470.9 528.9,469.2 530.1,467.5 531.2,465.9 532.4,464.3 533.5,462.7 534.7,461.2 535.9,459.8 537.1,458.3 538.3,457.0 539.5,455.6 540.7,454.3 542.0,453.1 543.2,451.9 544.5,450.8 545.7,449.8 547.0,448.8 548.3,447.8 549.6,446.9 550.9,446.1 552.3,445.4 553.6,444.7 555.0,444.1 556.3,443.5 557.7,443.0 559.1,442.6 560.6,442.3 562.0,442.0 563.4,441.8 564.9,441.7 566.4,441.6 567.8,441.6 569.3,441.7 570.8,441.9 572.4,442.1 573.9,442.5 575.4,442.8 577.0,443.3 578.5,443.8 580.1,444.4 581.6,445.1 583.2,445.9 584.7,446.7 586.3,447.6 587.9,448.5 589.5,449.5 591.0,450.6 592.6,451.8 594.2,453.0 595.7,454.3 597.3,455.6 598.8,457.1 600.4,458.5 601.9,460.0 603.4,461.6 604.9,463.2 606.4,464.9 607.9,466.7 609.4,468.4 610.9,470.3 612.3,472.1 613.7,474.0 615.1,476.0 616.5,477.9 617.9,479.9 619.2,482.0 620.6,484.1 621.9,486.1 623.2,488.3 624.5,490.4 625.7,492.5 626.9,494.7 628.1,496.8 629.3,499.0 630.5,501.2 631.6,503.4 632.7,505.5 633.8,507.7 634.9,509.9 635.9,512.0 636.9,514.2 637.9,516.3 638.9,518.4 639.9,520.4 640.8,522.5 641.7,524.5 642.6,526.5 643.5,528.4 644.3,530.3 645.1,532.2 645.9,534.0 646.7,535.7 647.5,537.5 648.3,539.1 649.0,540.7 649.7,542.3 650.4,543.7 651.1,545.2 651.8,546.5 652.5,547.8 653.1,549.0 653.7,550.2 654.3,551.2 655.0,552.2 655.5,553.2 656.1,554.0 656.7,554.7 657.2,555.4 657.8,556.0 658.3,556.5 658.8,556.9 659.3,557.3 659.8,557.5 660.3,557.7 660.8,557.8 661.3,557.8 661.7,557.6 662.1,557.5 662.6,557.2 663.0,556.8 663.4,556.4 663.7,555.8 664.1,555.2 664.5,554.5 664.8,553.7 665.1,552.8 665.4,551.8 665.7,550.8 666.0,549.7 666.3,548.5 666.5,547.2 666.7,545.9 666.9,544.4 667.1,543.0 667.3,541.4 667.4,539.8 667.5,538.1 667.6,536.3 667.7,534.5 667.7,532.7 667.7,530.8 667.7,528.8 667.7,526.8 667.6,524.7 667.5,522.7 667.4,520.5 667.3,518.4 667.1,516.2 666.9,514.0 666.7,511.7 666.4,509.4 666.1,507.2 665.8,504.9 665.5,502.6 665.1,500.3 664.7,497.9 664.2,495.6 663.7,493.3 663.2,491.0 662.7,488.7 662.1,486.4 661.5,484.2 660.9,481.9 660.3,479.7 659.6,477.5 658.9,475.3 658.1,473.2 657.4,471.1 656.6,469.0 655.8,467.0 654.9,465.1 654.0,463.1 653.2,461.3 652.2,459.4 651.3,457.7 650.3,456.0 649.4,454.3 648.4,452.7 647.3,451.2 646.3,449.8 645.3,448.4 644.2,447.1 643.1,445.8 642.0,444.7 640.9,443.6 639.8,442.5 638.6,441.6 637.5,440.7 636.3,440.0 635.2,439.3 634.0,438.6 632.8,438.1 631.7,437.6 630.5,437.2 629.3,436.9 628.1,436.7 626.9,436.6 625.7,436.5 624.4,436.6 623.2,436.7 622.0,436.9 620.8,437.1 619.6,437.5 618.3,437.9 617.1,438.4 615.9,439.0 614.7,439.7 613.4,440.4 612.2,441.2 611.0,442.1 609.8,443.0 608.5,444.0 607.3,445.1 606.1,446.3 604.8,447.5 603.6,448.7 602.3,450.1 601.1,451.5 599.8,452.9 598.6,454.4 597.3,455.9 596.0,457.5 594.8,459.1 593.5,460.8 592.2,462.5 590.9,464.3 589.6,466.1 588.3,467.9 587.0,469.8 585.7,471.6 584.3,473.6 583.0,475.5 581.6,477.4 580.3,479.4 578.9,481.4 577.5,483.4 576.1,485.4 574.7,487.4 573.3,489.4 571.9,491.4 570.5,493.4 569.0,495.4 567.6,497.4 566.1,499.4 564.6,501.4 563.1,503.4 561.7,505.3 560.2,507.3 558.7,509.2 557.2,511.0 555.6,512.9 554.1,514.7 552.6,516.5 551.1,518.3 549.5,520.0 548.0,521.7 546.5,523.3 544.9,525.0 543.4,526.5 541.9,528.0 540.4,529.5 538.9,530.9 537.3,532.3 535.8,533.6 534.3,534.9 532.9,536.1 531.4,537.2 529.9,538.3 528.5,539.4 527.0,540.3 525.6,541.2 524.2,542.1 522.8,542.9 521.5,543.6 520.1,544.2 518.8,544.8 517.5,545.3 516.2,545.8 514.9,546.2 513.7,546.5 512.5,546.7 511.3,546.9 510.1,547.0 509.0,547.0 507.9,547.0 506.8,546.9 505.8,546.7 504.7,546.5 503.7,546.2 502.7,545.8 501.8,545.4 500.9,544.9 500.0,544.3 499.1,543.7 498.3,543.0 497.5,542.2 496.7,541.4 495.9,540.5 495.2,539.6 494.5,538.6 493.8,537.5 493.1,536.4 492.5,535.2 491.8,534.0 491.2,532.7 490.6,531.4 490.1,530.0 489.5,528.6 489.0,527.2 488.5,525.7 488.0,524.1 487.5,522.6 487.0,520.9 486.6,519.3 486.2,517.6 485.7,515.9 485.3,514.2 484.9,512.4 484.5,510.7 484.2,508.9 483.8,507.1 483.4,505.2 483.1,503.4 482.7,501.5 482.4,499.7 482.1,497.8 481.8,496.0 481.5,494.1 481.2,492.2 480.9,490.4 480.6,488.5 480.4,486.7 480.1,484.9 479.9,483.1 479.7,481.3 479.4,479.5 479.2,477.8 479.0,476.1 478.9,474.4 478.7,472.7 478.6,471.1 478.4,469.5 478.3,467.9 478.2,466.4 478.1,464.9 478.1,463.4 478.0,462.0 478.0,460.7 478.0,459.4 478.0,458.1 478.1,456.9 478.2,455.7 478.3,454.7 478.4,453.6 478.6,452.6 478.7,451.7 479.0,450.8 479.2,450.0 479.5,449.3 479.8,448.6 480.1,448.0 480.5,447.4 480.9,446.9 481.3,446.5 481.8,446.2 482.3,445.9 482.8,445.7 483.4,445.5 484.0,445.4 484.6,445.4 485.3,445.5 486.0,445.6 486.7,445.8 487.4,446.0 488.2,446.4 489.1,446.8 489.9,447.2 490.8,447.7 491.7,448.3 492.6,449.0 493.6,449.7 494.6,450.5 495.6,451.4 496.6,452.3 497.7,453.2 498.8,454.3 499.9,455.3 501.0,456.5 502.2,457.7 503.3,458.9 504.5,460.2 505.7,461.6 506.9,463.0 508.2,464.4 509.4,465.9 510.6,467.4 511.9,469.0 513.2,470.6 514.4,472.2 515.7,473.9 517.0,475.6 518.3,477.4 519.6,479.1 520.9,480.9 522.2,482.8 523.5,484.6 524.8,486.4 526.1,488.3 527.4,490.2 528.7,492.1 530.0,494.0 531.3,495.9 532.6,497.9 533.9,499.8 535.2,501.7 536.4,503.6 537.7,505.5 539.0,507.4 540.3,509.3 541.6,511.2 542.9,513.1 544.1,514.9 545.4,516.7 546.7,518.5 548.0,520.3 549.3,522.0 550.5,523.8 551.8,525.4 553.1,527.1 554.4,528.7 555.7,530.3 557.0,531.8 558.2,533.3 559.5,534.7 560.8,536.1 562.1,537.5 563.4,538.8 564.8,540.0 566.1,541.2 567.4,542.3 568.7,543.4 570.1,544.4 571.4,545.3 572.8,546.2 574.1,547.0 575.5,547.7 576.9,548.4 578.3,549.0 579.7,549.6 581.1,550.0 582.5,550.4 583.9,550.7 585.3,551.0 586.8,551.1 588.2,551.2 589.7,551.3 591.1,551.2 592.6,551.1 594.0,550.9 595.5,550.6 597.0,550.2 598.4,549.8 599.9,549.3 601.4,548.7 602.9,548.0 604.3,547.3 605.8,546.4 607.3,545.6 608.7,544.6 610.2,543.6 611.7,542.5 613.1,541.3 614.6,540.0 616.0,538.7 617.4,537.4 618.8,535.9 620.2,534.4 621.6,532.9 623.0,531.3 624.4,529.6 625.7,527.9 627.0,526.1 628.4,524.3 629.6,522.4 630.9,520.5 632.2,518.5 633.4,516.5 634.6,514.5 635.8,512.4 637.0,510.3 638.1,508.1 639.2,506.0 640.3,503.8 641.4,501.6 642.4,499.4 643.4,497.2 644.4,494.9 645.4,492.7 646.3,490.4 647.2,488.2 648.1,485.9 649.0,483.7 649.8,481.4 650.6,479.2 651.4,477.0 652.2,474.8 652.9,472.6 653.6,470.5 654.3,468.4 654.9,466.3 655.5,464.3 656.1,462.3 656.7,460.3 657.3,458.4 657.8,456.5 658.3,454.7 658.8,452.9 659.3,451.2 659.8,449.5 660.2,447.9 660.6,446.4 661.0,444.9 661.4,443.5 661.7,442.2 662.1,440.9 662.4,439.8 662.7,438.7 663.0,437.6 663.3,436.7 663.5,435.8 663.8,435.0 664.0,434.3 664.2,433.7 664.4,433.2 664.6,432.7 664.8,432.4 665.0,432.1 665.1,431.9 665.3,431.9 665.4,431.9 665.5,431.9 665.6,432.1 665.7,432.4 665.8,432.8 665.8,433.2 665.9,433.7 665.9,434.4 665.9,435.1 665.9,435.8 665.9,436.7 665.9,437.7 665.9,438.7 665.8,439.8 665.7,441.0 665.6,442.3 665.5,443.6 665.4,445.0 665.2,446.5 665.0,448.1 664.9,449.7 664.6,451.4 664.4,453.1 664.1,454.9 663.9,456.7 663.5,458.6 663.2,460.6 662.9,462.6 662.5,464.6 662.1,466.7 661.6,468.8 661.2,470.9 660.7,473.1 660.2,475.3 659.6,477.5 659.1,479.8 658.5,482.0 657.8,484.3 657.2,486.6 656.5,488.9 655.8,491.2 655.1,493.4 654.3,495.7 653.5,498.0 652.7,500.3 651.8,502.5 650.9,504.8 650.0,507.0 649.1,509.2 648.1,511.4 647.1,513.5 646.1,515.6 645.1,517.7 644.0,519.7 642.9,521.7 641.8,523.6 640.7,525.5 639.6,527.4 638.4,529.2 637.2,530.9 636.0,532.6 634.8,534.3 633.5,535.9 632.3,537.4 631.0,538.8 629.7,540.2 628.4,541.5 627.1,542.8 625.8,543.9 624.4,545.0 623.1,546.1 621.8,547.0 620.4,547.9 619.0,548.7 617.7,549.4 616.3,550.1 614.9,550.7 613.6,551.2 612.2,551.6 610.8,551.9 609.4,552.2 608.1,552.4 606.7,552.5 605.3,552.5 603.9,552.4 602.6,552.3 601.2,552.1 599.8,551.8 598.5,551.5 597.1,551.0 595.8,550.5 594.4,549.9 593.1,549.3 591.7,548.5 590.4,547.8 589.1,546.9 587.7,546.0 586.4,545.0 585.1,543.9 583.7,542.8 582.4,541.6 581.1,540.4 579.8,539.1 578.5,537.7 577.2,536.3 575.9,534.9 574.5,533.4 573.2,531.9 571.9,530.3 570.6,528.6 569.3,527.0 568.0,525.3 566.7,523.5 565.3,521.8 564.0,520.0 562.7,518.2 561.3,516.3 560.0,514.4 558.6,512.6 557.3,510.7 555.9,508.7 554.6,506.8 553.2,504.9 551.8,502.9 550.5,501.0 549.1,499.0 547.7,497.1 546.3,495.1 544.9,493.2 543.5,491.3 542.1,489.3 540.7,487.4 539.3,485.5 537.9,483.7 536.4,481.8 535.0,480.0 533.6,478.2 532.2,476.4 530.7,474.7 529.3,473.0 527.9,471.3 526.5,469.6 525.1,468.0 523.7,466.5 522.3,465.0 520.9,463.5 519.5,462.1 518.2,460.7 516.8,459.4 515.5,458.1 514.1,456.8 512.8,455.7 511.5,454.6 510.3,453.5 509.0,452.5 507.8,451.6 506.5,450.7 505.3,449.9 504.2,449.1 503.0,448.4 501.9,447.8 500.8,447.2 499.7,446.7 498.7,446.3 497.6,446.0 496.6,445.7 495.7,445.4 494.8,445.3 493.8,445.2 493.0,445.2 492.1,445.2 491.3,445.4 490.5,445.5 489.8,445.8 489.1,446.1 488.4,446.5 487.7,447.0 487.1,447.5 486.5,448.1 486.0,448.7 485.4,449.4 484.9,450.2 484.4,451.1 484.0,452.0 483.6,452.9 483.2,453.9 482.8,455.0 482.5,456.1 482.1,457.3 481.8,458.5 481.6,459.8 481.3,461.2 481.1,462.5 480.9,464.0 480.7,465.4 480.5,466.9 480.4,468.5 480.2,470.1 480.1,471.7 480.0,473.3 479.9,475.0 479.9,476.7 479.8,478.5 479.7,480.2 479.7,482.0 479.7,483.8 479.7,485.6 479.7,487.4 479.7,489.3 479.7,491.1 479.7,493.0 479.8,494.8 479.8,496.7 479.9,498.6 479.9,500.4 480.0,502.3 480.1,504.1 480.2,505.9 480.3,507.8 480.4,509.6 480.6,511.3 480.7,513.1 480.9,514.9 481.0,516.6 481.2,518.3 481.4,519.9 481.6,521.5 481.8,523.1 482.1,524.7 482.3,526.2 482.6,527.7 482.9,529.1 483.2,530.5 483.6,531.8 483.9,533.1 484.3,534.4 484.7,535.5 485.1,536.7 485.6,537.8 486.1,538.8 486.6,539.8 487.1,540.7 487.6,541.5 488.2,542.3 488.8,543.0 489.5,543.7 490.1,544.3 490.8,544.8 491.6,545.3 492.3,545.7 493.1,546.0 493.9,546.3 494.8,546.5 495.7,546.6 496.6,546.7 497.5,546.7 498.5,546.6 499.5,546.4 500.5,546.2 501.5,546.0 502.6,545.6 503.7,545.2 504.8,544.7 506.0,544.2 507.2,543.5 508.4,542.9 509.6,542.1 510.8,541.3 512.1,540.4 513.4,539.5 514.7,538.5 516.0,537.4 517.4,536.3 518.7,535.2 520.1,533.9 521.5,532.7 522.9,531.3 524.3,529.9 525.7,528.5 527.1,527.0 528.5,525.5 530.0,524.0 531.4,522.3 532.8,520.7 534.3,519.0 535.7,517.3 537.2,515.5 538.6,513.8 540.1,511.9 541.5,510.1 543.0,508.2 544.4,506.4 545.8,504.5 547.3,502.5 548.7,500.6 550.1,498.6 551.5,496.7 552.9,494.7 554.3,492.8 555.7,490.8 557.1,488.8 558.5,486.8 559.9,484.9 561.3,482.9 562.6,481.0 564.0,479.0 565.3,477.1 566.7,475.2 568.0,473.4 569.4,471.5 570.7,469.7 572.0,467.9 573.3,466.1 574.7,464.4 576.0,462.7 577.3,461.0 578.6,459.4 579.9,457.8 581.2,456.3 582.5,454.8 583.8,453.4 585.1,452.0 586.4,450.7 587.7,449.4 589.0,448.2 590.3,447.1 591.7,446.0 593.0,444.9 594.3,444.0 595.6,443.1 596.9,442.3 598.2,441.5 599.6,440.8 600.9,440.2 602.2,439.7 603.5,439.2 604.9,438.8 606.2,438.5 607.5,438.2 608.9,438.1 610.2,438.0 611.6,438.0 612.9,438.1 614.3,438.2 615.6,438.5 616.9,438.8 618.3,439.2 619.6,439.7 620.9,440.2 622.3,440.8 623.6,441.6 624.9,442.3 626.2,443.2 627.5,444.1 628.8,445.2 630.1,446.3 631.4,447.4 632.6,448.7 633.9,450.0 635.1,451.3 636.3,452.8 637.5,454.3 638.7,455.8 639.9,457.5 641.0,459.1 642.2,460.9 643.3,462.7 644.4,464.5 645.5,466.4 646.5,468.4 647.5,470.3 648.5,472.4 649.5,474.4 650.5,476.5 651.4,478.7 652.3,480.8 653.1,483.0 654.0,485.3 654.8,487.5 655.6,489.7 656.3,492.0 657.1,494.3 657.8,496.6 658.4,498.9 659.1,501.2 659.7,503.4 660.3,505.7 660.8,508.0 661.3,510.2 661.8,512.5 662.3,514.7 662.7,516.9 663.2,519.1 663.5,521.2 663.9,523.3 664.2,525.4 664.5,527.4 664.8,529.4 665.1,531.4 665.3,533.3 665.5,535.1 665.7,536.9 665.8,538.6 666.0,540.3 666.1,541.9 666.2,543.5 666.2,545.0 666.3,546.4 666.3,547.7 666.3,549.0 666.3,550.2 666.3,551.3 666.3,552.3 666.2,553.3 666.1,554.2 666.0,555.0 665.9,555.7 665.8,556.3 665.7,556.8 665.5,557.3 665.4,557.6 665.2,557.9 665.0,558.1 664.8,558.2 664.6,558.2 664.4,558.1 664.2,557.9 663.9,557.7 663.6,557.3 663.4,556.9 663.1,556.4 662.8,555.8 662.5,555.1 662.1,554.3 661.8,553.4 661.4,552.5 661.1,551.5 660.7,550.4 660.3,549.2 659.8,548.0 659.4,546.7 659.0,545.3 658.5,543.8 658.0,542.3 657.5,540.7 657.0,539.1 656.4,537.4 655.8,535.7 655.3,533.8 654.6,532.0 654.0,530.1 653.4,528.2 652.7,526.2 652.0,524.2 651.3,522.1 650.5,520.0 649.8,517.9 649.0,515.8 648.1,513.6 647.3,511.4 646.4,509.2 645.5,507.0 644.6,504.8 643.7,502.6 642.7,500.4 641.7,498.1 640.7,495.9 639.6,493.7 638.5,491.5 637.4,489.3 636.3,487.1 635.2,485.0 634.0,482.9 632.8,480.7 631.6,478.7 630.3,476.6 629.1,474.6 627.8,472.6 626.5,470.7 625.2,468.8 623.8,467.0 622.5,465.2 621.1,463.4 619.7,461.7 618.3,460.1 616.9,458.5 615.4,456.9 614.0,455.5 612.5,454.0 611.1,452.7 609.6,451.4 608.1,450.2 606.6,449.0 605.1,447.9 603.6,446.9 602.1,446.0 600.6,445.1 599.1,444.3 597.6,443.6 596.1,442.9 594.6,442.3 593.1,441.8 591.6,441.4 590.1,441.0 588.6,440.7 587.1,440.5 585.6,440.4 584.2,440.4 582.7,440.4 581.2,440.5 579.8,440.7 578.4,440.9 576.9,441.2 575.5,441.6 574.1,442.1 572.7,442.6 571.3,443.2 569.9,443.9 568.5,444.6 567.2,445.4 565.8,446.3 564.5,447.2 563.1,448.2 561.8,449.3 560.5,450.4 559.2,451.6 557.9,452.8 556.6,454.1 555.3,455.4 554.0,456.8 552.8,458.2 551.5,459.7 550.2,461.2 549.0,462.8 547.7,464.4 546.4,466.0 545.2,467.7 543.9,469.4 542.7,471.2 541.5,472.9 540.2,474.7 539.0,476.5 537.7,478.4 536.5,480.2 535.2,482.1 534.0,484.0 532.7,485.9 531.5,487.8 530.3,489.7 529.0,491.6 527.8,493.6 526.5,495.5 525.3,497.4 524.0,499.3 522.8,501.2 521.5,503.1 520.3,505.0 519.0,506.8 517.8,508.7 516.5,510.5 515.3,512.3 514.1,514.1 512.9,515.8 511.6,517.5 510.4,519.2 509.2,520.9 508.0,522.5 506.8,524.0 505.6,525.6 504.5,527.1 503.3,528.5 502.2,529.9 501.0,531.3 499.9,532.6 498.8,533.9 497.8,535.1 496.7,536.2 495.7,537.3 494.6,538.3 493.7,539.3 492.7,540.2 491.7,541.1 490.8,541.9 489.9,542.6 489.1,543.3 488.2,543.9 487.4,544.4 486.6,544.9 485.9,545.3 485.2,545.6 484.5,545.9 483.8,546.1 483.2,546.3 482.6,546.3 482.1,546.3 481.6,546.3 481.1,546.1 480.6,545.9 480.2,545.6 479.8,545.3 479.5,544.9 479.1,544.4 478.8,543.9 478.6,543.3 478.4,542.6 478.2,541.9 478.0,541.1 477.9,540.2 477.7,539.3 477.7,538.3 477.6,537.3 477.6,536.2 477.6,535.0 477.6,533.8 477.7,532.6 477.7,531.3 477.8,529.9 477.9,528.6 478.1,527.1 478.2,525.6 478.4,524.1 478.6,522.6 478.8,521.0 479.0,519.3 479.3,517.7 479.5,516.0 479.8,514.3 480.1,512.5 480.4,510.7 480.7,509.0 481.0,507.2 481.3,505.3 481.6,503.5 482.0,501.7 482.3,499.8 482.7,497.9 483.1,496.1 483.4,494.2 483.8,492.3 484.2,490.5 484.6,488.6 485.1,486.8 485.5,485.0 485.9,483.2 486.4,481.4 486.8,479.6 487.3,477.8 487.8,476.1 488.3,474.4 488.8,472.7 489.3,471.0 489.8,469.4 490.4,467.8 490.9,466.3 491.5,464.8 492.1,463.3 492.7,461.9 493.3,460.5 494.0,459.2 494.7,457.9 495.4,456.7 496.1,455.5 496.8,454.3 497.6,453.3 498.3,452.3 499.1,451.3 500.0,450.4 500.8,449.6 501.7,448.8 502.6,448.1 503.5,447.4 504.5,446.8 505.4,446.3 506.4,445.8 507.5,445.4 508.5,445.1 509.6,444.9 510.7,444.7 511.9,444.6 513.0,444.5 514.2,444.5 515.4,444.6 516.7,444.8 517.9,445.0 519.2,445.3 520.5,445.7 521.9,446.1 523.2,446.6 524.6,447.2 526.0,447.8 527.4,448.5 528.8,449.3 530.3,450.1 531.7,451.0 533.2,452.0 534.7,453.0 536.2,454.0 537.7,455.2 539.2,456.4 540.7,457.6 542.3,458.9 543.8,460.3 545.4,461.7 546.9,463.2 548.5,464.7 550.0,466.2 551.6,467.8 553.2,469.5 554.7,471.1 556.3,472.9 557.8,474.6 559.4,476.4 560.9,478.2 562.5,480.1 564.0,482.0 565.5,483.9 567.0,485.8 568.5,487.7 570.0,489.7 571.5,491.7 573.0,493.7 574.4,495.7" fill="none" stroke="#e8e8e8" stroke-width="0.9" opacity="0.5" filter="url(#blur4)"/>
<path d="M475,445.6 Q570.35,443.9 665.7,431.8" fill="none" stroke="url(#edgeG)" stroke-width="1.0" filter="url(#blur2)"/>
<path d="M665.7,558.3 Q570.5,547.85 475.3,546.2" fill="none" stroke="url(#edgeG)" stroke-width="1.0" filter="url(#blur2)"/>
<path d="M475.3,546.2 Q484.35,495.9 475,445.6" fill="none" stroke="#fff" stroke-width="2.2" opacity="0.3" filter="url(#blur1)"/>
<path d="M475.3,546.2 Q484.35,495.9 475,445.6" fill="none" stroke="#fff" stroke-width="1.05" opacity="0.9" filter="url(#blur2)"/>
<path d="M665.7,431.8 Q672.5,495.05 665.7,558.3" fill="none" stroke="#fff" stroke-width="2.2" opacity="0.3" filter="url(#blur1)"/>
<path d="M665.7,431.8 Q672.5,495.05 665.7,558.3" fill="none" stroke="#fff" stroke-width="1.05" opacity="0.9" filter="url(#blur2)"/>
<text x="231.8" y="439.2" font-size="21" text-anchor="start" class="b" fill="#fff" stroke="#fff" stroke-width="0.45">g</text>
<text x="459.6" y="439.7" font-size="21" text-anchor="start" class="b" fill="#fff" stroke="#fff" stroke-width="0.45">h</text>
</svg>
</body></html>
